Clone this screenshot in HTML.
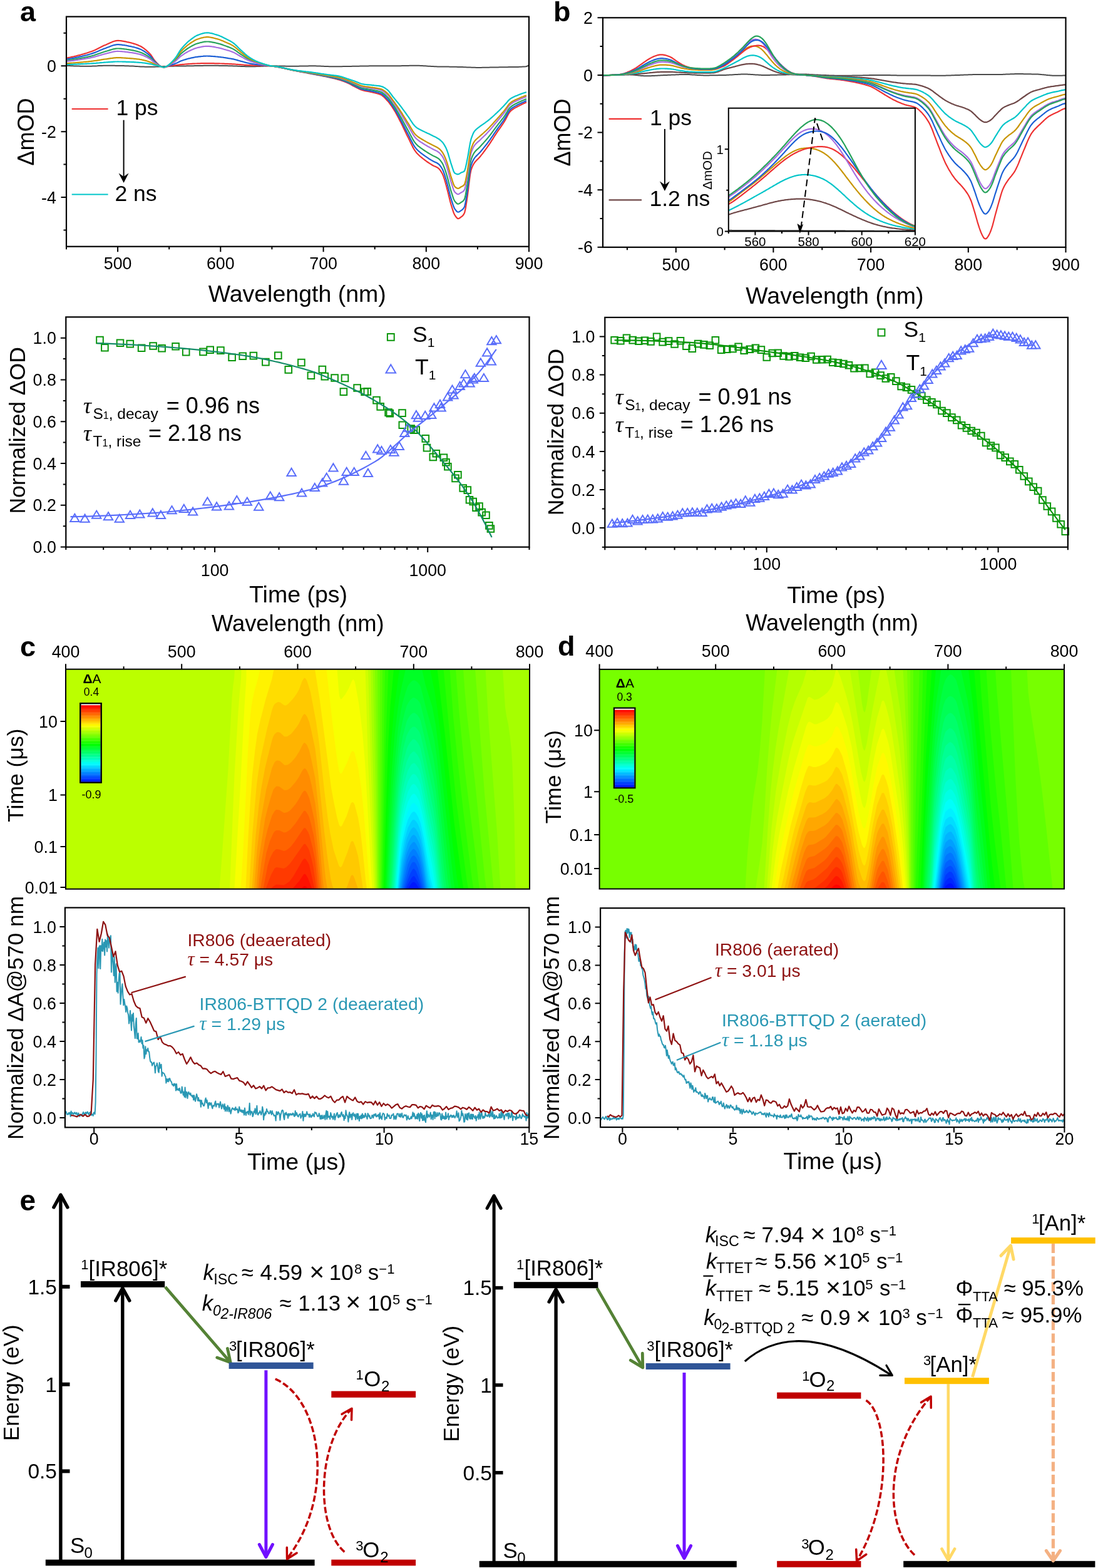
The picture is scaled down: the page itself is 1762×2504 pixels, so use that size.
<!DOCTYPE html>
<html><head><meta charset="utf-8"><style>html,body{margin:0;padding:0;background:#fff}svg{display:block}</style></head>
<body><svg xmlns="http://www.w3.org/2000/svg" width="1762" height="2504" viewBox="0 0 1762 2504" font-family="Liberation Sans, Arial, sans-serif">
<rect width="1762" height="2504" fill="#fff"/>
<path d="M106 104.7L108.5 104.9L110.9 105L113.4 105.2L115.9 105.3L118.4 105.4L120.8 105.5L123.3 105.6L125.8 105.6L128.2 105.7L130.7 105.7L133.2 105.8L135.7 105.8L138.1 105.8L140.6 105.8L143.1 105.7L145.5 105.7L148 105.6L150.5 105.5L153 105.4L155.4 105.3L157.9 105.1L160.4 105L162.8 104.9L165.3 104.8L167.8 104.8L170.3 104.7L172.7 104.7L175.2 104.7L177.7 104.8L180.1 104.8L182.6 104.8L185.1 104.9L187.6 104.9L190 104.9L192.5 105L195 105L197.4 105.1L199.9 105.2L202.4 105.2L204.9 105.3L207.3 105.4L209.8 105.5L212.3 105.6L214.7 105.7L217.2 105.9L219.7 106.1L222.2 106.2L224.6 106.4L227.1 106.5L229.6 106.6L232.1 106.7L234.5 106.8L237 106.8L239.5 106.8L241.9 106.8L244.4 106.7L246.9 106.7L249.4 106.6L251.8 106.5L254.3 106.4L256.8 106.3L259.2 106.2L261.7 106.1L264.2 106L266.7 105.9L269.1 105.8L271.6 105.8L274.1 105.7L276.5 105.7L279 105.6L281.5 105.6L284 105.5L286.4 105.5L288.9 105.5L291.4 105.4L293.8 105.4L296.3 105.4L298.8 105.3L301.3 105.3L303.7 105.3L306.2 105.2L308.7 105.2L311.1 105.1L313.6 105.1L316.1 105L318.6 105L321 104.9L323.5 104.9L326 104.8L328.4 104.8L330.9 104.8L333.4 104.7L335.9 104.7L338.3 104.7L340.8 104.8L343.3 104.8L345.7 104.8L348.2 104.8L350.7 104.9L353.2 104.9L355.6 105L358.1 105L360.6 105.1L363 105.1L365.5 105.2L368 105.2L370.5 105.3L372.9 105.4L375.4 105.5L377.9 105.6L380.3 105.7L382.8 105.8L385.3 105.9L387.8 106L390.2 106.1L392.7 106.2L395.2 106.2L397.6 106.3L400.1 106.3L402.6 106.3L405.1 106.3L407.5 106.2L410 106.1L412.5 106L414.9 105.9L417.4 105.8L419.9 105.7L422.4 105.6L424.8 105.5L427.3 105.4L429.8 105.3L432.2 105.3L434.7 105.3L437.2 105.3L439.7 105.3L442.1 105.3L444.6 105.4L447.1 105.4L449.5 105.5L452 105.6L454.5 105.6L457 105.7L459.4 105.7L461.9 105.8L464.4 105.8L466.8 105.8L469.3 105.8L471.8 105.8L474.3 105.7L476.7 105.7L479.2 105.6L481.7 105.6L484.2 105.5L486.6 105.5L489.1 105.4L491.6 105.4L494 105.3L496.5 105.3L499 105.3L501.5 105.3L503.9 105.3L506.4 105.4L508.9 105.4L511.3 105.5L513.8 105.7L516.3 105.8L518.8 105.9L521.2 106L523.7 106.1L526.2 106.2L528.6 106.3L531.1 106.3L533.6 106.3L536.1 106.3L538.5 106.3L541 106.3L543.5 106.2L545.9 106.2L548.4 106.1L550.9 106.1L553.4 106L555.8 106L558.3 105.9L560.8 105.9L563.2 105.8L565.7 105.8L568.2 105.7L570.7 105.7L573.1 105.7L575.6 105.6L578.1 105.5L580.5 105.5L583 105.4L585.5 105.4L588 105.4L590.4 105.3L592.9 105.3L595.4 105.3L597.8 105.3L600.3 105.3L602.8 105.3L605.3 105.3L607.7 105.3L610.2 105.3L612.7 105.3L615.1 105.3L617.6 105.3L620.1 105.3L622.6 105.3L625 105.3L627.5 105.3L630 105.3L632.4 105.3L634.9 105.2L637.4 105.2L639.9 105.2L642.3 105.1L644.8 105.1L647.3 105L649.7 105L652.2 104.9L654.7 104.8L657.2 104.8L659.6 104.8L662.1 104.7L664.6 104.7L667 104.8L669.5 104.8L672 104.9L674.5 105L676.9 105.2L679.4 105.3L681.9 105.5L684.3 105.7L686.8 105.8L689.3 106L691.8 106.1L694.2 106.2L696.7 106.3L699.2 106.4L701.6 106.4L704.1 106.5L706.6 106.5L709.1 106.5L711.5 106.6L714 106.6L716.5 106.6L718.9 106.7L721.4 106.7L723.9 106.7L726.4 106.8L728.8 106.8L731.3 106.9L733.8 106.9L736.3 107L738.7 107.1L741.2 107.2L743.7 107.3L746.1 107.4L748.6 107.5L751.1 107.6L753.6 107.7L756 107.8L758.5 107.8L761 107.9L763.4 107.9L765.9 107.9L768.4 107.9L770.9 107.8L773.3 107.8L775.8 107.8L778.3 107.7L780.7 107.7L783.2 107.6L785.7 107.6L788.2 107.5L790.6 107.5L793.1 107.4L795.6 107.4L798 107.3L800.5 107.3L803 107.3L805.5 107.2L807.9 107.2L810.4 107.2L812.9 107.1L815.3 107.1L817.8 107.1L820.3 107L822.8 107L825.2 106.9L827.7 106.9L830.2 106.8L832.6 106.7L835.1 106.6L837.6 106.5L840.1 106.3L842.5 105.5L845 104.2" stroke="#4a4a4a" stroke-width="2.0" fill="none" stroke-linejoin="round"/>
<path d="M106 92.7L107.5 92.5L108.9 92.2L110.4 91.9L111.9 91.6L113.4 91.2L114.8 90.9L116.3 90.6L117.8 90.3L119.3 89.9L120.7 89.6L122.2 89.2L123.7 88.8L125.1 88.4L126.6 88.1L128.1 87.7L129.6 87.3L131 86.9L132.5 86.5L134 86.1L135.5 85.6L136.9 85.2L138.4 84.8L139.9 84.3L141.3 83.8L142.8 83.3L144.3 82.8L145.8 82.3L147.2 81.8L148.7 81.2L150.2 80.6L151.7 79.9L153.1 79.2L154.6 78.5L156.1 77.7L157.5 77L159 76.2L160.5 75.5L162 74.7L163.4 74L164.9 73.3L166.4 72.6L167.9 72L169.3 71.4L170.8 70.7L172.3 70.1L173.7 69.4L175.2 68.7L176.7 68L178.2 67.4L179.6 66.8L181.1 66.2L182.6 65.8L184.1 65.4L185.5 65.1L187 64.9L188.5 64.9L189.9 64.9L191.4 65L192.9 65.2L194.4 65.4L195.8 65.6L197.3 65.8L198.8 66.1L200.3 66.4L201.7 66.7L203.2 67.1L204.7 67.4L206.1 67.7L207.6 68L209.1 68.4L210.6 68.8L212 69.2L213.5 69.6L215 70.1L216.5 70.5L217.9 71.1L219.4 71.6L220.9 72.2L222.3 72.9L223.8 73.6L225.3 74.3L226.8 75.2L228.2 76.1L229.7 77.2L231.2 78.3L232.7 79.5L234.1 80.7L235.6 82.1L237.1 83.5L238.5 84.9L240 86.5L241.5 88.3L243 90.5L244.4 92.9L245.9 95.1L247.4 97L248.9 98.7L250.3 100.3L251.8 101.9L253.3 103.3L254.7 104.6L256.2 105.4L257.7 106.2L259.2 106.8L260.6 107.2L262.1 107.4L263.6 107.2L265.1 106.9L266.5 106.5L268 106.1L269.5 105.7L270.9 105.3L272.4 105.1L273.9 104.9L275.4 104.7L276.8 104.6L278.3 104.4L279.8 104.3L281.3 104.1L282.7 104L284.2 103.8L285.7 103.6L287.1 103.4L288.6 103.2L290.1 103.1L291.6 102.9L293 102.8L294.5 102.7L296 102.5L297.5 102.4L298.9 102.3L300.4 102.2L301.9 102.1L303.3 102L304.8 101.9L306.3 101.8L307.8 101.7L309.2 101.7L310.7 101.6L312.2 101.5L313.7 101.5L315.1 101.4L316.6 101.4L318.1 101.3L319.5 101.3L321 101.2L322.5 101.2L324 101.2L325.4 101.1L326.9 101.1L328.4 101.1L329.9 101.1L331.3 101.1L332.8 101.1L334.3 101.1L335.7 101.1L337.2 101.1L338.7 101.2L340.2 101.2L341.6 101.2L343.1 101.3L344.6 101.3L346.1 101.3L347.5 101.4L349 101.4L350.5 101.4L351.9 101.5L353.4 101.5L354.9 101.6L356.4 101.7L357.8 101.7L359.3 101.8L360.8 101.8L362.3 101.9L363.7 101.9L365.2 102L366.7 102.1L368.1 102.1L369.6 102.2L371.1 102.3L372.6 102.4L374 102.4L375.5 102.5L377 102.7L378.5 102.8L379.9 102.9L381.4 103L382.9 103.1L384.3 103.2L385.8 103.3L387.3 103.4L388.8 103.5L390.2 103.7L391.7 103.8L393.2 103.9L394.7 104L396.1 104L397.6 104.1L399.1 104.2L400.5 104.3L402 104.4L403.5 104.4L405 104.5L406.4 104.6L407.9 104.6L409.4 104.7L410.9 104.7L412.3 104.8L413.8 104.8L415.3 104.9L416.7 104.9L418.2 104.9L419.7 105L421.2 105L422.6 105L424.1 105.1L425.6 105.1L427.1 105.2L428.5 105.2L430 105.2L431.5 105.2L432.9 105.3L434.4 105.5L435.9 105.7L437.4 105.9L438.8 106.2L440.3 106.4L441.8 106.7L443.3 106.9L444.7 107.2L446.2 107.5L447.7 107.8L449.1 108.1L450.6 108.4L452.1 108.7L453.6 109L455 109.4L456.5 109.7L458 110L459.5 110.4L460.9 110.7L462.4 111L463.9 111.4L465.3 111.7L466.8 112L468.3 112.3L469.8 112.6L471.2 112.9L472.7 113.2L474.2 113.4L475.7 113.7L477.1 114L478.6 114.3L480.1 114.6L481.5 114.9L483 115.1L484.5 115.4L486 115.7L487.4 116L488.9 116.2L490.4 116.5L491.9 116.8L493.3 117.1L494.8 117.4L496.3 117.6L497.7 117.9L499.2 118.2L500.7 118.5L502.2 118.8L503.6 119L505.1 119.3L506.6 119.6L508.1 119.9L509.5 120.2L511 120.5L512.5 120.7L513.9 121L515.4 121.3L516.9 121.6L518.4 121.9L519.8 122.2L521.3 122.5L522.8 122.9L524.3 123.2L525.7 123.5L527.2 123.8L528.7 124.1L530.1 124.5L531.6 124.8L533.1 125.2L534.6 125.5L536 125.9L537.5 126.3L539 126.7L540.5 127.1L541.9 127.5L543.4 128L544.9 128.4L546.3 128.9L547.8 129.5L549.3 130L550.8 130.6L552.2 131.1L553.7 131.8L555.2 132.4L556.7 133.1L558.1 133.8L559.6 134.6L561.1 135.4L562.5 136.2L564 137L565.5 137.8L567 138.6L568.4 139.3L569.9 140.1L571.4 140.8L572.9 141.5L574.3 142.3L575.8 142.9L577.3 143.5L578.7 144L580.2 144.4L581.7 144.8L583.2 145.1L584.6 145.4L586.1 145.7L587.6 146L589.1 146.2L590.5 146.5L592 146.8L593.5 147.2L594.9 147.5L596.4 147.8L597.9 148.2L599.4 148.5L600.8 148.9L602.3 149.2L603.8 149.7L605.3 150.1L606.7 150.7L608.2 151.3L609.7 152L611.1 153.1L612.6 154.3L614.1 155.7L615.6 157.3L617 158.9L618.5 160.5L620 162.1L621.5 163.9L622.9 165.8L624.4 167.8L625.9 169.9L627.3 172.1L628.8 174.4L630.3 176.8L631.8 179.3L633.2 182L634.7 184.7L636.2 187.6L637.7 190.4L639.1 193.3L640.6 196.1L642.1 199.1L643.5 202.1L645 205.2L646.5 208.3L648 211.4L649.4 214.5L650.9 217.4L652.4 220.3L653.9 223.4L655.3 226.5L656.8 229.5L658.3 232.5L659.7 235.4L661.2 238L662.7 240.4L664.2 242.4L665.6 244.2L667.1 245.8L668.6 247.3L670.1 248.7L671.5 250L673 251.2L674.5 252.4L675.9 253.5L677.4 254.7L678.9 255.8L680.4 256.9L681.8 258L683.3 259L684.8 260L686.3 260.9L687.7 261.9L689.2 262.8L690.7 263.7L692.1 264.5L693.6 265.2L695.1 265.8L696.6 266.5L698 267.2L699.5 268.2L701 269.3L702.5 270.9L703.9 272.9L705.4 275.3L706.9 278L708.3 281.4L709.8 285.8L711.3 290.9L712.8 296.2L714.2 301.6L715.7 307.5L717.2 313.8L718.7 319.9L720.1 325.3L721.6 330.2L723.1 334.9L724.5 339.2L726 342.6L727.5 345L729 347.1L730.4 348.6L731.9 349.1L733.4 348.7L734.9 347.8L736.3 346.7L737.8 345.6L739.3 344.3L740.7 342.5L742.2 339.5L743.7 332.7L745.2 323.4L746.6 313.9L748.1 302.6L749.6 289.7L751.1 278.4L752.5 271.5L754 267.4L755.5 264.1L756.9 261.5L758.4 259.3L759.9 257.5L761.4 255.9L762.8 254.5L764.3 253.1L765.8 251.5L767.3 249.8L768.7 247.9L770.2 246.1L771.7 244.2L773.1 242.2L774.6 240.3L776.1 238.2L777.6 236.2L779 234.1L780.5 232L782 229.9L783.5 227.6L784.9 225.4L786.4 223.1L787.9 220.8L789.3 218.5L790.8 216.2L792.3 213.9L793.8 211.7L795.2 209.5L796.7 207.4L798.2 205.3L799.7 203.2L801.1 201.1L802.6 198.9L804.1 196.7L805.5 194.5L807 192L808.5 189.2L810 186.3L811.4 183.5L812.9 180.9L814.4 178.8L815.9 177.2L817.3 176L818.8 174.8L820.3 173.8L821.7 172.9L823.2 172.1L824.7 171.3L826.2 170.5L827.6 169.7L829.1 169L830.6 168.2L832.1 167.4L833.5 166.7L835 166L836.5 165.3L837.9 164.7L839.4 164.1L840.9 163.5" stroke="#ee3131" stroke-width="2.2" fill="none" stroke-linejoin="round"/>
<path d="M106 94.7L107.5 94.5L108.9 94.2L110.4 94L111.9 93.7L113.4 93.4L114.8 93.2L116.3 92.9L117.8 92.6L119.3 92.3L120.7 92L122.2 91.7L123.7 91.4L125.1 91.1L126.6 90.7L128.1 90.4L129.6 90.1L131 89.8L132.5 89.4L134 89.1L135.5 88.7L136.9 88.3L138.4 88L139.9 87.6L141.3 87.2L142.8 86.8L144.3 86.3L145.8 85.9L147.2 85.4L148.7 84.9L150.2 84.4L151.7 83.9L153.1 83.3L154.6 82.7L156.1 82L157.5 81.4L159 80.7L160.5 80.1L162 79.5L163.4 78.9L164.9 78.3L166.4 77.7L167.9 77.2L169.3 76.7L170.8 76.1L172.3 75.5L173.7 75L175.2 74.4L176.7 73.8L178.2 73.3L179.6 72.8L181.1 72.3L182.6 71.9L184.1 71.6L185.5 71.3L187 71.2L188.5 71.2L189.9 71.2L191.4 71.3L192.9 71.4L194.4 71.6L195.8 71.8L197.3 72L198.8 72.2L200.3 72.5L201.7 72.7L203.2 73L204.7 73.3L206.1 73.6L207.6 73.8L209.1 74.1L210.6 74.5L212 74.8L213.5 75.2L215 75.5L216.5 76L217.9 76.4L219.4 76.9L220.9 77.4L222.3 77.9L223.8 78.5L225.3 79.1L226.8 79.9L228.2 80.7L229.7 81.5L231.2 82.5L232.7 83.5L234.1 84.6L235.6 85.7L237.1 86.9L238.5 88.1L240 89.4L241.5 91L243 92.8L244.4 94.8L245.9 96.7L247.4 98.3L248.9 99.7L250.3 101.1L251.8 102.4L253.3 103.7L254.7 104.8L256.2 105.6L257.7 106.2L259.2 106.8L260.6 107.2L262.1 107.3L263.6 107.2L265.1 106.8L266.5 106.3L268 105.8L269.5 105.2L270.9 104.6L272.4 104.1L273.9 103.6L275.4 103.1L276.8 102.6L278.3 102.2L279.8 101.6L281.3 101L282.7 100.4L284.2 99.7L285.7 98.9L287.1 98.2L288.6 97.6L290.1 97L291.6 96.5L293 96L294.5 95.5L296 95.1L297.5 94.6L298.9 94.2L300.4 93.8L301.9 93.4L303.3 93.1L304.8 92.7L306.3 92.4L307.8 92.1L309.2 91.8L310.7 91.5L312.2 91.2L313.7 91L315.1 90.8L316.6 90.6L318.1 90.4L319.5 90.3L321 90.1L322.5 90L324 89.9L325.4 89.7L326.9 89.6L328.4 89.6L329.9 89.5L331.3 89.5L332.8 89.6L334.3 89.6L335.7 89.7L337.2 89.8L338.7 89.9L340.2 90L341.6 90.1L343.1 90.2L344.6 90.4L346.1 90.5L347.5 90.6L349 90.8L350.5 91L351.9 91.1L353.4 91.3L354.9 91.5L356.4 91.7L357.8 92L359.3 92.2L360.8 92.4L362.3 92.6L363.7 92.8L365.2 93.1L366.7 93.3L368.1 93.5L369.6 93.8L371.1 94.1L372.6 94.4L374 94.7L375.5 95.1L377 95.5L378.5 95.9L379.9 96.4L381.4 96.8L382.9 97.2L384.3 97.6L385.8 98L387.3 98.4L388.8 98.8L390.2 99.2L391.7 99.6L393.2 100L394.7 100.4L396.1 100.7L397.6 101L399.1 101.3L400.5 101.6L402 101.9L403.5 102.1L405 102.4L406.4 102.6L407.9 102.8L409.4 103L410.9 103.2L412.3 103.4L413.8 103.6L415.3 103.7L416.7 103.9L418.2 104L419.7 104.2L421.2 104.3L422.6 104.4L424.1 104.6L425.6 104.7L427.1 104.9L428.5 105L430 105.1L431.5 105.2L432.9 105.3L434.4 105.5L435.9 105.6L437.4 105.9L438.8 106.1L440.3 106.4L441.8 106.6L443.3 106.9L444.7 107.1L446.2 107.4L447.7 107.7L449.1 108L450.6 108.3L452.1 108.6L453.6 108.9L455 109.3L456.5 109.6L458 110L459.5 110.3L460.9 110.6L462.4 111L463.9 111.3L465.3 111.6L466.8 111.9L468.3 112.2L469.8 112.5L471.2 112.8L472.7 113L474.2 113.3L475.7 113.6L477.1 113.9L478.6 114.1L480.1 114.4L481.5 114.7L483 114.9L484.5 115.2L486 115.4L487.4 115.7L488.9 116L490.4 116.2L491.9 116.5L493.3 116.7L494.8 117L496.3 117.3L497.7 117.5L499.2 117.8L500.7 118.1L502.2 118.4L503.6 118.6L505.1 118.9L506.6 119.2L508.1 119.4L509.5 119.7L511 120L512.5 120.3L513.9 120.5L515.4 120.8L516.9 121.1L518.4 121.4L519.8 121.7L521.3 122L522.8 122.3L524.3 122.6L525.7 122.9L527.2 123.2L528.7 123.5L530.1 123.8L531.6 124.1L533.1 124.4L534.6 124.8L536 125.1L537.5 125.5L539 125.9L540.5 126.2L541.9 126.7L543.4 127.1L544.9 127.5L546.3 128L547.8 128.5L549.3 129.1L550.8 129.6L552.2 130.2L553.7 130.8L555.2 131.4L556.7 132.1L558.1 132.8L559.6 133.5L561.1 134.3L562.5 135.1L564 135.8L565.5 136.6L567 137.3L568.4 138L569.9 138.7L571.4 139.4L572.9 140.2L574.3 140.9L575.8 141.5L577.3 142.1L578.7 142.5L580.2 142.9L581.7 143.3L583.2 143.6L584.6 143.9L586.1 144.1L587.6 144.4L589.1 144.6L590.5 144.9L592 145.2L593.5 145.5L594.9 145.8L596.4 146.1L597.9 146.4L599.4 146.7L600.8 147.1L602.3 147.4L603.8 147.8L605.3 148.2L606.7 148.7L608.2 149.3L609.7 150L611.1 150.9L612.6 152.1L614.1 153.4L615.6 154.9L617 156.4L618.5 157.9L620 159.5L621.5 161.3L622.9 163.2L624.4 165.2L625.9 167.3L627.3 169.4L628.8 171.6L630.3 174L631.8 176.4L633.2 178.9L634.7 181.5L636.2 184.2L637.7 186.9L639.1 189.6L640.6 192.4L642.1 195.2L643.5 198.1L645 201L646.5 203.9L648 206.9L649.4 209.8L650.9 212.6L652.4 215.4L653.9 218.3L655.3 221.3L656.8 224.2L658.3 227.1L659.7 229.8L661.2 232.4L662.7 234.6L664.2 236.6L665.6 238.2L667.1 239.8L668.6 241.2L670.1 242.5L671.5 243.7L673 244.8L674.5 245.9L675.9 247L677.4 248.1L678.9 249.2L680.4 250.2L681.8 251.2L683.3 252.2L684.8 253.2L686.3 254.1L687.7 255L689.2 255.9L690.7 256.7L692.1 257.5L693.6 258.2L695.1 258.9L696.6 259.6L698 260.3L699.5 261.2L701 262.4L702.5 263.9L703.9 265.7L705.4 268L706.9 270.5L708.3 273.7L709.8 277.8L711.3 282.5L712.8 287.5L714.2 292.6L715.7 298.3L717.2 304.4L718.7 310.4L720.1 315.7L721.6 320.5L723.1 325.3L724.5 329.5L726 332.8L727.5 335L729 336.9L730.4 338.3L731.9 338.7L733.4 338.3L734.9 337.3L736.3 336.3L737.8 335.3L739.3 334.1L740.7 332.5L742.2 329.7L743.7 323.1L745.2 314.3L746.6 305.1L748.1 294.2L749.6 281.9L751.1 271L752.5 264.3L754 260.1L755.5 256.8L756.9 254.1L758.4 251.9L759.9 250.1L761.4 248.6L762.8 247.2L764.3 245.8L765.8 244.3L767.3 242.7L768.7 241L770.2 239.2L771.7 237.4L773.1 235.6L774.6 233.8L776.1 231.9L777.6 230L779 228.1L780.5 226.1L782 224.1L783.5 222L784.9 219.9L786.4 217.8L787.9 215.6L789.3 213.4L790.8 211.3L792.3 209.1L793.8 207L795.2 205L796.7 202.9L798.2 200.9L799.7 198.9L801.1 196.9L802.6 194.9L804.1 192.8L805.5 190.6L807 188.2L808.5 185.6L810 182.9L811.4 180.3L812.9 177.8L814.4 175.8L815.9 174.3L817.3 173.1L818.8 172L820.3 171.1L821.7 170.2L823.2 169.4L824.7 168.6L826.2 167.8L827.6 167.1L829.1 166.3L830.6 165.6L832.1 164.9L833.5 164.2L835 163.5L836.5 162.9L837.9 162.2L839.4 161.6L840.9 161.1" stroke="#1b5fd5" stroke-width="2.2" fill="none" stroke-linejoin="round"/>
<path d="M106 96.6L107.5 96.5L108.9 96.3L110.4 96L111.9 95.8L113.4 95.6L114.8 95.4L116.3 95.2L117.8 94.9L119.3 94.7L120.7 94.4L122.2 94.2L123.7 93.9L125.1 93.7L126.6 93.4L128.1 93.2L129.6 92.9L131 92.6L132.5 92.3L134 92.1L135.5 91.8L136.9 91.5L138.4 91.2L139.9 90.8L141.3 90.5L142.8 90.2L144.3 89.8L145.8 89.5L147.2 89.1L148.7 88.7L150.2 88.3L151.7 87.8L153.1 87.3L154.6 86.8L156.1 86.3L157.5 85.8L159 85.3L160.5 84.7L162 84.2L163.4 83.7L164.9 83.2L166.4 82.8L167.9 82.3L169.3 81.9L170.8 81.5L172.3 81L173.7 80.6L175.2 80.1L176.7 79.6L178.2 79.2L179.6 78.8L181.1 78.4L182.6 78.1L184.1 77.8L185.5 77.6L187 77.5L188.5 77.5L189.9 77.5L191.4 77.6L192.9 77.7L194.4 77.8L195.8 78L197.3 78.1L198.8 78.3L200.3 78.5L201.7 78.7L203.2 79L204.7 79.2L206.1 79.4L207.6 79.6L209.1 79.9L210.6 80.1L212 80.4L213.5 80.7L215 81L216.5 81.4L217.9 81.7L219.4 82.1L220.9 82.5L222.3 83L223.8 83.4L225.3 84L226.8 84.6L228.2 85.2L229.7 85.9L231.2 86.7L232.7 87.5L234.1 88.4L235.6 89.3L237.1 90.3L238.5 91.3L240 92.3L241.5 93.6L243 95.1L244.4 96.7L245.9 98.3L247.4 99.6L248.9 100.7L250.3 101.9L251.8 103L253.3 104L254.7 105L256.2 105.7L257.7 106.3L259.2 106.9L260.6 107.2L262.1 107.3L263.6 107L265.1 106.5L266.5 105.9L268 105.1L269.5 104.2L270.9 103.3L272.4 102.2L273.9 101.1L275.4 99.9L276.8 98.8L278.3 97.6L279.8 96.3L281.3 94.8L282.7 93.2L284.2 91.4L285.7 89.6L287.1 87.9L288.6 86.3L290.1 84.9L291.6 83.7L293 82.4L294.5 81.3L296 80.1L297.5 79L298.9 78L300.4 77L301.9 76.1L303.3 75.2L304.8 74.4L306.3 73.5L307.8 72.7L309.2 72L310.7 71.2L312.2 70.6L313.7 70L315.1 69.5L316.6 69.1L318.1 68.7L319.5 68.3L321 67.9L322.5 67.6L324 67.2L325.4 67L326.9 66.7L328.4 66.6L329.9 66.5L331.3 66.5L332.8 66.5L334.3 66.6L335.7 66.8L337.2 67L338.7 67.3L340.2 67.6L341.6 67.9L343.1 68.2L344.6 68.5L346.1 68.9L347.5 69.2L349 69.6L350.5 70L351.9 70.4L353.4 70.9L354.9 71.4L356.4 71.9L357.8 72.5L359.3 73L360.8 73.5L362.3 74.1L363.7 74.6L365.2 75.1L366.7 75.7L368.1 76.3L369.6 77L371.1 77.6L372.6 78.4L374 79.2L375.5 80.1L377 81.2L378.5 82.2L379.9 83.3L381.4 84.4L382.9 85.4L384.3 86.5L385.8 87.4L387.3 88.4L388.8 89.4L390.2 90.4L391.7 91.3L393.2 92.3L394.7 93.2L396.1 94L397.6 94.8L399.1 95.5L400.5 96.2L402 96.9L403.5 97.5L405 98.1L406.4 98.7L407.9 99.2L409.4 99.7L410.9 100.2L412.3 100.6L413.8 101.1L415.3 101.5L416.7 101.9L418.2 102.2L419.7 102.6L421.2 102.9L422.6 103.2L424.1 103.6L425.6 103.9L427.1 104.3L428.5 104.6L430 104.9L431.5 105.1L432.9 105.3L434.4 105.4L435.9 105.6L437.4 105.8L438.8 106.1L440.3 106.3L441.8 106.5L443.3 106.8L444.7 107L446.2 107.3L447.7 107.5L449.1 107.9L450.6 108.2L452.1 108.5L453.6 108.8L455 109.2L456.5 109.5L458 109.9L459.5 110.2L460.9 110.6L462.4 110.9L463.9 111.2L465.3 111.5L466.8 111.8L468.3 112.1L469.8 112.4L471.2 112.6L472.7 112.9L474.2 113.2L475.7 113.4L477.1 113.7L478.6 113.9L480.1 114.2L481.5 114.4L483 114.6L484.5 114.9L486 115.1L487.4 115.4L488.9 115.6L490.4 115.9L491.9 116.1L493.3 116.3L494.8 116.6L496.3 116.8L497.7 117.1L499.2 117.4L500.7 117.6L502.2 117.9L503.6 118.1L505.1 118.4L506.6 118.6L508.1 118.9L509.5 119.2L511 119.4L512.5 119.7L513.9 120L515.4 120.2L516.9 120.5L518.4 120.8L519.8 121L521.3 121.3L522.8 121.6L524.3 121.9L525.7 122.2L527.2 122.4L528.7 122.7L530.1 123L531.6 123.3L533.1 123.6L534.6 123.9L536 124.2L537.5 124.5L539 124.8L540.5 125.2L541.9 125.6L543.4 126L544.9 126.4L546.3 126.9L547.8 127.4L549.3 127.9L550.8 128.5L552.2 129L553.7 129.6L555.2 130.2L556.7 130.8L558.1 131.5L559.6 132.2L561.1 132.9L562.5 133.6L564 134.3L565.5 135L567 135.7L568.4 136.3L569.9 137L571.4 137.7L572.9 138.4L574.3 139.1L575.8 139.7L577.3 140.3L578.7 140.7L580.2 141.1L581.7 141.4L583.2 141.7L584.6 142L586.1 142.2L587.6 142.4L589.1 142.7L590.5 142.9L592 143.2L593.5 143.4L594.9 143.7L596.4 144L597.9 144.3L599.4 144.6L600.8 144.8L602.3 145.1L603.8 145.5L605.3 145.9L606.7 146.3L608.2 146.8L609.7 147.4L611.1 148.3L612.6 149.4L614.1 150.6L615.6 151.9L617 153.3L618.5 154.8L620 156.3L621.5 158L622.9 159.9L624.4 161.9L625.9 164L627.3 166.1L628.8 168.2L630.3 170.4L631.8 172.7L633.2 175.1L634.7 177.6L636.2 180L637.7 182.6L639.1 185.1L640.6 187.6L642.1 190.3L643.5 193L645 195.7L646.5 198.5L648 201.2L649.4 203.9L650.9 206.6L652.4 209.2L653.9 212L655.3 214.8L656.8 217.6L658.3 220.3L659.7 222.9L661.2 225.3L662.7 227.5L664.2 229.3L665.6 230.9L667.1 232.3L668.6 233.6L670.1 234.7L671.5 235.9L673 236.9L674.5 237.9L675.9 239L677.4 240L678.9 241L680.4 241.9L681.8 242.9L683.3 243.8L684.8 244.7L686.3 245.6L687.7 246.4L689.2 247.3L690.7 248.1L692.1 248.9L693.6 249.6L695.1 250.2L696.6 250.9L698 251.7L699.5 252.6L701 253.7L702.5 255.1L703.9 256.8L705.4 258.9L706.9 261.2L708.3 264.1L709.8 267.9L711.3 272.1L712.8 276.7L714.2 281.4L715.7 286.9L717.2 292.8L718.7 298.5L720.1 303.7L721.6 308.5L723.1 313.2L724.5 317.4L726 320.6L727.5 322.6L729 324.2L730.4 325.4L731.9 325.8L733.4 325.3L734.9 324.4L736.3 323.3L737.8 322.4L739.3 321.4L740.7 320L742.2 317.4L743.7 311.3L745.2 302.8L746.6 294.1L748.1 283.8L749.6 272.2L751.1 261.8L752.5 255.3L754 251L755.5 247.6L756.9 244.9L758.4 242.7L759.9 240.9L761.4 239.4L762.8 238.1L764.3 236.8L765.8 235.4L767.3 233.8L768.7 232.2L770.2 230.6L771.7 229L773.1 227.4L774.6 225.7L776.1 224.1L777.6 222.3L779 220.6L780.5 218.8L782 216.9L783.5 215L784.9 213.1L786.4 211.1L787.9 209.1L789.3 207.2L790.8 205.2L792.3 203.2L793.8 201.2L795.2 199.3L796.7 197.4L798.2 195.5L799.7 193.6L801.1 191.7L802.6 189.8L804.1 187.8L805.5 185.8L807 183.6L808.5 181.2L810 178.7L811.4 176.2L812.9 174L814.4 172.1L815.9 170.7L817.3 169.6L818.8 168.5L820.3 167.6L821.7 166.8L823.2 166L824.7 165.2L826.2 164.5L827.6 163.8L829.1 163.1L830.6 162.4L832.1 161.7L833.5 161L835 160.4L836.5 159.8L837.9 159.2L839.4 158.6L840.9 158.1" stroke="#27a35b" stroke-width="2.2" fill="none" stroke-linejoin="round"/>
<path d="M106 98L107.5 97.9L108.9 97.7L110.4 97.5L111.9 97.3L113.4 97.2L114.8 97L116.3 96.8L117.8 96.6L119.3 96.4L120.7 96.2L122.2 96L123.7 95.8L125.1 95.5L126.6 95.3L128.1 95.1L129.6 94.9L131 94.6L132.5 94.4L134 94.2L135.5 93.9L136.9 93.7L138.4 93.4L139.9 93.1L141.3 92.9L142.8 92.6L144.3 92.3L145.8 92L147.2 91.7L148.7 91.4L150.2 91L151.7 90.6L153.1 90.2L154.6 89.8L156.1 89.4L157.5 88.9L159 88.5L160.5 88L162 87.6L163.4 87.2L164.9 86.8L166.4 86.4L167.9 86L169.3 85.7L170.8 85.3L172.3 84.9L173.7 84.5L175.2 84.1L176.7 83.7L178.2 83.4L179.6 83L181.1 82.7L182.6 82.4L184.1 82.2L185.5 82L187 81.9L188.5 81.9L189.9 82L191.4 82L192.9 82.1L194.4 82.2L195.8 82.3L197.3 82.5L198.8 82.6L200.3 82.8L201.7 83L203.2 83.2L204.7 83.4L206.1 83.6L207.6 83.8L209.1 84L210.6 84.2L212 84.4L213.5 84.6L215 84.9L216.5 85.2L217.9 85.5L219.4 85.8L220.9 86.2L222.3 86.5L223.8 86.9L225.3 87.4L226.8 87.9L228.2 88.4L229.7 89L231.2 89.7L232.7 90.4L234.1 91.1L235.6 91.9L237.1 92.7L238.5 93.5L240 94.4L241.5 95.5L243 96.8L244.4 98.1L245.9 99.4L247.4 100.5L248.9 101.5L250.3 102.4L251.8 103.4L253.3 104.3L254.7 105.1L256.2 105.8L257.7 106.4L259.2 106.9L260.6 107.2L262.1 107.3L263.6 107.1L265.1 106.6L266.5 106L268 105.3L269.5 104.5L270.9 103.7L272.4 102.8L273.9 101.9L275.4 100.9L276.8 100L278.3 99.1L279.8 98L281.3 96.8L282.7 95.5L284.2 94L285.7 92.6L287.1 91.2L288.6 89.9L290.1 88.8L291.6 87.8L293 86.8L294.5 85.8L296 84.9L297.5 84L298.9 83.2L300.4 82.4L301.9 81.6L303.3 80.9L304.8 80.2L306.3 79.5L307.8 78.9L309.2 78.3L310.7 77.7L312.2 77.1L313.7 76.7L315.1 76.3L316.6 75.9L318.1 75.6L319.5 75.3L321 75L322.5 74.7L324 74.4L325.4 74.2L326.9 74L328.4 73.9L329.9 73.8L331.3 73.8L332.8 73.8L334.3 73.9L335.7 74.1L337.2 74.2L338.7 74.5L340.2 74.7L341.6 74.9L343.1 75.2L344.6 75.5L346.1 75.8L347.5 76L349 76.3L350.5 76.6L351.9 77L353.4 77.4L354.9 77.8L356.4 78.2L357.8 78.7L359.3 79.1L360.8 79.5L362.3 80L363.7 80.4L365.2 80.8L366.7 81.3L368.1 81.8L369.6 82.3L371.1 82.9L372.6 83.5L374 84.1L375.5 84.9L377 85.7L378.5 86.6L379.9 87.5L381.4 88.3L382.9 89.2L384.3 90L385.8 90.8L387.3 91.6L388.8 92.4L390.2 93.2L391.7 94L393.2 94.7L394.7 95.5L396.1 96.2L397.6 96.8L399.1 97.4L400.5 97.9L402 98.5L403.5 99L405 99.5L406.4 99.9L407.9 100.3L409.4 100.7L410.9 101.1L412.3 101.5L413.8 101.8L415.3 102.2L416.7 102.5L418.2 102.8L419.7 103.1L421.2 103.4L422.6 103.6L424.1 103.9L425.6 104.2L427.1 104.5L428.5 104.7L430 104.9L431.5 105.1L432.9 105.3L434.4 105.4L435.9 105.6L437.4 105.8L438.8 106L440.3 106.2L441.8 106.4L443.3 106.6L444.7 106.9L446.2 107.1L447.7 107.4L449.1 107.7L450.6 108L452.1 108.4L453.6 108.7L455 109.1L456.5 109.4L458 109.8L459.5 110.1L460.9 110.5L462.4 110.8L463.9 111.1L465.3 111.4L466.8 111.7L468.3 112L469.8 112.2L471.2 112.5L472.7 112.7L474.2 113L475.7 113.2L477.1 113.4L478.6 113.7L480.1 113.9L481.5 114.1L483 114.3L484.5 114.5L486 114.8L487.4 115L488.9 115.2L490.4 115.4L491.9 115.6L493.3 115.9L494.8 116.1L496.3 116.3L497.7 116.5L499.2 116.8L500.7 117L502.2 117.3L503.6 117.5L505.1 117.8L506.6 118L508.1 118.2L509.5 118.5L511 118.7L512.5 119L513.9 119.2L515.4 119.5L516.9 119.8L518.4 120L519.8 120.3L521.3 120.5L522.8 120.8L524.3 121L525.7 121.3L527.2 121.5L528.7 121.7L530.1 122L531.6 122.2L533.1 122.5L534.6 122.8L536 123L537.5 123.3L539 123.6L540.5 123.9L541.9 124.3L543.4 124.7L544.9 125.1L546.3 125.6L547.8 126.1L549.3 126.6L550.8 127.1L552.2 127.6L553.7 128.2L555.2 128.7L556.7 129.3L558.1 129.9L559.6 130.5L561.1 131.2L562.5 131.8L564 132.5L565.5 133.1L567 133.7L568.4 134.3L569.9 135L571.4 135.7L572.9 136.3L574.3 137L575.8 137.6L577.3 138.1L578.7 138.5L580.2 138.9L581.7 139.2L583.2 139.4L584.6 139.7L586.1 139.9L587.6 140.1L589.1 140.3L590.5 140.5L592 140.7L593.5 141L594.9 141.2L596.4 141.5L597.9 141.7L599.4 141.9L600.8 142.2L602.3 142.4L603.8 142.7L605.3 143L606.7 143.4L608.2 143.8L609.7 144.4L611.1 145.1L612.6 146.1L614.1 147.1L615.6 148.4L617 149.6L618.5 150.9L620 152.4L621.5 154.1L622.9 156L624.4 158L625.9 160.1L627.3 162.1L628.8 164.2L630.3 166.2L631.8 168.4L633.2 170.5L634.7 172.8L636.2 175L637.7 177.3L639.1 179.6L640.6 182L642.1 184.4L643.5 186.9L645 189.4L646.5 191.9L648 194.4L649.4 196.9L650.9 199.3L652.4 201.8L653.9 204.4L655.3 207L656.8 209.6L658.3 212.2L659.7 214.6L661.2 216.9L662.7 218.9L664.2 220.6L665.6 222L667.1 223.2L668.6 224.4L670.1 225.5L671.5 226.5L673 227.4L674.5 228.3L675.9 229.2L677.4 230.2L678.9 231.1L680.4 232L681.8 232.8L683.3 233.7L684.8 234.5L686.3 235.3L687.7 236.1L689.2 236.9L690.7 237.7L692.1 238.5L693.6 239.2L695.1 239.9L696.6 240.6L698 241.4L699.5 242.3L701 243.3L702.5 244.6L703.9 246.2L705.4 248L706.9 250.1L708.3 252.6L709.8 255.9L711.3 259.6L712.8 263.7L714.2 268L715.7 273.1L717.2 278.7L718.7 284.3L720.1 289.3L721.6 294L723.1 298.7L724.5 302.9L726 306L727.5 307.7L729 309L730.4 309.9L731.9 310.2L733.4 309.7L734.9 308.7L736.3 307.7L737.8 306.9L739.3 306.1L740.7 304.9L742.2 302.7L743.7 297L745.2 289.1L746.6 280.9L748.1 271.3L749.6 260.5L751.1 250.8L752.5 244.4L754 240.1L755.5 236.6L756.9 233.8L758.4 231.7L759.9 229.9L761.4 228.4L762.8 227.2L764.3 225.9L765.8 224.6L767.3 223.2L768.7 221.8L770.2 220.3L771.7 218.9L773.1 217.5L774.6 216.1L776.1 214.6L777.6 213.1L779 211.5L780.5 209.9L782 208.3L783.5 206.6L784.9 204.9L786.4 203.1L787.9 201.4L789.3 199.6L790.8 197.8L792.3 196L793.8 194.3L795.2 192.5L796.7 190.8L798.2 189L799.7 187.3L801.1 185.5L802.6 183.7L804.1 181.9L805.5 180L807 178L808.5 175.8L810 173.6L811.4 171.4L812.9 169.4L814.4 167.6L815.9 166.3L817.3 165.3L818.8 164.3L820.3 163.4L821.7 162.6L823.2 161.9L824.7 161.2L826.2 160.5L827.6 159.9L829.1 159.2L830.6 158.5L832.1 157.9L833.5 157.3L835 156.7L836.5 156.1L837.9 155.5L839.4 155L840.9 154.5" stroke="#a76ee0" stroke-width="2.2" fill="none" stroke-linejoin="round"/>
<path d="M106 101.2L107.5 101.1L108.9 101L110.4 100.9L111.9 100.8L113.4 100.7L114.8 100.6L116.3 100.5L117.8 100.4L119.3 100.3L120.7 100.2L122.2 100L123.7 99.9L125.1 99.8L126.6 99.7L128.1 99.6L129.6 99.4L131 99.3L132.5 99.2L134 99L135.5 98.9L136.9 98.8L138.4 98.6L139.9 98.5L141.3 98.3L142.8 98.1L144.3 98L145.8 97.8L147.2 97.6L148.7 97.5L150.2 97.2L151.7 97L153.1 96.8L154.6 96.6L156.1 96.3L157.5 96.1L159 95.8L160.5 95.6L162 95.3L163.4 95.1L164.9 94.9L166.4 94.7L167.9 94.5L169.3 94.3L170.8 94.1L172.3 93.8L173.7 93.6L175.2 93.4L176.7 93.2L178.2 93L179.6 92.8L181.1 92.6L182.6 92.4L184.1 92.3L185.5 92.2L187 92.2L188.5 92.2L189.9 92.2L191.4 92.2L192.9 92.2L194.4 92.3L195.8 92.4L197.3 92.5L198.8 92.6L200.3 92.7L201.7 92.8L203.2 92.9L204.7 93L206.1 93.1L207.6 93.2L209.1 93.3L210.6 93.4L212 93.5L213.5 93.7L215 93.8L216.5 94L217.9 94.2L219.4 94.3L220.9 94.5L222.3 94.7L223.8 95L225.3 95.2L226.8 95.5L228.2 95.8L229.7 96.1L231.2 96.5L232.7 96.9L234.1 97.3L235.6 97.7L237.1 98.2L238.5 98.7L240 99.2L241.5 99.8L243 100.5L244.4 101.2L245.9 102L247.4 102.6L248.9 103.1L250.3 103.7L251.8 104.3L253.3 104.9L254.7 105.5L256.2 106L257.7 106.5L259.2 106.9L260.6 107.3L262.1 107.3L263.6 107L265.1 106.4L266.5 105.7L268 104.9L269.5 103.9L270.9 102.8L272.4 101.6L273.9 100.3L275.4 98.9L276.8 97.5L278.3 96.2L279.8 94.6L281.3 92.9L282.7 90.9L284.2 88.8L285.7 86.7L287.1 84.6L288.6 82.8L290.1 81.1L291.6 79.6L293 78.1L294.5 76.7L296 75.4L297.5 74.1L298.9 72.8L300.4 71.7L301.9 70.6L303.3 69.5L304.8 68.5L306.3 67.5L307.8 66.6L309.2 65.7L310.7 64.8L312.2 64L313.7 63.3L315.1 62.7L316.6 62.2L318.1 61.8L319.5 61.3L321 60.8L322.5 60.4L324 60.1L325.4 59.7L326.9 59.5L328.4 59.3L329.9 59.1L331.3 59.1L332.8 59.2L334.3 59.3L335.7 59.5L337.2 59.8L338.7 60.1L340.2 60.4L341.6 60.8L343.1 61.2L344.6 61.6L346.1 62L347.5 62.4L349 62.8L350.5 63.3L351.9 63.8L353.4 64.4L354.9 65L356.4 65.6L357.8 66.2L359.3 66.9L360.8 67.5L362.3 68.2L363.7 68.8L365.2 69.4L366.7 70.1L368.1 70.8L369.6 71.6L371.1 72.4L372.6 73.3L374 74.3L375.5 75.4L377 76.6L378.5 77.9L379.9 79.1L381.4 80.4L382.9 81.7L384.3 82.9L385.8 84.1L387.3 85.2L388.8 86.4L390.2 87.6L391.7 88.7L393.2 89.8L394.7 90.9L396.1 91.9L397.6 92.8L399.1 93.7L400.5 94.5L402 95.3L403.5 96L405 96.7L406.4 97.4L407.9 98L409.4 98.6L410.9 99.2L412.3 99.7L413.8 100.3L415.3 100.7L416.7 101.2L418.2 101.7L419.7 102.1L421.2 102.5L422.6 102.8L424.1 103.3L425.6 103.7L427.1 104.1L428.5 104.5L430 104.8L431.5 105L432.9 105.3L434.4 105.4L435.9 105.6L437.4 105.7L438.8 105.9L440.3 106.1L441.8 106.4L443.3 106.6L444.7 106.8L446.2 107L447.7 107.3L449.1 107.6L450.6 108L452.1 108.3L453.6 108.6L455 109L456.5 109.4L458 109.7L459.5 110.1L460.9 110.4L462.4 110.7L463.9 111.1L465.3 111.4L466.8 111.6L468.3 111.9L469.8 112.1L471.2 112.4L472.7 112.6L474.2 112.9L475.7 113.1L477.1 113.3L478.6 113.5L480.1 113.7L481.5 113.9L483 114.1L484.5 114.3L486 114.6L487.4 114.8L488.9 115L490.4 115.2L491.9 115.4L493.3 115.6L494.8 115.8L496.3 116L497.7 116.2L499.2 116.5L500.7 116.7L502.2 116.9L503.6 117.1L505.1 117.4L506.6 117.6L508.1 117.9L509.5 118.1L511 118.3L512.5 118.6L513.9 118.8L515.4 119.1L516.9 119.3L518.4 119.6L519.8 119.8L521.3 120L522.8 120.3L524.3 120.5L525.7 120.7L527.2 121L528.7 121.2L530.1 121.4L531.6 121.6L533.1 121.9L534.6 122.1L536 122.4L537.5 122.6L539 122.9L540.5 123.2L541.9 123.5L543.4 123.9L544.9 124.3L546.3 124.8L547.8 125.3L549.3 125.8L550.8 126.3L552.2 126.8L553.7 127.3L555.2 127.9L556.7 128.4L558.1 129L559.6 129.6L561.1 130.2L562.5 130.8L564 131.4L565.5 132L567 132.6L568.4 133.2L569.9 133.8L571.4 134.5L572.9 135.1L574.3 135.8L575.8 136.3L577.3 136.8L578.7 137.2L580.2 137.6L581.7 137.8L583.2 138.1L584.6 138.3L586.1 138.5L587.6 138.7L589.1 138.9L590.5 139.1L592 139.3L593.5 139.5L594.9 139.7L596.4 140L597.9 140.2L599.4 140.4L600.8 140.6L602.3 140.8L603.8 141.1L605.3 141.3L606.7 141.7L608.2 142.1L609.7 142.5L611.1 143.2L612.6 144.1L614.1 145.1L615.6 146.2L617 147.4L618.5 148.7L620 150.1L621.5 151.8L622.9 153.7L624.4 155.7L625.9 157.7L627.3 159.8L628.8 161.7L630.3 163.7L631.8 165.8L633.2 167.8L634.7 169.9L636.2 172.1L637.7 174.2L639.1 176.4L640.6 178.6L642.1 180.9L643.5 183.3L645 185.6L646.5 188L648 190.4L649.4 192.7L650.9 195.1L652.4 197.4L653.9 199.9L655.3 202.4L656.8 204.9L658.3 207.4L659.7 209.7L661.2 211.9L662.7 213.8L664.2 215.4L665.6 216.7L667.1 217.9L668.6 219L670.1 220L671.5 220.9L673 221.8L674.5 222.7L675.9 223.5L677.4 224.4L678.9 225.2L680.4 226.1L681.8 226.9L683.3 227.7L684.8 228.5L686.3 229.2L687.7 230L689.2 230.8L690.7 231.6L692.1 232.3L693.6 233L695.1 233.7L696.6 234.4L698 235.2L699.5 236.1L701 237.2L702.5 238.4L703.9 239.8L705.4 241.5L706.9 243.5L708.3 245.9L709.8 248.8L711.3 252.3L712.8 256L714.2 260.1L715.7 265L717.2 270.4L718.7 275.9L720.1 280.8L721.6 285.4L723.1 290.1L724.5 294.3L726 297.3L727.5 298.9L729 300L730.4 300.7L731.9 301L733.4 300.5L734.9 299.5L736.3 298.5L737.8 297.8L739.3 297L740.7 296L742.2 294L743.7 288.5L745.2 280.9L746.6 273.1L748.1 264L749.6 253.6L751.1 244.2L752.5 238L754 233.7L755.5 230.1L756.9 227.3L758.4 225.1L759.9 223.4L761.4 222L762.8 220.7L764.3 219.5L765.8 218.2L767.3 216.9L768.7 215.6L770.2 214.3L771.7 213L773.1 211.7L774.6 210.3L776.1 209L777.6 207.6L779 206.2L780.5 204.7L782 203.2L783.5 201.6L784.9 200.1L786.4 198.4L787.9 196.8L789.3 195.1L790.8 193.5L792.3 191.8L793.8 190.2L795.2 188.5L796.7 186.9L798.2 185.2L799.7 183.5L801.1 181.8L802.6 180.1L804.1 178.4L805.5 176.6L807 174.7L808.5 172.7L810 170.6L811.4 168.5L812.9 166.6L814.4 165L815.9 163.8L817.3 162.7L818.8 161.8L820.3 161L821.7 160.2L823.2 159.5L824.7 158.8L826.2 158.2L827.6 157.5L829.1 156.9L830.6 156.2L832.1 155.6L833.5 155L835 154.5L836.5 153.9L837.9 153.4L839.4 152.9L840.9 152.4" stroke="#c89500" stroke-width="2.2" fill="none" stroke-linejoin="round"/>
<path d="M106 103.2L107.5 103.1L108.9 103.1L110.4 103L111.9 103L113.4 102.9L114.8 102.8L116.3 102.8L117.8 102.7L119.3 102.7L120.7 102.6L122.2 102.6L123.7 102.5L125.1 102.4L126.6 102.4L128.1 102.3L129.6 102.2L131 102.2L132.5 102.1L134 102L135.5 102L136.9 101.9L138.4 101.8L139.9 101.7L141.3 101.6L142.8 101.6L144.3 101.5L145.8 101.4L147.2 101.3L148.7 101.2L150.2 101.1L151.7 101L153.1 100.9L154.6 100.7L156.1 100.6L157.5 100.5L159 100.4L160.5 100.2L162 100.1L163.4 100L164.9 99.9L166.4 99.7L167.9 99.6L169.3 99.5L170.8 99.4L172.3 99.3L173.7 99.2L175.2 99.1L176.7 99L178.2 98.9L179.6 98.8L181.1 98.7L182.6 98.6L184.1 98.5L185.5 98.5L187 98.5L188.5 98.4L189.9 98.5L191.4 98.5L192.9 98.5L194.4 98.5L195.8 98.6L197.3 98.6L198.8 98.7L200.3 98.7L201.7 98.8L203.2 98.8L204.7 98.9L206.1 98.9L207.6 99L209.1 99L210.6 99.1L212 99.2L213.5 99.2L215 99.3L216.5 99.4L217.9 99.5L219.4 99.6L220.9 99.7L222.3 99.8L223.8 99.9L225.3 100L226.8 100.2L228.2 100.3L229.7 100.5L231.2 100.7L232.7 100.9L234.1 101.1L235.6 101.3L237.1 101.6L238.5 101.8L240 102.1L241.5 102.4L243 102.8L244.4 103.2L245.9 103.6L247.4 103.9L248.9 104.2L250.3 104.5L251.8 104.8L253.3 105.2L254.7 105.7L256.2 106.1L257.7 106.5L259.2 107L260.6 107.3L262.1 107.3L263.6 106.9L265.1 106.4L266.5 105.6L268 104.8L269.5 103.7L270.9 102.4L272.4 101L273.9 99.5L275.4 98L276.8 96.4L278.3 94.8L279.8 93.1L281.3 91L282.7 88.8L284.2 86.4L285.7 83.9L287.1 81.6L288.6 79.4L290.1 77.5L291.6 75.8L293 74.1L294.5 72.5L296 70.9L297.5 69.5L298.9 68L300.4 66.7L301.9 65.4L303.3 64.3L304.8 63.1L306.3 62L307.8 60.9L309.2 59.8L310.7 58.8L312.2 57.9L313.7 57.1L315.1 56.4L316.6 55.9L318.1 55.3L319.5 54.8L321 54.3L322.5 53.8L324 53.4L325.4 53L326.9 52.7L328.4 52.5L329.9 52.3L331.3 52.3L332.8 52.4L334.3 52.5L335.7 52.8L337.2 53L338.7 53.4L340.2 53.8L341.6 54.2L343.1 54.7L344.6 55.1L346.1 55.6L347.5 56L349 56.5L350.5 57.1L351.9 57.7L353.4 58.3L354.9 59L356.4 59.8L357.8 60.5L359.3 61.2L360.8 61.9L362.3 62.7L363.7 63.4L365.2 64.2L366.7 64.9L368.1 65.8L369.6 66.6L371.1 67.6L372.6 68.6L374 69.7L375.5 71L377 72.4L378.5 73.8L379.9 75.3L381.4 76.8L382.9 78.2L384.3 79.6L385.8 80.9L387.3 82.3L388.8 83.6L390.2 84.9L391.7 86.3L393.2 87.5L394.7 88.8L396.1 89.9L397.6 91L399.1 92L400.5 92.9L402 93.8L403.5 94.7L405 95.5L406.4 96.2L407.9 97L409.4 97.7L410.9 98.3L412.3 98.9L413.8 99.5L415.3 100.1L416.7 100.6L418.2 101.1L419.7 101.6L421.2 102L422.6 102.5L424.1 103L425.6 103.4L427.1 103.9L428.5 104.3L430 104.7L431.5 105L432.9 105.2L434.4 105.4L435.9 105.5L437.4 105.7L438.8 105.8L440.3 106L441.8 106.2L443.3 106.4L444.7 106.6L446.2 106.9L447.7 107.1L449.1 107.4L450.6 107.8L452.1 108.1L453.6 108.5L455 108.8L456.5 109.2L458 109.6L459.5 109.9L460.9 110.3L462.4 110.6L463.9 110.9L465.3 111.2L466.8 111.5L468.3 111.7L469.8 111.9L471.2 112.2L472.7 112.4L474.2 112.6L475.7 112.8L477.1 113L478.6 113.1L480.1 113.3L481.5 113.5L483 113.7L484.5 113.8L486 114L487.4 114.2L488.9 114.4L490.4 114.5L491.9 114.7L493.3 114.9L494.8 115.1L496.3 115.2L497.7 115.4L499.2 115.6L500.7 115.8L502.2 116L503.6 116.2L505.1 116.5L506.6 116.7L508.1 116.9L509.5 117.1L511 117.3L512.5 117.6L513.9 117.8L515.4 118L516.9 118.2L518.4 118.5L519.8 118.7L521.3 118.9L522.8 119.1L524.3 119.3L525.7 119.4L527.2 119.6L528.7 119.8L530.1 120L531.6 120.1L533.1 120.3L534.6 120.5L536 120.7L537.5 120.9L539 121.1L540.5 121.4L541.9 121.7L543.4 122L544.9 122.4L546.3 122.8L547.8 123.3L549.3 123.8L550.8 124.3L552.2 124.8L553.7 125.3L555.2 125.7L556.7 126.2L558.1 126.7L559.6 127.2L561.1 127.7L562.5 128.2L564 128.7L565.5 129.2L567 129.7L568.4 130.3L569.9 130.9L571.4 131.5L572.9 132.1L574.3 132.7L575.8 133.2L577.3 133.7L578.7 134.1L580.2 134.3L581.7 134.6L583.2 134.8L584.6 135L586.1 135.1L587.6 135.3L589.1 135.4L590.5 135.6L592 135.7L593.5 135.9L594.9 136.1L596.4 136.2L597.9 136.4L599.4 136.5L600.8 136.7L602.3 136.8L603.8 137L605.3 137.2L606.7 137.4L608.2 137.7L609.7 138.1L611.1 138.6L612.6 139.3L614.1 140.1L615.6 141L617 142.1L618.5 143.1L620 144.5L621.5 146.1L622.9 148L624.4 150L625.9 152L627.3 154L628.8 155.8L630.3 157.6L631.8 159.4L633.2 161.2L634.7 163L636.2 164.8L637.7 166.6L639.1 168.5L640.6 170.4L642.1 172.4L643.5 174.4L645 176.4L646.5 178.4L648 180.5L649.4 182.5L650.9 184.6L652.4 186.6L653.9 188.8L655.3 191.1L656.8 193.3L658.3 195.6L659.7 197.7L661.2 199.6L662.7 201.3L664.2 202.7L665.6 203.8L667.1 204.8L668.6 205.7L670.1 206.5L671.5 207.2L673 208L674.5 208.7L675.9 209.4L677.4 210.1L678.9 210.9L680.4 211.6L681.8 212.3L683.3 213L684.8 213.6L686.3 214.3L687.7 215L689.2 215.7L690.7 216.5L692.1 217.2L693.6 217.9L695.1 218.6L696.6 219.4L698 220.2L699.5 221.1L701 222L702.5 223.1L703.9 224.3L705.4 225.7L706.9 227.2L708.3 229.1L709.8 231.4L711.3 234.1L712.8 237.1L714.2 240.5L715.7 244.9L717.2 250L718.7 255.1L720.1 259.8L721.6 264.3L723.1 269L724.5 273.2L726 276.1L727.5 277.1L729 277.8L730.4 278.2L731.9 278.3L733.4 277.8L734.9 276.8L736.3 275.8L737.8 275.2L739.3 274.8L740.7 274.1L742.2 272.6L743.7 267.8L745.2 260.9L746.6 253.9L748.1 245.8L749.6 236.6L751.1 228.2L752.5 222.2L754 217.8L755.5 214.1L756.9 211.2L758.4 209L759.9 207.4L761.4 206L762.8 204.8L764.3 203.7L765.8 202.6L767.3 201.4L768.7 200.3L770.2 199.3L771.7 198.3L773.1 197.3L774.6 196.3L776.1 195.2L777.6 194.2L779 193.1L780.5 191.9L782 190.7L783.5 189.4L784.9 188.1L786.4 186.8L787.9 185.5L789.3 184.2L790.8 182.8L792.3 181.4L793.8 180L795.2 178.6L796.7 177.2L798.2 175.8L799.7 174.3L801.1 172.8L802.6 171.3L804.1 169.8L805.5 168.2L807 166.6L808.5 164.9L810 163.2L811.4 161.4L812.9 159.9L814.4 158.5L815.9 157.4L817.3 156.5L818.8 155.7L820.3 154.9L821.7 154.2L823.2 153.6L824.7 153L826.2 152.4L827.6 151.8L829.1 151.2L830.6 150.6L832.1 150.1L833.5 149.5L835 149L836.5 148.5L837.9 148.1L839.4 147.6L840.9 147.2" stroke="#00c5c9" stroke-width="2.2" fill="none" stroke-linejoin="round"/>
<rect x="106" y="26.6" width="739" height="367.1" fill="none" stroke="#000" stroke-width="2.2"/>
<path d="M188.1 393.7L188.1 402.2M352.3 393.7L352.3 402.2M516.6 393.7L516.6 402.2M680.8 393.7L680.8 402.2M845 393.7L845 402.2M106 393.7L106 398.2M270.2 393.7L270.2 398.2M434.4 393.7L434.4 398.2M598.7 393.7L598.7 398.2M762.9 393.7L762.9 398.2" stroke="#000" stroke-width="2" fill="none"/>
<text x="188.1" y="430" font-size="26.8" text-anchor="middle">500</text>
<text x="352.3" y="430" font-size="26.8" text-anchor="middle">600</text>
<text x="516.6" y="430" font-size="26.8" text-anchor="middle">700</text>
<text x="680.8" y="430" font-size="26.8" text-anchor="middle">800</text>
<text x="845" y="430" font-size="26.8" text-anchor="middle">900</text>
<path d="M106 105.3L97.5 105.3M106 210.2L97.5 210.2M106 315L97.5 315M106 52.8L101.5 52.8M106 157.7L101.5 157.7M106 262.6L101.5 262.6M106 367.5L101.5 367.5" stroke="#000" stroke-width="2" fill="none"/>
<text x="89.8" y="114.9" font-size="26.8" text-anchor="end">0</text>
<text x="89.8" y="219.8" font-size="26.8" text-anchor="end">-2</text>
<text x="89.8" y="324.6" font-size="26.8" text-anchor="end">-4</text>
<text x="474.7" y="481.8" font-size="37.5" text-anchor="middle">Wavelength (nm)</text>
<text x="53.6" y="210.6" font-size="36" text-anchor="middle" transform="rotate(-90 53.6 210.6)">ΔmOD</text>
<path d="M114.7 174L172.6 174" stroke="#ee3131" stroke-width="2.2" fill="none"/>
<path d="M114.7 310.5L172.6 310.5" stroke="#00c5c9" stroke-width="2.2" fill="none"/>
<text x="185.5" y="183.7" font-size="35.5">1 ps</text>
<text x="183.5" y="321.2" font-size="35.5">2 ns</text>
<path d="M197.6 191.7L197.6 284" stroke="#000" stroke-width="2" fill="none"/>
<path d="M197.6 292L189.6 276.5L197.6 282L205.6 276.5Z" fill="#000"/>
<text x="32" y="34.3" font-size="45" font-weight="bold">a</text>
<path d="M963 120.8L964.4 120.7L965.8 120.5L967.3 120.4L968.7 120.3L970.1 120.1L971.5 120L973 119.9L974.4 119.8L975.8 119.7L977.2 119.6L978.7 119.6L980.1 119.5L981.5 119.4L982.9 119.3L984.4 119.3L985.8 119.2L987.2 119.2L988.6 119.2L990.1 119.1L991.5 119.1L992.9 119.1L994.3 119.1L995.8 119L997.2 119L998.6 119L1000 119L1001.5 119L1002.9 119L1004.3 119L1005.7 119.1L1007.2 119.2L1008.6 119.3L1010 119.4L1011.4 119.5L1012.9 119.7L1014.3 119.8L1015.7 120L1017.1 120.1L1018.6 120.3L1020 120.4L1021.4 120.6L1022.8 120.7L1024.3 120.9L1025.7 121L1027.1 121.1L1028.5 121.2L1030 121.2L1031.4 121.3L1032.8 121.3L1034.2 121.3L1035.7 121.3L1037.1 121.3L1038.5 121.2L1039.9 121.2L1041.4 121.1L1042.8 121.1L1044.2 121L1045.6 120.9L1047.1 120.8L1048.5 120.8L1049.9 120.7L1051.3 120.6L1052.8 120.5L1054.2 120.4L1055.6 120.3L1057 120.3L1058.5 120.2L1059.9 120.1L1061.3 120L1062.7 120L1064.2 119.9L1065.6 119.9L1067 119.8L1068.4 119.8L1069.9 119.7L1071.3 119.7L1072.7 119.6L1074.1 119.5L1075.6 119.5L1077 119.4L1078.4 119.4L1079.8 119.3L1081.3 119.3L1082.7 119.2L1084.1 119.2L1085.5 119.1L1087 119.1L1088.4 119.1L1089.8 119.1L1091.2 119L1092.7 119L1094.1 119L1095.5 119L1096.9 119L1098.4 119L1099.8 119.1L1101.2 119.1L1102.6 119.2L1104.1 119.3L1105.5 119.4L1106.9 119.4L1108.3 119.5L1109.8 119.6L1111.2 119.7L1112.6 119.8L1114 119.9L1115.5 120L1116.9 120.1L1118.3 120.1L1119.7 120.2L1121.2 120.3L1122.6 120.3L1124 120.4L1125.4 120.4L1126.9 120.4L1128.3 120.4L1129.7 120.4L1131.1 120.4L1132.6 120.4L1134 120.3L1135.4 120.3L1136.8 120.3L1138.3 120.3L1139.7 120.3L1141.1 120.3L1142.5 120.2L1144 120.2L1145.4 120.2L1146.8 120.2L1148.2 120.1L1149.7 120.1L1151.1 120.1L1152.5 120L1153.9 120L1155.4 120L1156.8 119.9L1158.2 119.9L1159.6 119.9L1161.1 119.8L1162.5 119.8L1163.9 119.7L1165.3 119.6L1166.8 119.5L1168.2 119.5L1169.6 119.4L1171 119.3L1172.5 119.2L1173.9 119.1L1175.3 119L1176.7 118.9L1178.2 118.9L1179.6 118.8L1181 118.7L1182.4 118.7L1183.9 118.6L1185.3 118.6L1186.7 118.6L1188.1 118.6L1189.6 118.6L1191 118.6L1192.4 118.6L1193.8 118.6L1195.3 118.7L1196.7 118.8L1198.1 118.8L1199.5 118.9L1201 119L1202.4 119.1L1203.8 119.2L1205.2 119.3L1206.7 119.4L1208.1 119.5L1209.5 119.6L1210.9 119.6L1212.3 119.7L1213.8 119.8L1215.2 119.8L1216.6 119.9L1218 119.9L1219.5 119.9L1220.9 119.9L1222.3 119.9L1223.7 119.9L1225.2 119.9L1226.6 119.9L1228 119.9L1229.4 119.9L1230.9 119.8L1232.3 119.8L1233.7 119.8L1235.1 119.8L1236.6 119.8L1238 119.7L1239.4 119.7L1240.8 119.7L1242.3 119.6L1243.7 119.6L1245.1 119.6L1246.5 119.6L1248 119.5L1249.4 119.5L1250.8 119.5L1252.2 119.4L1253.7 119.4L1255.1 119.4L1256.5 119.3L1257.9 119.3L1259.4 119.2L1260.8 119.2L1262.2 119.1L1263.6 119L1265.1 119L1266.5 118.9L1267.9 118.9L1269.3 118.8L1270.8 118.8L1272.2 118.7L1273.6 118.7L1275 118.6L1276.5 118.6L1277.9 118.6L1279.3 118.6L1280.7 118.6L1282.2 118.6L1283.6 118.6L1285 118.6L1286.4 118.6L1287.9 118.6L1289.3 118.7L1290.7 118.7L1292.1 118.8L1293.6 118.9L1295 118.9L1296.4 119L1297.8 119.1L1299.3 119.2L1300.7 119.3L1302.1 119.4L1303.5 119.4L1305 119.5L1306.4 119.6L1307.8 119.7L1309.2 119.8L1310.7 119.8L1312.1 119.9L1313.5 119.9L1314.9 120L1316.4 120L1317.8 120.1L1319.2 120.1L1320.6 120.2L1322.1 120.3L1323.5 120.3L1324.9 120.4L1326.3 120.4L1327.8 120.5L1329.2 120.5L1330.6 120.6L1332 120.6L1333.5 120.7L1334.9 120.7L1336.3 120.7L1337.7 120.8L1339.2 120.8L1340.6 120.8L1342 120.8L1343.4 120.8L1344.9 120.8L1346.3 120.8L1347.7 120.8L1349.1 120.8L1350.6 120.8L1352 120.8L1353.4 120.8L1354.8 120.8L1356.3 120.7L1357.7 120.7L1359.1 120.7L1360.5 120.7L1362 120.6L1363.4 120.6L1364.8 120.6L1366.2 120.5L1367.7 120.5L1369.1 120.5L1370.5 120.5L1371.9 120.4L1373.4 120.4L1374.8 120.4L1376.2 120.4L1377.6 120.4L1379.1 120.3L1380.5 120.3L1381.9 120.3L1383.3 120.2L1384.8 120.2L1386.2 120.2L1387.6 120.2L1389 120.1L1390.5 120.1L1391.9 120.1L1393.3 120.1L1394.7 120L1396.2 120L1397.6 120L1399 120L1400.4 120L1401.9 119.9L1403.3 119.9L1404.7 119.9L1406.1 119.9L1407.6 119.9L1409 119.9L1410.4 119.9L1411.8 120L1413.3 120L1414.7 120L1416.1 120L1417.5 120.1L1419 120.1L1420.4 120.1L1421.8 120.1L1423.2 120.2L1424.7 120.2L1426.1 120.2L1427.5 120.3L1428.9 120.3L1430.4 120.3L1431.8 120.3L1433.2 120.4L1434.6 120.4L1436.1 120.4L1437.5 120.4L1438.9 120.4L1440.3 120.4L1441.8 120.4L1443.2 120.4L1444.6 120.4L1446 120.4L1447.5 120.4L1448.9 120.4L1450.3 120.4L1451.7 120.4L1453.2 120.4L1454.6 120.4L1456 120.4L1457.4 120.4L1458.8 120.4L1460.3 120.4L1461.7 120.4L1463.1 120.4L1464.5 120.4L1466 120.4L1467.4 120.4L1468.8 120.4L1470.2 120.4L1471.7 120.4L1473.1 120.4L1474.5 120.4L1475.9 120.4L1477.4 120.5L1478.8 120.5L1480.2 120.5L1481.6 120.5L1483.1 120.6L1484.5 120.6L1485.9 120.6L1487.3 120.7L1488.8 120.7L1490.2 120.7L1491.6 120.8L1493 120.8L1494.5 120.8L1495.9 120.8L1497.3 120.8L1498.7 120.8L1500.2 120.8L1501.6 120.8L1503 120.8L1504.4 120.8L1505.9 120.8L1507.3 120.8L1508.7 120.7L1510.1 120.7L1511.6 120.6L1513 120.6L1514.4 120.5L1515.8 120.5L1517.3 120.4L1518.7 120.4L1520.1 120.3L1521.5 120.3L1523 120.2L1524.4 120.2L1525.8 120.1L1527.2 120.1L1528.7 120L1530.1 120L1531.5 119.9L1532.9 119.9L1534.4 119.8L1535.8 119.8L1537.2 119.7L1538.6 119.7L1540.1 119.6L1541.5 119.6L1542.9 119.5L1544.3 119.4L1545.8 119.4L1547.2 119.3L1548.6 119.3L1550 119.2L1551.5 119.2L1552.9 119.2L1554.3 119.1L1555.7 119.1L1557.2 119.1L1558.6 119L1560 119L1561.4 119L1562.9 119L1564.3 119L1565.7 119L1567.1 119L1568.6 119L1570 119L1571.4 119L1572.8 119L1574.3 119L1575.7 119L1577.1 119L1578.5 119L1580 119L1581.4 119L1582.8 119L1584.2 119L1585.7 119L1587.1 119L1588.5 119L1589.9 119L1591.4 119L1592.8 119L1594.2 119L1595.6 119L1597.1 119L1598.5 118.9L1599.9 118.9L1601.3 118.9L1602.8 118.8L1604.2 118.8L1605.6 118.7L1607 118.6L1608.5 118.6L1609.9 118.5L1611.3 118.5L1612.7 118.4L1614.2 118.3L1615.6 118.3L1617 118.2L1618.4 118.2L1619.9 118.2L1621.3 118.1L1622.7 118.1L1624.1 118.1L1625.6 118.1L1627 118.1L1628.4 118.1L1629.8 118.1L1631.3 118.1L1632.7 118.1L1634.1 118.1L1635.5 118.2L1637 118.2L1638.4 118.2L1639.8 118.2L1641.2 118.2L1642.7 118.3L1644.1 118.3L1645.5 118.3L1646.9 118.3L1648.4 118.4L1649.8 118.4L1651.2 118.4L1652.6 118.5L1654.1 118.5L1655.5 118.5L1656.9 118.6L1658.3 118.6L1659.8 118.7L1661.2 118.8L1662.6 118.9L1664 119.1L1665.5 119.2L1666.9 119.3L1668.3 119.5L1669.7 119.6L1671.2 119.8L1672.6 119.9L1674 120.1L1675.4 120.2L1676.9 120.3L1678.3 120.5L1679.7 120.6L1681.1 120.7L1682.6 120.7L1684 120.8L1685.4 120.8L1686.8 120.8L1688.3 120.8L1689.7 120.8L1691.1 120.8L1692.5 120.8L1694 120.8L1695.4 120.7L1696.8 120.7L1698.2 120.6L1699.7 120.5L1701.1 120.5L1702.5 120.4" stroke="#4a4a4a" stroke-width="2.0" fill="none" stroke-linejoin="round"/>
<path d="M963 120L964.4 120L965.8 120L967.3 120L968.7 120L970.1 120L971.5 120L973 120L974.4 119.9L975.8 119.9L977.2 119.9L978.7 119.9L980.1 119.9L981.5 119.9L982.9 119.9L984.4 119.9L985.8 119.9L987.2 119.8L988.6 119.8L990.1 119.8L991.5 119.8L992.9 119.7L994.3 119.7L995.8 119.7L997.2 119.6L998.6 119.5L1000 119.5L1001.5 119.4L1002.9 119.4L1004.3 119.3L1005.7 119.2L1007.2 119.1L1008.6 119.1L1010 119L1011.4 118.9L1012.9 118.8L1014.3 118.7L1015.7 118.6L1017.1 118.4L1018.6 118.3L1020 118.2L1021.4 118L1022.8 117.9L1024.3 117.7L1025.7 117.6L1027.1 117.4L1028.5 117.3L1030 117.1L1031.4 117L1032.8 116.8L1034.2 116.7L1035.7 116.5L1037.1 116.4L1038.5 116.2L1039.9 116.1L1041.4 116L1042.8 115.8L1044.2 115.7L1045.6 115.6L1047.1 115.4L1048.5 115.3L1049.9 115.2L1051.3 115.1L1052.8 115.1L1054.2 115L1055.6 114.9L1057 114.9L1058.5 114.9L1059.9 114.9L1061.3 114.8L1062.7 114.8L1064.2 114.8L1065.6 114.8L1067 114.8L1068.4 114.8L1069.9 114.8L1071.3 114.9L1072.7 114.9L1074.1 114.9L1075.6 115L1077 115.1L1078.4 115.2L1079.8 115.3L1081.3 115.4L1082.7 115.5L1084.1 115.5L1085.5 115.6L1087 115.7L1088.4 115.8L1089.8 115.9L1091.2 116L1092.7 116L1094.1 116.1L1095.5 116.2L1096.9 116.2L1098.4 116.3L1099.8 116.3L1101.2 116.4L1102.6 116.4L1104.1 116.4L1105.5 116.5L1106.9 116.5L1108.3 116.5L1109.8 116.6L1111.2 116.6L1112.6 116.6L1114 116.6L1115.5 116.6L1116.9 116.6L1118.3 116.6L1119.7 116.7L1121.2 116.7L1122.6 116.7L1124 116.7L1125.4 116.7L1126.9 116.7L1128.3 116.7L1129.7 116.7L1131.1 116.7L1132.6 116.7L1134 116.6L1135.4 116.6L1136.8 116.5L1138.3 116.4L1139.7 116.3L1141.1 116.1L1142.5 115.8L1144 115.5L1145.4 115L1146.8 114.6L1148.2 114.1L1149.7 113.5L1151.1 113L1152.5 112.4L1153.9 111.9L1155.4 111.3L1156.8 110.8L1158.2 110.4L1159.6 110L1161.1 109.5L1162.5 109.2L1163.9 108.8L1165.3 108.4L1166.8 108.1L1168.2 107.7L1169.6 107.4L1171 107L1172.5 106.6L1173.9 106.3L1175.3 105.9L1176.7 105.5L1178.2 105.2L1179.6 104.8L1181 104.4L1182.4 104L1183.9 103.7L1185.3 103.4L1186.7 103.1L1188.1 102.8L1189.6 102.6L1191 102.4L1192.4 102.2L1193.8 102.1L1195.3 102L1196.7 101.9L1198.1 101.8L1199.5 101.8L1201 101.8L1202.4 101.9L1203.8 102L1205.2 102.2L1206.7 102.4L1208.1 102.6L1209.5 102.9L1210.9 103.3L1212.3 103.6L1213.8 104L1215.2 104.5L1216.6 105L1218 105.6L1219.5 106.1L1220.9 106.8L1222.3 107.4L1223.7 108L1225.2 108.7L1226.6 109.4L1228 110L1229.4 110.7L1230.9 111.3L1232.3 112L1233.7 112.6L1235.1 113.2L1236.6 113.7L1238 114.3L1239.4 114.8L1240.8 115.3L1242.3 115.7L1243.7 116.1L1245.1 116.5L1246.5 116.9L1248 117.2L1249.4 117.5L1250.8 117.7L1252.2 118L1253.7 118.2L1255.1 118.4L1256.5 118.5L1257.9 118.7L1259.4 118.8L1260.8 118.9L1262.2 119L1263.6 119.1L1265.1 119.2L1266.5 119.3L1267.9 119.4L1269.3 119.4L1270.8 119.5L1272.2 119.5L1273.6 119.6L1275 119.6L1276.5 119.7L1277.9 119.7L1279.3 119.7L1280.7 119.7L1282.2 119.8L1283.6 119.8L1285 119.8L1286.4 119.9L1287.9 119.9L1289.3 120L1290.7 120L1292.1 120.1L1293.6 120.1L1295 120.2L1296.4 120.3L1297.8 120.3L1299.3 120.4L1300.7 120.4L1302.1 120.5L1303.5 120.6L1305 120.6L1306.4 120.7L1307.8 120.8L1309.2 120.9L1310.7 120.9L1312.1 121L1313.5 121.1L1314.9 121.2L1316.4 121.2L1317.8 121.3L1319.2 121.4L1320.6 121.4L1322.1 121.5L1323.5 121.5L1324.9 121.6L1326.3 121.6L1327.8 121.6L1329.2 121.7L1330.6 121.7L1332 121.8L1333.5 121.8L1334.9 121.9L1336.3 121.9L1337.7 121.9L1339.2 122L1340.6 122L1342 122.1L1343.4 122.1L1344.9 122.2L1346.3 122.2L1347.7 122.3L1349.1 122.4L1350.6 122.4L1352 122.5L1353.4 122.6L1354.8 122.6L1356.3 122.7L1357.7 122.8L1359.1 122.9L1360.5 122.9L1362 123L1363.4 123.1L1364.8 123.2L1366.2 123.3L1367.7 123.3L1369.1 123.4L1370.5 123.5L1371.9 123.6L1373.4 123.7L1374.8 123.8L1376.2 123.9L1377.6 124L1379.1 124.1L1380.5 124.2L1381.9 124.3L1383.3 124.4L1384.8 124.6L1386.2 124.7L1387.6 124.8L1389 125L1390.5 125.1L1391.9 125.3L1393.3 125.5L1394.7 125.7L1396.2 125.9L1397.6 126.2L1399 126.4L1400.4 126.6L1401.9 126.9L1403.3 127.1L1404.7 127.4L1406.1 127.6L1407.6 127.9L1409 128.2L1410.4 128.4L1411.8 128.7L1413.3 128.9L1414.7 129.2L1416.1 129.4L1417.5 129.7L1419 129.9L1420.4 130.2L1421.8 130.4L1423.2 130.6L1424.7 130.9L1426.1 131.1L1427.5 131.3L1428.9 131.5L1430.4 131.7L1431.8 131.9L1433.2 132.1L1434.6 132.3L1436.1 132.5L1437.5 132.6L1438.9 132.8L1440.3 133L1441.8 133.1L1443.2 133.3L1444.6 133.4L1446 133.5L1447.5 133.7L1448.9 133.8L1450.3 133.9L1451.7 134L1453.2 134.1L1454.6 134.1L1456 134.2L1457.4 134.3L1458.8 134.5L1460.3 134.6L1461.7 134.7L1463.1 134.9L1464.5 135.2L1466 135.5L1467.4 135.8L1468.8 136.2L1470.2 136.6L1471.7 137L1473.1 137.4L1474.5 137.9L1475.9 138.3L1477.4 138.9L1478.8 139.4L1480.2 140L1481.6 140.6L1483.1 141.3L1484.5 142L1485.9 142.8L1487.3 143.7L1488.8 144.7L1490.2 145.7L1491.6 146.8L1493 147.9L1494.5 149L1495.9 150.1L1497.3 151.2L1498.7 152.2L1500.2 153.3L1501.6 154.3L1503 155.4L1504.4 156.4L1505.9 157.5L1507.3 158.4L1508.7 159.4L1510.1 160.3L1511.6 161.1L1513 161.9L1514.4 162.6L1515.8 163.4L1517.3 164.1L1518.7 164.7L1520.1 165.4L1521.5 166L1523 166.6L1524.4 167.2L1525.8 167.7L1527.2 168.2L1528.7 168.7L1530.1 169.1L1531.5 169.5L1532.9 170L1534.4 170.4L1535.8 170.8L1537.2 171.3L1538.6 171.8L1540.1 172.3L1541.5 172.8L1542.9 173.4L1544.3 174L1545.8 174.6L1547.2 175.3L1548.6 176L1550 176.9L1551.5 177.9L1552.9 179.1L1554.3 180.4L1555.7 181.7L1557.2 183.1L1558.6 184.6L1560 186L1561.4 187.4L1562.9 188.8L1564.3 190.1L1565.7 191.2L1567.1 192.3L1568.6 193.2L1570 194.1L1571.4 194.7L1572.8 195.1L1574.3 195.2L1575.7 195.1L1577.1 194.7L1578.5 194.1L1580 193.4L1581.4 192.5L1582.8 191.5L1584.2 190.3L1585.7 189L1587.1 187.4L1588.5 185.8L1589.9 184.2L1591.4 182.7L1592.8 181.2L1594.2 179.8L1595.6 178.3L1597.1 176.9L1598.5 175.4L1599.9 174.1L1601.3 172.9L1602.8 171.9L1604.2 171.1L1605.6 170.3L1607 169.7L1608.5 169L1609.9 168.4L1611.3 167.9L1612.7 167.3L1614.2 166.8L1615.6 166.3L1617 165.8L1618.4 165.3L1619.9 164.7L1621.3 164L1622.7 163.3L1624.1 162.5L1625.6 161.5L1627 160.6L1628.4 159.6L1629.8 158.5L1631.3 157.5L1632.7 156.5L1634.1 155.5L1635.5 154.5L1637 153.5L1638.4 152.5L1639.8 151.5L1641.2 150.5L1642.7 149.6L1644.1 148.7L1645.5 147.9L1646.9 147.1L1648.4 146.5L1649.8 145.9L1651.2 145.4L1652.6 145L1654.1 144.5L1655.5 144.1L1656.9 143.7L1658.3 143.3L1659.8 143L1661.2 142.6L1662.6 142.2L1664 141.8L1665.5 141.4L1666.9 141L1668.3 140.6L1669.7 140.2L1671.2 139.9L1672.6 139.5L1674 139.2L1675.4 138.9L1676.9 138.7L1678.3 138.4L1679.7 138.2L1681.1 138L1682.6 137.8L1684 137.6L1685.4 137.4L1686.8 137.2L1688.3 137L1689.7 136.8L1691.1 136.6L1692.5 136.4L1694 136.2L1695.4 136L1696.8 135.8L1698.2 135.6L1699.7 135.4L1701.1 135.3L1702.5 135.3" stroke="#6e4747" stroke-width="2.2" fill="none" stroke-linejoin="round"/>
<path d="M963 120.1L964.4 120L965.8 120L967.3 120L968.7 120L970.1 120L971.5 120L973 120L974.4 120L975.8 120L977.2 119.9L978.7 119.9L980.1 119.9L981.5 119.9L982.9 119.8L984.4 119.8L985.8 119.8L987.2 119.7L988.6 119.7L990.1 119.6L991.5 119.6L992.9 119.5L994.3 119.4L995.8 119.3L997.2 119.1L998.6 119L1000 118.9L1001.5 118.7L1002.9 118.5L1004.3 118.4L1005.7 118.2L1007.2 118L1008.6 117.8L1010 117.6L1011.4 117.4L1012.9 117.1L1014.3 116.9L1015.7 116.6L1017.1 116.4L1018.6 116.1L1020 115.8L1021.4 115.5L1022.8 115.1L1024.3 114.8L1025.7 114.5L1027.1 114.2L1028.5 113.8L1030 113.5L1031.4 113.2L1032.8 112.9L1034.2 112.6L1035.7 112.3L1037.1 112L1038.5 111.7L1039.9 111.5L1041.4 111.2L1042.8 111L1044.2 110.7L1045.6 110.5L1047.1 110.3L1048.5 110.1L1049.9 109.9L1051.3 109.8L1052.8 109.7L1054.2 109.6L1055.6 109.5L1057 109.5L1058.5 109.5L1059.9 109.5L1061.3 109.5L1062.7 109.6L1064.2 109.6L1065.6 109.7L1067 109.8L1068.4 109.9L1069.9 110L1071.3 110.1L1072.7 110.3L1074.1 110.5L1075.6 110.7L1077 111L1078.4 111.2L1079.8 111.5L1081.3 111.8L1082.7 112L1084.1 112.3L1085.5 112.5L1087 112.8L1088.4 113L1089.8 113.2L1091.2 113.4L1092.7 113.6L1094.1 113.8L1095.5 114L1096.9 114.1L1098.4 114.2L1099.8 114.4L1101.2 114.5L1102.6 114.6L1104.1 114.7L1105.5 114.7L1106.9 114.8L1108.3 114.9L1109.8 114.9L1111.2 115L1112.6 115L1114 115.1L1115.5 115.1L1116.9 115.1L1118.3 115.2L1119.7 115.2L1121.2 115.2L1122.6 115.2L1124 115.2L1125.4 115.2L1126.9 115.2L1128.3 115.2L1129.7 115.2L1131.1 115.2L1132.6 115.2L1134 115.2L1135.4 115.1L1136.8 115.1L1138.3 115L1139.7 114.8L1141.1 114.6L1142.5 114.3L1144 114L1145.4 113.5L1146.8 113.1L1148.2 112.5L1149.7 111.9L1151.1 111.3L1152.5 110.7L1153.9 110L1155.4 109.4L1156.8 108.7L1158.2 108.1L1159.6 107.4L1161.1 106.7L1162.5 106L1163.9 105.3L1165.3 104.6L1166.8 103.8L1168.2 103.1L1169.6 102.3L1171 101.6L1172.5 100.8L1173.9 100L1175.3 99.3L1176.7 98.5L1178.2 97.8L1179.6 97L1181 96.2L1182.4 95.4L1183.9 94.6L1185.3 93.8L1186.7 93L1188.1 92.3L1189.6 91.6L1191 90.9L1192.4 90.3L1193.8 89.8L1195.3 89.3L1196.7 89L1198.1 88.7L1199.5 88.5L1201 88.3L1202.4 88.3L1203.8 88.4L1205.2 88.5L1206.7 88.8L1208.1 89.1L1209.5 89.5L1210.9 90L1212.3 90.5L1213.8 91.2L1215.2 92L1216.6 92.9L1218 93.9L1219.5 95L1220.9 96.2L1222.3 97.4L1223.7 98.6L1225.2 99.9L1226.6 101.1L1228 102.4L1229.4 103.6L1230.9 104.8L1232.3 105.9L1233.7 107L1235.1 108.1L1236.6 109L1238 110L1239.4 110.8L1240.8 111.6L1242.3 112.4L1243.7 113L1245.1 113.7L1246.5 114.2L1248 114.8L1249.4 115.3L1250.8 115.7L1252.2 116.1L1253.7 116.5L1255.1 116.9L1256.5 117.2L1257.9 117.5L1259.4 117.7L1260.8 117.9L1262.2 118.1L1263.6 118.3L1265.1 118.5L1266.5 118.7L1267.9 118.8L1269.3 118.9L1270.8 119.1L1272.2 119.2L1273.6 119.3L1275 119.4L1276.5 119.5L1277.9 119.5L1279.3 119.6L1280.7 119.6L1282.2 119.7L1283.6 119.8L1285 119.8L1286.4 119.9L1287.9 120L1289.3 120.1L1290.7 120.1L1292.1 120.2L1293.6 120.3L1295 120.4L1296.4 120.5L1297.8 120.5L1299.3 120.6L1300.7 120.7L1302.1 120.8L1303.5 120.9L1305 121L1306.4 121.1L1307.8 121.2L1309.2 121.4L1310.7 121.5L1312.1 121.6L1313.5 121.7L1314.9 121.8L1316.4 121.9L1317.8 122L1319.2 122.1L1320.6 122.2L1322.1 122.3L1323.5 122.4L1324.9 122.4L1326.3 122.5L1327.8 122.6L1329.2 122.6L1330.6 122.7L1332 122.7L1333.5 122.8L1334.9 122.9L1336.3 122.9L1337.7 123L1339.2 123.1L1340.6 123.1L1342 123.2L1343.4 123.3L1344.9 123.4L1346.3 123.5L1347.7 123.6L1349.1 123.7L1350.6 123.8L1352 123.9L1353.4 124L1354.8 124.1L1356.3 124.2L1357.7 124.3L1359.1 124.4L1360.5 124.5L1362 124.6L1363.4 124.8L1364.8 124.9L1366.2 125L1367.7 125.2L1369.1 125.3L1370.5 125.4L1371.9 125.6L1373.4 125.7L1374.8 125.9L1376.2 126L1377.6 126.2L1379.1 126.3L1380.5 126.5L1381.9 126.7L1383.3 126.8L1384.8 127L1386.2 127.2L1387.6 127.4L1389 127.7L1390.5 127.9L1391.9 128.2L1393.3 128.4L1394.7 128.8L1396.2 129.1L1397.6 129.5L1399 129.8L1400.4 130.2L1401.9 130.6L1403.3 130.9L1404.7 131.3L1406.1 131.7L1407.6 132.1L1409 132.5L1410.4 132.9L1411.8 133.3L1413.3 133.7L1414.7 134.1L1416.1 134.4L1417.5 134.8L1419 135.2L1420.4 135.6L1421.8 135.9L1423.2 136.3L1424.7 136.6L1426.1 137L1427.5 137.3L1428.9 137.6L1430.4 137.9L1431.8 138.2L1433.2 138.5L1434.6 138.8L1436.1 139.1L1437.5 139.3L1438.9 139.6L1440.3 139.8L1441.8 140.1L1443.2 140.3L1444.6 140.5L1446 140.7L1447.5 140.9L1448.9 141.1L1450.3 141.2L1451.7 141.4L1453.2 141.5L1454.6 141.6L1456 141.8L1457.4 141.9L1458.8 142.1L1460.3 142.3L1461.7 142.6L1463.1 142.9L1464.5 143.2L1466 143.6L1467.4 144.2L1468.8 144.7L1470.2 145.3L1471.7 146L1473.1 146.6L1474.5 147.3L1475.9 148.1L1477.4 148.9L1478.8 149.7L1480.2 150.6L1481.6 151.5L1483.1 152.6L1484.5 153.7L1485.9 154.9L1487.3 156.3L1488.8 157.8L1490.2 159.3L1491.6 161L1493 162.7L1494.5 164.4L1495.9 166L1497.3 167.6L1498.7 169.3L1500.2 170.9L1501.6 172.5L1503 174.1L1504.4 175.7L1505.9 177.3L1507.3 178.8L1508.7 180.2L1510.1 181.6L1511.6 182.8L1513 184L1514.4 185.2L1515.8 186.3L1517.3 187.4L1518.7 188.4L1520.1 189.4L1521.5 190.3L1523 191.2L1524.4 192.1L1525.8 192.9L1527.2 193.7L1528.7 194.4L1530.1 195.1L1531.5 195.7L1532.9 196.4L1534.4 197L1535.8 197.7L1537.2 198.4L1538.6 199.2L1540.1 199.9L1541.5 200.8L1542.9 201.6L1544.3 202.5L1545.8 203.4L1547.2 204.5L1548.6 205.6L1550 206.9L1551.5 208.5L1552.9 210.3L1554.3 212.3L1555.7 214.4L1557.2 216.5L1558.6 218.7L1560 220.9L1561.4 223.1L1562.9 225.2L1564.3 227.1L1565.7 228.9L1567.1 230.5L1568.6 231.9L1570 233.2L1571.4 234.2L1572.8 234.8L1574.3 235L1575.7 234.7L1577.1 234.1L1578.5 233.2L1580 232.1L1581.4 230.8L1582.8 229.3L1584.2 227.5L1585.7 225.4L1587.1 223L1588.5 220.6L1589.9 218.2L1591.4 215.8L1592.8 213.6L1594.2 211.3L1595.6 209.1L1597.1 206.9L1598.5 204.7L1599.9 202.7L1601.3 200.9L1602.8 199.3L1604.2 198.1L1605.6 196.9L1607 195.9L1608.5 195L1609.9 194L1611.3 193.2L1612.7 192.4L1614.2 191.6L1615.6 190.8L1617 190.1L1618.4 189.2L1619.9 188.3L1621.3 187.3L1622.7 186.2L1624.1 184.9L1625.6 183.5L1627 182L1628.4 180.5L1629.8 178.9L1631.3 177.3L1632.7 175.8L1634.1 174.2L1635.5 172.7L1637 171.2L1638.4 169.7L1639.8 168.1L1641.2 166.6L1642.7 165.2L1644.1 163.9L1645.5 162.6L1646.9 161.5L1648.4 160.5L1649.8 159.7L1651.2 158.9L1652.6 158.2L1654.1 157.5L1655.5 156.9L1656.9 156.3L1658.3 155.7L1659.8 155.1L1661.2 154.5L1662.6 153.9L1664 153.3L1665.5 152.7L1666.9 152.1L1668.3 151.5L1669.7 151L1671.2 150.4L1672.6 149.9L1674 149.4L1675.4 149L1676.9 148.6L1678.3 148.2L1679.7 147.8L1681.1 147.5L1682.6 147.2L1684 146.9L1685.4 146.6L1686.8 146.4L1688.3 146.1L1689.7 145.8L1691.1 145.5L1692.5 145.1L1694 144.8L1695.4 144.4L1696.8 144.1L1698.2 143.8L1699.7 143.6L1701.1 143.4L1702.5 143.4" stroke="#00c5c9" stroke-width="2.2" fill="none" stroke-linejoin="round"/>
<path d="M963 120.1L964.4 120.1L965.8 120.1L967.3 120.1L968.7 120.1L970.1 120.1L971.5 120.1L973 120L974.4 120L975.8 120L977.2 120L978.7 119.9L980.1 119.9L981.5 119.8L982.9 119.8L984.4 119.8L985.8 119.7L987.2 119.6L988.6 119.6L990.1 119.5L991.5 119.4L992.9 119.2L994.3 119.1L995.8 118.9L997.2 118.7L998.6 118.5L1000 118.3L1001.5 118.1L1002.9 117.8L1004.3 117.6L1005.7 117.3L1007.2 117L1008.6 116.7L1010 116.4L1011.4 116L1012.9 115.7L1014.3 115.3L1015.7 114.9L1017.1 114.5L1018.6 114L1020 113.6L1021.4 113.1L1022.8 112.6L1024.3 112.1L1025.7 111.6L1027.1 111.1L1028.5 110.6L1030 110.1L1031.4 109.6L1032.8 109.1L1034.2 108.6L1035.7 108.1L1037.1 107.7L1038.5 107.2L1039.9 106.8L1041.4 106.4L1042.8 106L1044.2 105.6L1045.6 105.3L1047.1 104.9L1048.5 104.6L1049.9 104.3L1051.3 104.1L1052.8 103.9L1054.2 103.7L1055.6 103.6L1057 103.6L1058.5 103.5L1059.9 103.6L1061.3 103.6L1062.7 103.6L1064.2 103.7L1065.6 103.8L1067 103.9L1068.4 104L1069.9 104.2L1071.3 104.4L1072.7 104.6L1074.1 104.9L1075.6 105.2L1077 105.6L1078.4 106L1079.8 106.4L1081.3 106.8L1082.7 107.2L1084.1 107.5L1085.5 107.9L1087 108.3L1088.4 108.6L1089.8 108.9L1091.2 109.2L1092.7 109.5L1094.1 109.8L1095.5 110L1096.9 110.2L1098.4 110.5L1099.8 110.6L1101.2 110.8L1102.6 111L1104.1 111.1L1105.5 111.2L1106.9 111.3L1108.3 111.4L1109.8 111.5L1111.2 111.6L1112.6 111.7L1114 111.7L1115.5 111.8L1116.9 111.8L1118.3 111.9L1119.7 111.9L1121.2 111.9L1122.6 112L1124 112L1125.4 112L1126.9 112L1128.3 112L1129.7 112L1131.1 111.9L1132.6 111.9L1134 111.9L1135.4 111.8L1136.8 111.8L1138.3 111.6L1139.7 111.5L1141.1 111.2L1142.5 110.9L1144 110.5L1145.4 110.1L1146.8 109.5L1148.2 108.9L1149.7 108.2L1151.1 107.5L1152.5 106.7L1153.9 105.9L1155.4 105.1L1156.8 104.2L1158.2 103.2L1159.6 102.2L1161.1 101.2L1162.5 100.2L1163.9 99.1L1165.3 98L1166.8 97L1168.2 96L1169.6 95L1171 94L1172.5 92.9L1173.9 91.9L1175.3 90.8L1176.7 89.6L1178.2 88.4L1179.6 87.2L1181 86L1182.4 84.8L1183.9 83.7L1185.3 82.5L1186.7 81.3L1188.1 80.2L1189.6 79.1L1191 78.1L1192.4 77.1L1193.8 76.2L1195.3 75.5L1196.7 74.8L1198.1 74.3L1199.5 73.9L1201 73.6L1202.4 73.5L1203.8 73.5L1205.2 73.5L1206.7 73.7L1208.1 74L1209.5 74.5L1210.9 75L1212.3 75.7L1213.8 76.6L1215.2 77.6L1216.6 78.7L1218 80L1219.5 81.5L1220.9 83L1222.3 84.7L1223.7 86.4L1225.2 88.1L1226.6 89.9L1228 91.7L1229.4 93.5L1230.9 95.2L1232.3 96.9L1233.7 98.6L1235.1 100.1L1236.6 101.7L1238 103.1L1239.4 104.5L1240.8 105.8L1242.3 107.1L1243.7 108.2L1245.1 109.3L1246.5 110.3L1248 111.3L1249.4 112.1L1250.8 112.9L1252.2 113.6L1253.7 114.2L1255.1 114.8L1256.5 115.4L1257.9 115.9L1259.4 116.4L1260.8 116.8L1262.2 117.2L1263.6 117.5L1265.1 117.8L1266.5 118.1L1267.9 118.3L1269.3 118.6L1270.8 118.7L1272.2 118.9L1273.6 119.1L1275 119.2L1276.5 119.3L1277.9 119.4L1279.3 119.5L1280.7 119.6L1282.2 119.7L1283.6 119.7L1285 119.8L1286.4 119.9L1287.9 120L1289.3 120.1L1290.7 120.2L1292.1 120.3L1293.6 120.4L1295 120.5L1296.4 120.6L1297.8 120.7L1299.3 120.8L1300.7 120.9L1302.1 121.1L1303.5 121.2L1305 121.3L1306.4 121.5L1307.8 121.6L1309.2 121.8L1310.7 122L1312.1 122.1L1313.5 122.3L1314.9 122.4L1316.4 122.6L1317.8 122.7L1319.2 122.8L1320.6 122.9L1322.1 123L1323.5 123.1L1324.9 123.2L1326.3 123.3L1327.8 123.4L1329.2 123.5L1330.6 123.5L1332 123.6L1333.5 123.7L1334.9 123.8L1336.3 123.9L1337.7 124L1339.2 124.1L1340.6 124.2L1342 124.2L1343.4 124.4L1344.9 124.5L1346.3 124.6L1347.7 124.7L1349.1 124.8L1350.6 125L1352 125.1L1353.4 125.2L1354.8 125.4L1356.3 125.5L1357.7 125.7L1359.1 125.8L1360.5 126L1362 126.1L1363.4 126.3L1364.8 126.4L1366.2 126.6L1367.7 126.8L1369.1 127L1370.5 127.1L1371.9 127.3L1373.4 127.5L1374.8 127.7L1376.2 127.9L1377.6 128.1L1379.1 128.3L1380.5 128.5L1381.9 128.8L1383.3 129L1384.8 129.3L1386.2 129.5L1387.6 129.8L1389 130.1L1390.5 130.4L1391.9 130.7L1393.3 131.1L1394.7 131.5L1396.2 132L1397.6 132.4L1399 132.9L1400.4 133.4L1401.9 133.9L1403.3 134.4L1404.7 134.9L1406.1 135.4L1407.6 135.9L1409 136.4L1410.4 137L1411.8 137.5L1413.3 138L1414.7 138.5L1416.1 139L1417.5 139.5L1419 140L1420.4 140.5L1421.8 140.9L1423.2 141.4L1424.7 141.9L1426.1 142.3L1427.5 142.7L1428.9 143.2L1430.4 143.6L1431.8 144L1433.2 144.3L1434.6 144.7L1436.1 145.1L1437.5 145.4L1438.9 145.8L1440.3 146.1L1441.8 146.4L1443.2 146.7L1444.6 147L1446 147.2L1447.5 147.5L1448.9 147.7L1450.3 147.9L1451.7 148.1L1453.2 148.3L1454.6 148.5L1456 148.6L1457.4 148.9L1458.8 149.1L1460.3 149.3L1461.7 149.7L1463.1 150L1464.5 150.5L1466 151.1L1467.4 151.8L1468.8 152.5L1470.2 153.3L1471.7 154.1L1473.1 155L1474.5 155.9L1475.9 156.9L1477.4 157.9L1478.8 159L1480.2 160.2L1481.6 161.5L1483.1 162.8L1484.5 164.3L1485.9 165.9L1487.3 167.7L1488.8 169.6L1490.2 171.7L1491.6 173.9L1493 176.1L1494.5 178.3L1495.9 180.5L1497.3 182.6L1498.7 184.7L1500.2 186.9L1501.6 189L1503 191.1L1504.4 193.2L1505.9 195.3L1507.3 197.2L1508.7 199.1L1510.1 200.9L1511.6 202.6L1513 204.1L1514.4 205.7L1515.8 207.1L1517.3 208.5L1518.7 209.9L1520.1 211.2L1521.5 212.4L1523 213.6L1524.4 214.7L1525.8 215.8L1527.2 216.8L1528.7 217.7L1530.1 218.6L1531.5 219.5L1532.9 220.3L1534.4 221.2L1535.8 222.1L1537.2 223L1538.6 224L1540.1 225L1541.5 226.1L1542.9 227.2L1544.3 228.4L1545.8 229.6L1547.2 231L1548.6 232.5L1550 234.2L1551.5 236.3L1552.9 238.6L1554.3 241.2L1555.7 244L1557.2 246.8L1558.6 249.6L1560 252.5L1561.4 255.4L1562.9 258.2L1564.3 260.7L1565.7 263L1567.1 265.1L1568.6 267L1570 268.7L1571.4 270L1572.8 270.8L1574.3 271.1L1575.7 270.7L1577.1 269.9L1578.5 268.8L1580 267.3L1581.4 265.6L1582.8 263.6L1584.2 261.2L1585.7 258.5L1587.1 255.4L1588.5 252.2L1589.9 249L1591.4 245.9L1592.8 243L1594.2 240L1595.6 237.1L1597.1 234.2L1598.5 231.3L1599.9 228.6L1601.3 226.2L1602.8 224.3L1604.2 222.6L1605.6 221.1L1607 219.8L1608.5 218.5L1609.9 217.3L1611.3 216.2L1612.7 215.1L1614.2 214.1L1615.6 213.1L1617 212L1618.4 211L1619.9 209.8L1621.3 208.4L1622.7 207L1624.1 205.3L1625.6 203.5L1627 201.5L1628.4 199.5L1629.8 197.4L1631.3 195.3L1632.7 193.3L1634.1 191.3L1635.5 189.3L1637 187.3L1638.4 185.3L1639.8 183.3L1641.2 181.3L1642.7 179.4L1644.1 177.6L1645.5 176L1646.9 174.6L1648.4 173.3L1649.8 172.1L1651.2 171.1L1652.6 170.2L1654.1 169.3L1655.5 168.5L1656.9 167.7L1658.3 166.9L1659.8 166.2L1661.2 165.4L1662.6 164.6L1664 163.8L1665.5 163L1666.9 162.2L1668.3 161.4L1669.7 160.7L1671.2 160L1672.6 159.3L1674 158.7L1675.4 158.1L1676.9 157.5L1678.3 157.1L1679.7 156.6L1681.1 156.2L1682.6 155.8L1684 155.4L1685.4 155L1686.8 154.7L1688.3 154.3L1689.7 153.9L1691.1 153.5L1692.5 153L1694 152.6L1695.4 152.1L1696.8 151.7L1698.2 151.3L1699.7 151L1701.1 150.8L1702.5 150.7" stroke="#c89500" stroke-width="2.2" fill="none" stroke-linejoin="round"/>
<path d="M963 120.4L964.4 120.4L965.8 120.3L967.3 120.3L968.7 120.3L970.1 120.3L971.5 120.2L973 120.2L974.4 120.1L975.8 120.1L977.2 120L978.7 119.9L980.1 119.8L981.5 119.7L982.9 119.7L984.4 119.5L985.8 119.4L987.2 119.3L988.6 119.1L990.1 118.9L991.5 118.6L992.9 118.3L994.3 118L995.8 117.6L997.2 117.2L998.6 116.7L1000 116.2L1001.5 115.7L1002.9 115.1L1004.3 114.5L1005.7 113.9L1007.2 113.2L1008.6 112.6L1010 111.8L1011.4 111.1L1012.9 110.3L1014.3 109.4L1015.7 108.6L1017.1 107.7L1018.6 106.7L1020 105.7L1021.4 104.7L1022.8 103.7L1024.3 102.7L1025.7 101.6L1027.1 100.6L1028.5 99.6L1030 98.6L1031.4 97.6L1032.8 96.7L1034.2 95.7L1035.7 94.8L1037.1 94L1038.5 93.1L1039.9 92.4L1041.4 91.6L1042.8 91L1044.2 90.3L1045.6 89.7L1047.1 89.2L1048.5 88.7L1049.9 88.3L1051.3 87.9L1052.8 87.6L1054.2 87.4L1055.6 87.3L1057 87.3L1058.5 87.4L1059.9 87.6L1061.3 87.9L1062.7 88.2L1064.2 88.5L1065.6 89L1067 89.4L1068.4 90L1069.9 90.6L1071.3 91.2L1072.7 92L1074.1 92.8L1075.6 93.8L1077 94.8L1078.4 95.8L1079.8 96.8L1081.3 97.8L1082.7 98.8L1084.1 99.8L1085.5 100.7L1087 101.6L1088.4 102.4L1089.8 103.2L1091.2 103.9L1092.7 104.6L1094.1 105.3L1095.5 105.9L1096.9 106.4L1098.4 106.9L1099.8 107.3L1101.2 107.7L1102.6 108.1L1104.1 108.4L1105.5 108.7L1106.9 108.9L1108.3 109.1L1109.8 109.3L1111.2 109.5L1112.6 109.7L1114 109.8L1115.5 109.9L1116.9 110L1118.3 110.1L1119.7 110.2L1121.2 110.3L1122.6 110.3L1124 110.4L1125.4 110.4L1126.9 110.4L1128.3 110.4L1129.7 110.4L1131.1 110.3L1132.6 110.3L1134 110.2L1135.4 110.2L1136.8 110.1L1138.3 110L1139.7 109.9L1141.1 109.7L1142.5 109.5L1144 109.3L1145.4 109L1146.8 108.7L1148.2 108.3L1149.7 107.9L1151.1 107.5L1152.5 107L1153.9 106.5L1155.4 105.9L1156.8 105.2L1158.2 104.5L1159.6 103.7L1161.1 102.7L1162.5 101.8L1163.9 100.7L1165.3 99.7L1166.8 98.6L1168.2 97.6L1169.6 96.5L1171 95.5L1172.5 94.4L1173.9 93.3L1175.3 92.2L1176.7 91.1L1178.2 89.9L1179.6 88.7L1181 87.5L1182.4 86.3L1183.9 85.2L1185.3 84L1186.7 82.8L1188.1 81.7L1189.6 80.6L1191 79.6L1192.4 78.6L1193.8 77.8L1195.3 76.9L1196.7 76.2L1198.1 75.5L1199.5 74.9L1201 74.4L1202.4 74L1203.8 73.6L1205.2 73.3L1206.7 73L1208.1 72.8L1209.5 72.7L1210.9 72.7L1212.3 72.7L1213.8 72.8L1215.2 73L1216.6 73.4L1218 74L1219.5 74.6L1220.9 75.5L1222.3 76.4L1223.7 77.6L1225.2 78.8L1226.6 80.1L1228 81.5L1229.4 83L1230.9 84.6L1232.3 86.2L1233.7 87.9L1235.1 89.6L1236.6 91.3L1238 93L1239.4 94.7L1240.8 96.3L1242.3 97.9L1243.7 99.5L1245.1 101L1246.5 102.5L1248 103.9L1249.4 105.3L1250.8 106.6L1252.2 107.9L1253.7 109.1L1255.1 110.2L1256.5 111.3L1257.9 112.3L1259.4 113.3L1260.8 114.2L1262.2 115L1263.6 115.7L1265.1 116.4L1266.5 116.9L1267.9 117.4L1269.3 117.8L1270.8 118.1L1272.2 118.4L1273.6 118.6L1275 118.8L1276.5 119L1277.9 119.2L1279.3 119.3L1280.7 119.5L1282.2 119.6L1283.6 119.7L1285 119.9L1286.4 120L1287.9 120.2L1289.3 120.4L1290.7 120.5L1292.1 120.7L1293.6 120.8L1295 121L1296.4 121.2L1297.8 121.3L1299.3 121.5L1300.7 121.7L1302.1 121.9L1303.5 122.1L1305 122.4L1306.4 122.6L1307.8 122.9L1309.2 123.2L1310.7 123.4L1312.1 123.7L1313.5 124L1314.9 124.2L1316.4 124.5L1317.8 124.7L1319.2 124.9L1320.6 125.1L1322.1 125.3L1323.5 125.4L1324.9 125.6L1326.3 125.8L1327.8 125.9L1329.2 126.1L1330.6 126.2L1332 126.3L1333.5 126.5L1334.9 126.6L1336.3 126.8L1337.7 126.9L1339.2 127.1L1340.6 127.2L1342 127.4L1343.4 127.6L1344.9 127.8L1346.3 128L1347.7 128.2L1349.1 128.4L1350.6 128.6L1352 128.9L1353.4 129.1L1354.8 129.3L1356.3 129.6L1357.7 129.8L1359.1 130.1L1360.5 130.4L1362 130.6L1363.4 130.9L1364.8 131.2L1366.2 131.5L1367.7 131.8L1369.1 132.1L1370.5 132.4L1371.9 132.7L1373.4 133.1L1374.8 133.4L1376.2 133.7L1377.6 134.1L1379.1 134.5L1380.5 134.8L1381.9 135.2L1383.3 135.6L1384.8 136.1L1386.2 136.5L1387.6 137L1389 137.5L1390.5 138L1391.9 138.6L1393.3 139.3L1394.7 140L1396.2 140.8L1397.6 141.6L1399 142.4L1400.4 143.3L1401.9 144.1L1403.3 145L1404.7 145.8L1406.1 146.7L1407.6 147.6L1409 148.5L1410.4 149.4L1411.8 150.3L1413.3 151.2L1414.7 152.1L1416.1 152.9L1417.5 153.8L1419 154.6L1420.4 155.5L1421.8 156.3L1423.2 157.1L1424.7 157.9L1426.1 158.7L1427.5 159.4L1428.9 160.1L1430.4 160.8L1431.8 161.5L1433.2 162.2L1434.6 162.8L1436.1 163.4L1437.5 164L1438.9 164.6L1440.3 165.2L1441.8 165.7L1443.2 166.2L1444.6 166.7L1446 167.2L1447.5 167.6L1448.9 168L1450.3 168.3L1451.7 168.7L1453.2 169L1454.6 169.3L1456 169.6L1457.4 170L1458.8 170.4L1460.3 170.8L1461.7 171.4L1463.1 172L1464.5 172.9L1466 173.8L1467.4 175L1468.8 176.3L1470.2 177.7L1471.7 179.1L1473.1 180.6L1474.5 182.2L1475.9 183.9L1477.4 185.7L1478.8 187.6L1480.2 189.6L1481.6 191.8L1483.1 194.1L1484.5 196.6L1485.9 199.4L1487.3 202.5L1488.8 205.9L1490.2 209.5L1491.6 213.3L1493 217.1L1494.5 220.9L1495.9 224.7L1497.3 228.4L1498.7 232L1500.2 235.7L1501.6 239.4L1503 243.1L1504.4 246.7L1505.9 250.3L1507.3 253.7L1508.7 256.9L1510.1 260L1511.6 262.9L1513 265.6L1514.4 268.3L1515.8 270.8L1517.3 273.2L1518.7 275.5L1520.1 277.8L1521.5 279.9L1523 282L1524.4 283.9L1525.8 285.8L1527.2 287.5L1528.7 289.1L1530.1 290.7L1531.5 292.2L1532.9 293.6L1534.4 295.1L1535.8 296.7L1537.2 298.3L1538.6 300L1540.1 301.8L1541.5 303.6L1542.9 305.5L1544.3 307.5L1545.8 309.7L1547.2 312L1548.6 314.7L1550 317.7L1551.5 321.2L1552.9 325.3L1554.3 329.8L1555.7 334.5L1557.2 339.4L1558.6 344.3L1560 349.3L1561.4 354.3L1562.9 359.1L1564.3 363.5L1565.7 367.5L1567.1 371.2L1568.6 374.5L1570 377.3L1571.4 379.6L1572.8 381L1574.3 381.4L1575.7 380.9L1577.1 379.5L1578.5 377.4L1580 374.9L1581.4 371.9L1582.8 368.5L1584.2 364.4L1585.7 359.6L1587.1 354.3L1588.5 348.7L1589.9 343.2L1591.4 337.9L1592.8 332.8L1594.2 327.7L1595.6 322.7L1597.1 317.6L1598.5 312.6L1599.9 308L1601.3 303.9L1602.8 300.4L1604.2 297.5L1605.6 295L1607 292.6L1608.5 290.5L1609.9 288.4L1611.3 286.4L1612.7 284.6L1614.2 282.8L1615.6 281.1L1617 279.3L1618.4 277.4L1619.9 275.4L1621.3 273.1L1622.7 270.5L1624.1 267.6L1625.6 264.4L1627 261.1L1628.4 257.5L1629.8 253.9L1631.3 250.4L1632.7 246.8L1634.1 243.4L1635.5 239.9L1637 236.5L1638.4 233L1639.8 229.5L1641.2 226.1L1642.7 222.8L1644.1 219.8L1645.5 217L1646.9 214.4L1648.4 212.2L1649.8 210.3L1651.2 208.5L1652.6 206.9L1654.1 205.4L1655.5 203.9L1656.9 202.6L1658.3 201.2L1659.8 199.9L1661.2 198.6L1662.6 197.2L1664 195.9L1665.5 194.5L1666.9 193.1L1668.3 191.8L1669.7 190.5L1671.2 189.2L1672.6 188L1674 186.9L1675.4 185.9L1676.9 185L1678.3 184.2L1679.7 183.4L1681.1 182.7L1682.6 182L1684 181.3L1685.4 180.7L1686.8 180L1688.3 179.4L1689.7 178.7L1691.1 178L1692.5 177.2L1694 176.4L1695.4 175.6L1696.8 174.9L1698.2 174.2L1699.7 173.7L1701.1 173.4L1702.5 173.2" stroke="#ee3131" stroke-width="2.2" fill="none" stroke-linejoin="round"/>
<path d="M963 120.2L964.4 120.2L965.8 120.2L967.3 120.1L968.7 120.1L970.1 120.1L971.5 120.1L973 120.1L974.4 120L975.8 120L977.2 120L978.7 119.9L980.1 119.9L981.5 119.8L982.9 119.8L984.4 119.7L985.8 119.6L987.2 119.6L988.6 119.5L990.1 119.3L991.5 119.2L992.9 119L994.3 118.8L995.8 118.6L997.2 118.4L998.6 118.1L1000 117.8L1001.5 117.5L1002.9 117.2L1004.3 116.9L1005.7 116.5L1007.2 116.1L1008.6 115.8L1010 115.3L1011.4 114.9L1012.9 114.4L1014.3 114L1015.7 113.4L1017.1 112.9L1018.6 112.3L1020 111.7L1021.4 111.1L1022.8 110.5L1024.3 109.8L1025.7 109.2L1027.1 108.5L1028.5 107.9L1030 107.2L1031.4 106.6L1032.8 106L1034.2 105.4L1035.7 104.8L1037.1 104.2L1038.5 103.6L1039.9 103.1L1041.4 102.6L1042.8 102.1L1044.2 101.6L1045.6 101.2L1047.1 100.7L1048.5 100.3L1049.9 100L1051.3 99.7L1052.8 99.4L1054.2 99.2L1055.6 99.1L1057 99L1058.5 99L1059.9 99L1061.3 99.1L1062.7 99.2L1064.2 99.3L1065.6 99.4L1067 99.5L1068.4 99.7L1069.9 99.9L1071.3 100.2L1072.7 100.5L1074.1 100.9L1075.6 101.3L1077 101.8L1078.4 102.3L1079.8 102.8L1081.3 103.3L1082.7 103.8L1084.1 104.3L1085.5 104.8L1087 105.3L1088.4 105.7L1089.8 106.1L1091.2 106.5L1092.7 106.9L1094.1 107.2L1095.5 107.6L1096.9 107.9L1098.4 108.1L1099.8 108.4L1101.2 108.6L1102.6 108.8L1104.1 109L1105.5 109.1L1106.9 109.3L1108.3 109.4L1109.8 109.5L1111.2 109.6L1112.6 109.7L1114 109.8L1115.5 109.8L1116.9 109.9L1118.3 110L1119.7 110L1121.2 110L1122.6 110.1L1124 110.1L1125.4 110.1L1126.9 110.1L1128.3 110.1L1129.7 110.1L1131.1 110.1L1132.6 110L1134 110L1135.4 109.9L1136.8 109.8L1138.3 109.7L1139.7 109.5L1141.1 109.2L1142.5 108.8L1144 108.3L1145.4 107.8L1146.8 107.1L1148.2 106.4L1149.7 105.7L1151.1 104.9L1152.5 104L1153.9 103.1L1155.4 102.3L1156.8 101.4L1158.2 100.5L1159.6 99.5L1161.1 98.6L1162.5 97.6L1163.9 96.6L1165.3 95.6L1166.8 94.5L1168.2 93.5L1169.6 92.4L1171 91.3L1172.5 90.1L1173.9 88.9L1175.3 87.7L1176.7 86.4L1178.2 85.2L1179.6 83.8L1181 82.5L1182.4 81.2L1183.9 79.8L1185.3 78.4L1186.7 77L1188.1 75.5L1189.6 74L1191 72.5L1192.4 71L1193.8 69.6L1195.3 68.2L1196.7 66.9L1198.1 65.8L1199.5 64.8L1201 64L1202.4 63.5L1203.8 63L1205.2 62.8L1206.7 62.7L1208.1 62.9L1209.5 63.1L1210.9 63.6L1212.3 64.2L1213.8 65.1L1215.2 66.1L1216.6 67.3L1218 68.7L1219.5 70.3L1220.9 72L1222.3 73.9L1223.7 76L1225.2 78.2L1226.6 80.4L1228 82.7L1229.4 84.9L1230.9 87.2L1232.3 89.3L1233.7 91.4L1235.1 93.4L1236.6 95.3L1238 97.2L1239.4 98.9L1240.8 100.5L1242.3 102.1L1243.7 103.5L1245.1 104.9L1246.5 106.1L1248 107.4L1249.4 108.5L1250.8 109.6L1252.2 110.6L1253.7 111.5L1255.1 112.3L1256.5 113.1L1257.9 113.9L1259.4 114.6L1260.8 115.3L1262.2 115.9L1263.6 116.5L1265.1 117L1266.5 117.5L1267.9 117.9L1269.3 118.2L1270.8 118.5L1272.2 118.7L1273.6 118.9L1275 119.1L1276.5 119.2L1277.9 119.3L1279.3 119.4L1280.7 119.5L1282.2 119.6L1283.6 119.7L1285 119.8L1286.4 120L1287.9 120.1L1289.3 120.2L1290.7 120.3L1292.1 120.4L1293.6 120.5L1295 120.7L1296.4 120.8L1297.8 120.9L1299.3 121L1300.7 121.1L1302.1 121.3L1303.5 121.4L1305 121.6L1306.4 121.8L1307.8 122L1309.2 122.2L1310.7 122.4L1312.1 122.5L1313.5 122.7L1314.9 122.9L1316.4 123.1L1317.8 123.2L1319.2 123.4L1320.6 123.5L1322.1 123.6L1323.5 123.8L1324.9 123.9L1326.3 124L1327.8 124.1L1329.2 124.2L1330.6 124.3L1332 124.4L1333.5 124.5L1334.9 124.6L1336.3 124.7L1337.7 124.8L1339.2 124.9L1340.6 125L1342 125.1L1343.4 125.2L1344.9 125.4L1346.3 125.5L1347.7 125.7L1349.1 125.8L1350.6 126L1352 126.1L1353.4 126.3L1354.8 126.4L1356.3 126.6L1357.7 126.8L1359.1 127L1360.5 127.2L1362 127.4L1363.4 127.5L1364.8 127.7L1366.2 127.9L1367.7 128.2L1369.1 128.4L1370.5 128.6L1371.9 128.8L1373.4 129L1374.8 129.3L1376.2 129.5L1377.6 129.7L1379.1 130L1380.5 130.3L1381.9 130.5L1383.3 130.8L1384.8 131.1L1386.2 131.4L1387.6 131.7L1389 132.1L1390.5 132.5L1391.9 132.9L1393.3 133.3L1394.7 133.8L1396.2 134.4L1397.6 134.9L1399 135.5L1400.4 136.1L1401.9 136.7L1403.3 137.3L1404.7 137.9L1406.1 138.5L1407.6 139.1L1409 139.7L1410.4 140.4L1411.8 141L1413.3 141.6L1414.7 142.2L1416.1 142.8L1417.5 143.4L1419 144L1420.4 144.5L1421.8 145.1L1423.2 145.7L1424.7 146.2L1426.1 146.8L1427.5 147.3L1428.9 147.8L1430.4 148.3L1431.8 148.7L1433.2 149.2L1434.6 149.6L1436.1 150.1L1437.5 150.5L1438.9 150.9L1440.3 151.3L1441.8 151.7L1443.2 152L1444.6 152.4L1446 152.7L1447.5 153L1448.9 153.2L1450.3 153.5L1451.7 153.7L1453.2 153.9L1454.6 154.1L1456 154.4L1457.4 154.6L1458.8 154.9L1460.3 155.2L1461.7 155.6L1463.1 156L1464.5 156.6L1466 157.3L1467.4 158.1L1468.8 159L1470.2 159.9L1471.7 160.9L1473.1 162L1474.5 163.1L1475.9 164.2L1477.4 165.5L1478.8 166.8L1480.2 168.2L1481.6 169.7L1483.1 171.3L1484.5 173.1L1485.9 175L1487.3 177.2L1488.8 179.5L1490.2 182L1491.6 184.6L1493 187.3L1494.5 189.9L1495.9 192.5L1497.3 195.1L1498.7 197.6L1500.2 200.2L1501.6 202.7L1503 205.3L1504.4 207.8L1505.9 210.2L1507.3 212.6L1508.7 214.9L1510.1 217L1511.6 219L1513 220.9L1514.4 222.7L1515.8 224.5L1517.3 226.1L1518.7 227.8L1520.1 229.3L1521.5 230.8L1523 232.2L1524.4 233.6L1525.8 234.8L1527.2 236L1528.7 237.2L1530.1 238.3L1531.5 239.3L1532.9 240.3L1534.4 241.3L1535.8 242.4L1537.2 243.5L1538.6 244.7L1540.1 246L1541.5 247.2L1542.9 248.5L1544.3 249.9L1545.8 251.4L1547.2 253.1L1548.6 254.9L1550 257L1551.5 259.4L1552.9 262.3L1554.3 265.4L1555.7 268.7L1557.2 272L1558.6 275.4L1560 278.9L1561.4 282.4L1562.9 285.7L1564.3 288.8L1565.7 291.5L1567.1 294L1568.6 296.3L1570 298.3L1571.4 299.9L1572.8 300.9L1574.3 301.1L1575.7 300.8L1577.1 299.8L1578.5 298.4L1580 296.6L1581.4 294.6L1582.8 292.2L1584.2 289.3L1585.7 286L1587.1 282.3L1588.5 278.5L1589.9 274.7L1591.4 271L1592.8 267.4L1594.2 263.9L1595.6 260.4L1597.1 256.9L1598.5 253.5L1599.9 250.2L1601.3 247.4L1602.8 245L1604.2 243L1605.6 241.2L1607 239.6L1608.5 238.1L1609.9 236.7L1611.3 235.3L1612.7 234L1614.2 232.8L1615.6 231.6L1617 230.4L1618.4 229.1L1619.9 227.7L1621.3 226.1L1622.7 224.3L1624.1 222.3L1625.6 220.1L1627 217.7L1628.4 215.3L1629.8 212.8L1631.3 210.3L1632.7 207.9L1634.1 205.5L1635.5 203.1L1637 200.7L1638.4 198.3L1639.8 195.9L1641.2 193.5L1642.7 191.2L1644.1 189.1L1645.5 187.2L1646.9 185.4L1648.4 183.9L1649.8 182.5L1651.2 181.3L1652.6 180.2L1654.1 179.1L1655.5 178.1L1656.9 177.2L1658.3 176.3L1659.8 175.4L1661.2 174.4L1662.6 173.5L1664 172.5L1665.5 171.6L1666.9 170.6L1668.3 169.7L1669.7 168.8L1671.2 167.9L1672.6 167.1L1674 166.4L1675.4 165.7L1676.9 165L1678.3 164.4L1679.7 163.9L1681.1 163.4L1682.6 162.9L1684 162.5L1685.4 162L1686.8 161.6L1688.3 161.1L1689.7 160.7L1691.1 160.2L1692.5 159.6L1694 159.1L1695.4 158.5L1696.8 158L1698.2 157.6L1699.7 157.2L1701.1 157L1702.5 156.8" stroke="#a76ee0" stroke-width="2.2" fill="none" stroke-linejoin="round"/>
<path d="M963 120.3L964.4 120.3L965.8 120.3L967.3 120.2L968.7 120.2L970.1 120.2L971.5 120.2L973 120.1L974.4 120.1L975.8 120L977.2 120L978.7 119.9L980.1 119.9L981.5 119.8L982.9 119.7L984.4 119.6L985.8 119.5L987.2 119.4L988.6 119.3L990.1 119.1L991.5 118.9L992.9 118.7L994.3 118.4L995.8 118.1L997.2 117.8L998.6 117.4L1000 117L1001.5 116.6L1002.9 116.1L1004.3 115.7L1005.7 115.2L1007.2 114.7L1008.6 114.1L1010 113.5L1011.4 112.9L1012.9 112.3L1014.3 111.7L1015.7 111L1017.1 110.2L1018.6 109.5L1020 108.7L1021.4 107.9L1022.8 107L1024.3 106.2L1025.7 105.3L1027.1 104.5L1028.5 103.7L1030 102.8L1031.4 102L1032.8 101.3L1034.2 100.5L1035.7 99.8L1037.1 99L1038.5 98.3L1039.9 97.7L1041.4 97.1L1042.8 96.5L1044.2 95.9L1045.6 95.4L1047.1 94.9L1048.5 94.5L1049.9 94.1L1051.3 93.8L1052.8 93.5L1054.2 93.3L1055.6 93.2L1057 93.2L1058.5 93.2L1059.9 93.3L1061.3 93.5L1062.7 93.7L1064.2 93.9L1065.6 94.2L1067 94.5L1068.4 94.9L1069.9 95.3L1071.3 95.8L1072.7 96.3L1074.1 97L1075.6 97.7L1077 98.4L1078.4 99.2L1079.8 99.9L1081.3 100.7L1082.7 101.5L1084.1 102.2L1085.5 102.9L1087 103.6L1088.4 104.2L1089.8 104.8L1091.2 105.4L1092.7 106L1094.1 106.5L1095.5 106.9L1096.9 107.3L1098.4 107.7L1099.8 108.1L1101.2 108.4L1102.6 108.6L1104.1 108.9L1105.5 109.1L1106.9 109.3L1108.3 109.5L1109.8 109.6L1111.2 109.8L1112.6 109.9L1114 110L1115.5 110.1L1116.9 110.2L1118.3 110.3L1119.7 110.3L1121.2 110.4L1122.6 110.4L1124 110.5L1125.4 110.5L1126.9 110.5L1128.3 110.5L1129.7 110.4L1131.1 110.4L1132.6 110.4L1134 110.3L1135.4 110.3L1136.8 110.2L1138.3 110.1L1139.7 109.9L1141.1 109.7L1142.5 109.4L1144 109L1145.4 108.6L1146.8 108.1L1148.2 107.5L1149.7 106.9L1151.1 106.3L1152.5 105.6L1153.9 104.8L1155.4 104.1L1156.8 103.3L1158.2 102.4L1159.6 101.5L1161.1 100.5L1162.5 99.5L1163.9 98.5L1165.3 97.5L1166.8 96.4L1168.2 95.4L1169.6 94.4L1171 93.4L1172.5 92.3L1173.9 91.2L1175.3 90L1176.7 88.8L1178.2 87.6L1179.6 86.4L1181 85L1182.4 83.7L1183.9 82.3L1185.3 80.9L1186.7 79.5L1188.1 78L1189.6 76.6L1191 75.1L1192.4 73.5L1193.8 72.1L1195.3 70.7L1196.7 69.3L1198.1 68.1L1199.5 67L1201 66.2L1202.4 65.4L1203.8 64.9L1205.2 64.5L1206.7 64.2L1208.1 64.1L1209.5 64.1L1210.9 64.2L1212.3 64.4L1213.8 64.9L1215.2 65.5L1216.6 66.4L1218 67.4L1219.5 68.7L1220.9 70.1L1222.3 71.7L1223.7 73.3L1225.2 75.1L1226.6 76.9L1228 78.8L1229.4 80.8L1230.9 82.7L1232.3 84.7L1233.7 86.7L1235.1 88.7L1236.6 90.6L1238 92.5L1239.4 94.4L1240.8 96.2L1242.3 97.9L1243.7 99.6L1245.1 101.2L1246.5 102.7L1248 104.2L1249.4 105.6L1250.8 106.9L1252.2 108.2L1253.7 109.5L1255.1 110.6L1256.5 111.7L1257.9 112.7L1259.4 113.7L1260.8 114.6L1262.2 115.3L1263.6 116L1265.1 116.7L1266.5 117.2L1267.9 117.6L1269.3 118L1270.8 118.3L1272.2 118.6L1273.6 118.8L1275 119L1276.5 119.1L1277.9 119.3L1279.3 119.4L1280.7 119.5L1282.2 119.6L1283.6 119.7L1285 119.9L1286.4 120L1287.9 120.1L1289.3 120.3L1290.7 120.4L1292.1 120.5L1293.6 120.7L1295 120.8L1296.4 121L1297.8 121.1L1299.3 121.3L1300.7 121.4L1302.1 121.6L1303.5 121.8L1305 122L1306.4 122.2L1307.8 122.4L1309.2 122.7L1310.7 122.9L1312.1 123.1L1313.5 123.4L1314.9 123.6L1316.4 123.8L1317.8 124L1319.2 124.1L1320.6 124.3L1322.1 124.5L1323.5 124.6L1324.9 124.7L1326.3 124.9L1327.8 125L1329.2 125.1L1330.6 125.2L1332 125.4L1333.5 125.5L1334.9 125.6L1336.3 125.7L1337.7 125.9L1339.2 126L1340.6 126.1L1342 126.3L1343.4 126.4L1344.9 126.6L1346.3 126.8L1347.7 126.9L1349.1 127.1L1350.6 127.3L1352 127.5L1353.4 127.7L1354.8 127.9L1356.3 128.1L1357.7 128.3L1359.1 128.6L1360.5 128.8L1362 129L1363.4 129.2L1364.8 129.5L1366.2 129.7L1367.7 130L1369.1 130.3L1370.5 130.5L1371.9 130.8L1373.4 131.1L1374.8 131.4L1376.2 131.6L1377.6 131.9L1379.1 132.2L1380.5 132.6L1381.9 132.9L1383.3 133.2L1384.8 133.6L1386.2 134L1387.6 134.4L1389 134.8L1390.5 135.3L1391.9 135.8L1393.3 136.3L1394.7 136.9L1396.2 137.6L1397.6 138.3L1399 139L1400.4 139.7L1401.9 140.4L1403.3 141.2L1404.7 141.9L1406.1 142.6L1407.6 143.4L1409 144.2L1410.4 144.9L1411.8 145.7L1413.3 146.5L1414.7 147.2L1416.1 147.9L1417.5 148.6L1419 149.3L1420.4 150.1L1421.8 150.8L1423.2 151.4L1424.7 152.1L1426.1 152.8L1427.5 153.4L1428.9 154L1430.4 154.6L1431.8 155.2L1433.2 155.7L1434.6 156.3L1436.1 156.8L1437.5 157.3L1438.9 157.8L1440.3 158.3L1441.8 158.8L1443.2 159.2L1444.6 159.6L1446 160L1447.5 160.4L1448.9 160.7L1450.3 161L1451.7 161.3L1453.2 161.5L1454.6 161.8L1456 162.1L1457.4 162.4L1458.8 162.7L1460.3 163.1L1461.7 163.6L1463.1 164.1L1464.5 164.8L1466 165.6L1467.4 166.6L1468.8 167.7L1470.2 168.9L1471.7 170.1L1473.1 171.4L1474.5 172.7L1475.9 174.2L1477.4 175.7L1478.8 177.3L1480.2 179L1481.6 180.8L1483.1 182.8L1484.5 185L1485.9 187.3L1487.3 190L1488.8 192.8L1490.2 195.9L1491.6 199.1L1493 202.3L1494.5 205.6L1495.9 208.8L1497.3 211.9L1498.7 215L1500.2 218.1L1501.6 221.2L1503 224.4L1504.4 227.4L1505.9 230.5L1507.3 233.3L1508.7 236.1L1510.1 238.7L1511.6 241.2L1513 243.5L1514.4 245.7L1515.8 247.8L1517.3 249.9L1518.7 251.9L1520.1 253.8L1521.5 255.6L1523 257.3L1524.4 259L1525.8 260.6L1527.2 262L1528.7 263.4L1530.1 264.7L1531.5 266L1532.9 267.2L1534.4 268.5L1535.8 269.8L1537.2 271.2L1538.6 272.6L1540.1 274.1L1541.5 275.7L1542.9 277.3L1544.3 279L1545.8 280.8L1547.2 282.8L1548.6 285.1L1550 287.6L1551.5 290.6L1552.9 294.1L1554.3 297.9L1555.7 301.9L1557.2 306L1558.6 310.2L1560 314.5L1561.4 318.7L1562.9 322.8L1564.3 326.5L1565.7 329.9L1567.1 333L1568.6 335.8L1570 338.2L1571.4 340.1L1572.8 341.3L1574.3 341.7L1575.7 341.2L1577.1 340L1578.5 338.3L1580 336.1L1581.4 333.6L1582.8 330.7L1584.2 327.2L1585.7 323.2L1587.1 318.7L1588.5 314L1589.9 309.3L1591.4 304.8L1592.8 300.4L1594.2 296.1L1595.6 291.8L1597.1 287.5L1598.5 283.3L1599.9 279.4L1601.3 275.9L1602.8 273L1604.2 270.5L1605.6 268.4L1607 266.4L1608.5 264.5L1609.9 262.8L1611.3 261.1L1612.7 259.6L1614.2 258.1L1615.6 256.6L1617 255.1L1618.4 253.5L1619.9 251.7L1621.3 249.8L1622.7 247.6L1624.1 245.2L1625.6 242.5L1627 239.6L1628.4 236.6L1629.8 233.6L1631.3 230.5L1632.7 227.5L1634.1 224.6L1635.5 221.7L1637 218.8L1638.4 215.8L1639.8 212.9L1641.2 210L1642.7 207.2L1644.1 204.6L1645.5 202.2L1646.9 200.1L1648.4 198.2L1649.8 196.5L1651.2 195L1652.6 193.6L1654.1 192.4L1655.5 191.2L1656.9 190L1658.3 188.9L1659.8 187.8L1661.2 186.6L1662.6 185.5L1664 184.3L1665.5 183.1L1666.9 182L1668.3 180.8L1669.7 179.7L1671.2 178.7L1672.6 177.7L1674 176.7L1675.4 175.9L1676.9 175.1L1678.3 174.4L1679.7 173.7L1681.1 173.1L1682.6 172.5L1684 172L1685.4 171.4L1686.8 170.9L1688.3 170.3L1689.7 169.8L1691.1 169.2L1692.5 168.5L1694 167.8L1695.4 167.2L1696.8 166.5L1698.2 166L1699.7 165.6L1701.1 165.3L1702.5 165.1" stroke="#1b5fd5" stroke-width="2.2" fill="none" stroke-linejoin="round"/>
<path d="M963 120.2L964.4 120.2L965.8 120.2L967.3 120.2L968.7 120.2L970.1 120.1L971.5 120.1L973 120.1L974.4 120.1L975.8 120L977.2 120L978.7 119.9L980.1 119.9L981.5 119.8L982.9 119.7L984.4 119.7L985.8 119.6L987.2 119.5L988.6 119.4L990.1 119.3L991.5 119.1L992.9 118.9L994.3 118.7L995.8 118.4L997.2 118.1L998.6 117.8L1000 117.5L1001.5 117.1L1002.9 116.8L1004.3 116.4L1005.7 116L1007.2 115.5L1008.6 115.1L1010 114.6L1011.4 114.1L1012.9 113.6L1014.3 113L1015.7 112.4L1017.1 111.8L1018.6 111.2L1020 110.5L1021.4 109.8L1022.8 109L1024.3 108.3L1025.7 107.6L1027.1 106.8L1028.5 106.1L1030 105.4L1031.4 104.7L1032.8 104L1034.2 103.3L1035.7 102.6L1037.1 102L1038.5 101.3L1039.9 100.7L1041.4 100.2L1042.8 99.6L1044.2 99.1L1045.6 98.6L1047.1 98.1L1048.5 97.7L1049.9 97.3L1051.3 97L1052.8 96.7L1054.2 96.5L1055.6 96.4L1057 96.3L1058.5 96.3L1059.9 96.4L1061.3 96.4L1062.7 96.6L1064.2 96.7L1065.6 96.9L1067 97.1L1068.4 97.3L1069.9 97.6L1071.3 97.9L1072.7 98.3L1074.1 98.8L1075.6 99.3L1077 99.8L1078.4 100.4L1079.8 101.1L1081.3 101.7L1082.7 102.3L1084.1 102.9L1085.5 103.4L1087 104L1088.4 104.5L1089.8 105L1091.2 105.4L1092.7 105.9L1094.1 106.3L1095.5 106.7L1096.9 107L1098.4 107.3L1099.8 107.6L1101.2 107.8L1102.6 108.1L1104.1 108.3L1105.5 108.5L1106.9 108.6L1108.3 108.8L1109.8 108.9L1111.2 109L1112.6 109.1L1114 109.2L1115.5 109.3L1116.9 109.4L1118.3 109.4L1119.7 109.5L1121.2 109.5L1122.6 109.6L1124 109.6L1125.4 109.6L1126.9 109.6L1128.3 109.6L1129.7 109.6L1131.1 109.6L1132.6 109.5L1134 109.5L1135.4 109.4L1136.8 109.3L1138.3 109.2L1139.7 108.9L1141.1 108.6L1142.5 108.2L1144 107.8L1145.4 107.2L1146.8 106.5L1148.2 105.8L1149.7 105L1151.1 104.1L1152.5 103.3L1153.9 102.4L1155.4 101.5L1156.8 100.6L1158.2 99.6L1159.6 98.7L1161.1 97.7L1162.5 96.7L1163.9 95.7L1165.3 94.7L1166.8 93.6L1168.2 92.5L1169.6 91.4L1171 90.3L1172.5 89.1L1173.9 87.9L1175.3 86.6L1176.7 85.3L1178.2 84L1179.6 82.7L1181 81.3L1182.4 79.9L1183.9 78.6L1185.3 77.1L1186.7 75.7L1188.1 74.2L1189.6 72.6L1191 71.1L1192.4 69.5L1193.8 68L1195.3 66.4L1196.7 65L1198.1 63.6L1199.5 62.3L1201 61.1L1202.4 60.1L1203.8 59.2L1205.2 58.4L1206.7 57.9L1208.1 57.7L1209.5 57.6L1210.9 57.8L1212.3 58.3L1213.8 58.9L1215.2 59.8L1216.6 60.8L1218 62.1L1219.5 63.6L1220.9 65.3L1222.3 67.2L1223.7 69.2L1225.2 71.4L1226.6 73.7L1228 76.1L1229.4 78.6L1230.9 81.1L1232.3 83.6L1233.7 86.1L1235.1 88.5L1236.6 90.8L1238 93L1239.4 95L1240.8 97L1242.3 98.8L1243.7 100.5L1245.1 102.1L1246.5 103.7L1248 105.1L1249.4 106.5L1250.8 107.8L1252.2 109.1L1253.7 110.3L1255.1 111.4L1256.5 112.4L1257.9 113.3L1259.4 114.2L1260.8 114.9L1262.2 115.6L1263.6 116.2L1265.1 116.7L1266.5 117.1L1267.9 117.5L1269.3 117.8L1270.8 118.1L1272.2 118.4L1273.6 118.6L1275 118.8L1276.5 119L1277.9 119.2L1279.3 119.3L1280.7 119.4L1282.2 119.6L1283.6 119.7L1285 119.8L1286.4 120L1287.9 120.1L1289.3 120.2L1290.7 120.3L1292.1 120.4L1293.6 120.6L1295 120.7L1296.4 120.8L1297.8 120.9L1299.3 121L1300.7 121.2L1302.1 121.3L1303.5 121.5L1305 121.7L1306.4 121.9L1307.8 122.1L1309.2 122.2L1310.7 122.4L1312.1 122.6L1313.5 122.8L1314.9 123L1316.4 123.2L1317.8 123.3L1319.2 123.5L1320.6 123.6L1322.1 123.8L1323.5 123.9L1324.9 124L1326.3 124.1L1327.8 124.2L1329.2 124.3L1330.6 124.4L1332 124.5L1333.5 124.6L1334.9 124.7L1336.3 124.8L1337.7 124.9L1339.2 125L1340.6 125.2L1342 125.3L1343.4 125.4L1344.9 125.6L1346.3 125.7L1347.7 125.9L1349.1 126L1350.6 126.2L1352 126.3L1353.4 126.5L1354.8 126.7L1356.3 126.8L1357.7 127L1359.1 127.2L1360.5 127.4L1362 127.6L1363.4 127.8L1364.8 128L1366.2 128.2L1367.7 128.4L1369.1 128.7L1370.5 128.9L1371.9 129.1L1373.4 129.3L1374.8 129.6L1376.2 129.8L1377.6 130.1L1379.1 130.3L1380.5 130.6L1381.9 130.9L1383.3 131.2L1384.8 131.5L1386.2 131.8L1387.6 132.2L1389 132.5L1390.5 132.9L1391.9 133.3L1393.3 133.8L1394.7 134.3L1396.2 134.9L1397.6 135.4L1399 136L1400.4 136.7L1401.9 137.3L1403.3 137.9L1404.7 138.5L1406.1 139.1L1407.6 139.8L1409 140.4L1410.4 141.1L1411.8 141.7L1413.3 142.4L1414.7 143L1416.1 143.6L1417.5 144.2L1419 144.8L1420.4 145.4L1421.8 146L1423.2 146.6L1424.7 147.1L1426.1 147.7L1427.5 148.2L1428.9 148.7L1430.4 149.2L1431.8 149.7L1433.2 150.2L1434.6 150.7L1436.1 151.1L1437.5 151.5L1438.9 152L1440.3 152.4L1441.8 152.8L1443.2 153.1L1444.6 153.5L1446 153.8L1447.5 154.1L1448.9 154.4L1450.3 154.6L1451.7 154.9L1453.2 155.1L1454.6 155.3L1456 155.6L1457.4 155.8L1458.8 156.1L1460.3 156.4L1461.7 156.8L1463.1 157.3L1464.5 157.9L1466 158.6L1467.4 159.4L1468.8 160.3L1470.2 161.3L1471.7 162.4L1473.1 163.4L1474.5 164.6L1475.9 165.8L1477.4 167.1L1478.8 168.4L1480.2 169.9L1481.6 171.4L1483.1 173.1L1484.5 174.9L1485.9 176.9L1487.3 179.1L1488.8 181.6L1490.2 184.2L1491.6 186.9L1493 189.6L1494.5 192.3L1495.9 195L1497.3 197.7L1498.7 200.3L1500.2 202.9L1501.6 205.6L1503 208.2L1504.4 210.8L1505.9 213.4L1507.3 215.8L1508.7 218.2L1510.1 220.4L1511.6 222.4L1513 224.4L1514.4 226.3L1515.8 228.1L1517.3 229.8L1518.7 231.5L1520.1 233.1L1521.5 234.6L1523 236.1L1524.4 237.5L1525.8 238.8L1527.2 240.1L1528.7 241.2L1530.1 242.3L1531.5 243.4L1532.9 244.5L1534.4 245.6L1535.8 246.7L1537.2 247.8L1538.6 249L1540.1 250.3L1541.5 251.6L1542.9 253L1544.3 254.4L1545.8 256L1547.2 257.7L1548.6 259.6L1550 261.7L1551.5 264.3L1552.9 267.2L1554.3 270.4L1555.7 273.8L1557.2 277.3L1558.6 280.8L1560 284.4L1561.4 288L1562.9 291.4L1564.3 294.6L1565.7 297.5L1567.1 300.1L1568.6 302.4L1570 304.5L1571.4 306.1L1572.8 307.1L1574.3 307.4L1575.7 307L1577.1 306L1578.5 304.5L1580 302.7L1581.4 300.6L1582.8 298.1L1584.2 295.2L1585.7 291.8L1587.1 288L1588.5 284L1589.9 280L1591.4 276.2L1592.8 272.5L1594.2 268.9L1595.6 265.3L1597.1 261.7L1598.5 258.1L1599.9 254.7L1601.3 251.8L1602.8 249.3L1604.2 247.3L1605.6 245.4L1607 243.8L1608.5 242.2L1609.9 240.7L1611.3 239.3L1612.7 238L1614.2 236.7L1615.6 235.5L1617 234.2L1618.4 232.9L1619.9 231.4L1621.3 229.7L1622.7 227.9L1624.1 225.8L1625.6 223.5L1627 221.1L1628.4 218.6L1629.8 216L1631.3 213.4L1632.7 210.9L1634.1 208.4L1635.5 206L1637 203.5L1638.4 201L1639.8 198.5L1641.2 196.1L1642.7 193.7L1644.1 191.5L1645.5 189.5L1646.9 187.7L1648.4 186.1L1649.8 184.7L1651.2 183.4L1652.6 182.3L1654.1 181.2L1655.5 180.2L1656.9 179.2L1658.3 178.2L1659.8 177.3L1661.2 176.3L1662.6 175.3L1664 174.4L1665.5 173.4L1666.9 172.4L1668.3 171.4L1669.7 170.5L1671.2 169.6L1672.6 168.8L1674 168L1675.4 167.2L1676.9 166.6L1678.3 166L1679.7 165.4L1681.1 164.9L1682.6 164.4L1684 163.9L1685.4 163.5L1686.8 163L1688.3 162.5L1689.7 162.1L1691.1 161.5L1692.5 161L1694 160.4L1695.4 159.9L1696.8 159.3L1698.2 158.9L1699.7 158.5L1701.1 158.3L1702.5 158.1" stroke="#27a35b" stroke-width="2.2" fill="none" stroke-linejoin="round"/>
<rect x="963" y="28.3" width="739.5" height="366.5" fill="none" stroke="#000" stroke-width="2.2"/>
<path d="M1079.8 394.8L1079.8 403.3M1235.4 394.8L1235.4 403.3M1391.1 394.8L1391.1 403.3M1546.8 394.8L1546.8 403.3M1702.5 394.8L1702.5 403.3M1001.9 394.8L1001.9 399.3M1157.6 394.8L1157.6 399.3M1313.3 394.8L1313.3 399.3M1469 394.8L1469 399.3M1624.7 394.8L1624.7 399.3" stroke="#000" stroke-width="2" fill="none"/>
<text x="1079.8" y="431.7" font-size="26.8" text-anchor="middle">500</text>
<text x="1235.4" y="431.7" font-size="26.8" text-anchor="middle">600</text>
<text x="1391.1" y="431.7" font-size="26.8" text-anchor="middle">700</text>
<text x="1546.8" y="431.7" font-size="26.8" text-anchor="middle">800</text>
<text x="1702.5" y="431.7" font-size="26.8" text-anchor="middle">900</text>
<path d="M963 28.3L954.5 28.3M963 119.9L954.5 119.9M963 211.6L954.5 211.6M963 303.2L954.5 303.2M963 394.8L954.5 394.8M963 74.1L958.5 74.1M963 165.7L958.5 165.7M963 257.4L958.5 257.4M963 349L958.5 349" stroke="#000" stroke-width="2" fill="none"/>
<text x="946.8" y="37.9" font-size="26.8" text-anchor="end">2</text>
<text x="946.8" y="129.5" font-size="26.8" text-anchor="end">0</text>
<text x="946.8" y="221.2" font-size="26.8" text-anchor="end">-2</text>
<text x="946.8" y="312.8" font-size="26.8" text-anchor="end">-4</text>
<text x="946.8" y="404.4" font-size="26.8" text-anchor="end">-6</text>
<text x="1333.4" y="484.6" font-size="37.5" text-anchor="middle">Wavelength (nm)</text>
<text x="911" y="211.5" font-size="36" text-anchor="middle" transform="rotate(-90 911 211.5)">ΔmOD</text>
<path d="M972.6 189.8L1025 189.8" stroke="#ee3131" stroke-width="2.2" fill="none"/>
<path d="M972.6 319.4L1025 319.4" stroke="#6e4747" stroke-width="2.2" fill="none"/>
<text x="1038" y="200" font-size="35.5">1 ps</text>
<text x="1037.5" y="329.4" font-size="35.5">1.2 ns</text>
<path d="M1061.9 206L1061.9 297" stroke="#000" stroke-width="2" fill="none"/>
<path d="M1061.9 305L1053.9 289.5L1061.9 295L1069.9 289.5Z" fill="#000"/>
<text x="884" y="34" font-size="45" font-weight="bold">b</text>
<rect x="1163.8" y="172.7" width="298.1" height="196.7" fill="#fff"/>
<path d="M1163.8 367.8L1165.3 367.8L1166.8 367.8L1168.3 367.8L1169.8 367.9L1171.3 367.9L1172.8 367.9L1174.3 367.9L1175.8 367.9L1177.3 367.9L1178.8 367.9L1180.3 367.9L1181.8 367.9L1183.3 367.9L1184.8 367.9L1186.3 367.9L1187.8 367.9L1189.3 367.9L1190.8 367.9L1192.3 368L1193.8 368L1195.3 368L1196.8 368L1198.3 368L1199.8 368L1201.2 368L1202.7 368L1204.2 368L1205.7 368L1207.2 368L1208.7 368L1210.2 368L1211.7 368L1213.2 368L1214.7 368.1L1216.2 368.1L1217.7 368.1L1219.2 368.1L1220.7 368.1L1222.2 368.1L1223.7 368.1L1225.2 368.1L1226.7 368.1L1228.2 368.1L1229.7 368.1L1231.2 368.1L1232.7 368.1L1234.2 368.1L1235.7 368.1L1237.2 368.1L1238.7 368.2L1240.2 368.2L1241.7 368.2L1243.2 368.2L1244.7 368.2L1246.2 368.2L1247.7 368.2L1249.2 368.2L1250.7 368.2L1252.2 368.2L1253.7 368.2L1255.2 368.2L1256.7 368.2L1258.2 368.2L1259.7 368.2L1261.2 368.3L1262.7 368.3L1264.2 368.3L1265.7 368.3L1267.2 368.3L1268.7 368.3L1270.2 368.3L1271.7 368.3L1273.2 368.3L1274.7 368.3L1276.1 368.3L1277.6 368.3L1279.1 368.3L1280.6 368.3L1282.1 368.3L1283.6 368.4L1285.1 368.4L1286.6 368.4L1288.1 368.4L1289.6 368.4L1291.1 368.4L1292.6 368.4L1294.1 368.4L1295.6 368.4L1297.1 368.4L1298.6 368.4L1300.1 368.4L1301.6 368.4L1303.1 368.4L1304.6 368.4L1306.1 368.5L1307.6 368.5L1309.1 368.5L1310.6 368.5L1312.1 368.5L1313.6 368.5L1315.1 368.5L1316.6 368.5L1318.1 368.5L1319.6 368.5L1321.1 368.5L1322.6 368.5L1324.1 368.5L1325.6 368.5L1327.1 368.5L1328.6 368.6L1330.1 368.6L1331.6 368.6L1333.1 368.6L1334.6 368.6L1336.1 368.6L1337.6 368.6L1339.1 368.6L1340.6 368.6L1342.1 368.6L1343.6 368.6L1345.1 368.6L1346.6 368.6L1348.1 368.6L1349.6 368.6L1351 368.7L1352.5 368.7L1354 368.7L1355.5 368.7L1357 368.7L1358.5 368.7L1360 368.7L1361.5 368.7L1363 368.7L1364.5 368.7L1366 368.7L1367.5 368.7L1369 368.7L1370.5 368.7L1372 368.7L1373.5 368.7L1375 368.8L1376.5 368.8L1378 368.8L1379.5 368.8L1381 368.8L1382.5 368.8L1384 368.8L1385.5 368.8L1387 368.8L1388.5 368.8L1390 368.8L1391.5 368.8L1393 368.8L1394.5 368.8L1396 368.8L1397.5 368.9L1399 368.9L1400.5 368.9L1402 368.9L1403.5 368.9L1405 368.9L1406.5 368.9L1408 368.9L1409.5 368.9L1411 368.9L1412.5 368.9L1414 368.9L1415.5 368.9L1417 368.9L1418.5 368.9L1420 369L1421.5 369L1423 369L1424.5 369L1425.9 369L1427.4 369L1428.9 369L1430.4 369L1431.9 369L1433.4 369L1434.9 369L1436.4 369L1437.9 369L1439.4 369L1440.9 369L1442.4 369.1L1443.9 369.1L1445.4 369.1L1446.9 369.1L1448.4 369.1L1449.9 369.1L1451.4 369.1L1452.9 369.1L1454.4 369.1L1455.9 369.1L1457.4 369.1L1458.9 369.1L1460.4 369.1L1461.9 369.1" stroke="#4a4a4a" stroke-width="2.0" fill="none" stroke-linejoin="round"/>
<path d="M1163.8 342.6L1165.3 342.2L1166.8 341.7L1168.3 341.2L1169.8 340.7L1171.3 340.3L1172.8 339.8L1174.3 339.4L1175.8 339L1177.3 338.5L1178.8 338.1L1180.3 337.7L1181.8 337.3L1183.3 336.9L1184.8 336.5L1186.3 336.1L1187.8 335.7L1189.3 335.3L1190.8 334.9L1192.3 334.6L1193.8 334.2L1195.3 333.8L1196.8 333.4L1198.3 333L1199.8 332.6L1201.2 332.2L1202.7 331.8L1204.2 331.4L1205.7 331L1207.2 330.6L1208.7 330.2L1210.2 329.8L1211.7 329.4L1213.2 329L1214.7 328.6L1216.2 328.2L1217.7 327.7L1219.2 327.3L1220.7 326.9L1222.2 326.5L1223.7 326.1L1225.2 325.7L1226.7 325.2L1228.2 324.8L1229.7 324.4L1231.2 324L1232.7 323.6L1234.2 323.3L1235.7 322.9L1237.2 322.5L1238.7 322.1L1240.2 321.8L1241.7 321.5L1243.2 321.1L1244.7 320.8L1246.2 320.6L1247.7 320.3L1249.2 320L1250.7 319.8L1252.2 319.6L1253.7 319.3L1255.2 319.1L1256.7 319L1258.2 318.8L1259.7 318.6L1261.2 318.5L1262.7 318.3L1264.2 318.2L1265.7 318.1L1267.2 318L1268.7 317.9L1270.2 317.8L1271.7 317.7L1273.2 317.7L1274.7 317.6L1276.1 317.6L1277.6 317.6L1279.1 317.6L1280.6 317.6L1282.1 317.6L1283.6 317.7L1285.1 317.7L1286.6 317.8L1288.1 317.9L1289.6 318.1L1291.1 318.2L1292.6 318.4L1294.1 318.6L1295.6 318.8L1297.1 319L1298.6 319.3L1300.1 319.6L1301.6 319.9L1303.1 320.2L1304.6 320.5L1306.1 320.8L1307.6 321.2L1309.1 321.5L1310.6 321.9L1312.1 322.3L1313.6 322.8L1315.1 323.2L1316.6 323.7L1318.1 324.1L1319.6 324.6L1321.1 325.2L1322.6 325.7L1324.1 326.2L1325.6 326.8L1327.1 327.4L1328.6 328L1330.1 328.7L1331.6 329.3L1333.1 330L1334.6 330.6L1336.1 331.3L1337.6 332L1339.1 332.7L1340.6 333.4L1342.1 334.1L1343.6 334.8L1345.1 335.5L1346.6 336.3L1348.1 337L1349.6 337.7L1351 338.5L1352.5 339.2L1354 339.9L1355.5 340.6L1357 341.4L1358.5 342.1L1360 342.8L1361.5 343.5L1363 344.2L1364.5 344.9L1366 345.6L1367.5 346.3L1369 347L1370.5 347.7L1372 348.3L1373.5 349L1375 349.6L1376.5 350.3L1378 350.9L1379.5 351.5L1381 352.1L1382.5 352.7L1384 353.3L1385.5 353.9L1387 354.5L1388.5 355L1390 355.5L1391.5 356.1L1393 356.6L1394.5 357.1L1396 357.6L1397.5 358L1399 358.5L1400.5 358.9L1402 359.4L1403.5 359.8L1405 360.2L1406.5 360.5L1408 360.9L1409.5 361.2L1411 361.6L1412.5 361.9L1414 362.2L1415.5 362.5L1417 362.8L1418.5 363.1L1420 363.3L1421.5 363.6L1423 363.8L1424.5 364.1L1425.9 364.3L1427.4 364.5L1428.9 364.7L1430.4 364.9L1431.9 365.1L1433.4 365.3L1434.9 365.5L1436.4 365.7L1437.9 365.8L1439.4 366L1440.9 366.1L1442.4 366.3L1443.9 366.4L1445.4 366.5L1446.9 366.7L1448.4 366.8L1449.9 366.9L1451.4 367L1452.9 367.1L1454.4 367.2L1455.9 367.3L1457.4 367.4L1458.9 367.4L1460.4 367.5L1461.9 367.6" stroke="#6e4747" stroke-width="2.2" fill="none" stroke-linejoin="round"/>
<path d="M1163.8 336.3L1165.3 335.5L1166.8 334.8L1168.3 334.1L1169.8 333.3L1171.3 332.6L1172.8 331.8L1174.3 331L1175.8 330.3L1177.3 329.5L1178.8 328.7L1180.3 327.9L1181.8 327.1L1183.3 326.3L1184.8 325.5L1186.3 324.7L1187.8 323.9L1189.3 323.1L1190.8 322.3L1192.3 321.4L1193.8 320.6L1195.3 319.8L1196.8 319L1198.3 318.1L1199.8 317.3L1201.2 316.5L1202.7 315.6L1204.2 314.8L1205.7 313.9L1207.2 313.1L1208.7 312.3L1210.2 311.4L1211.7 310.6L1213.2 309.8L1214.7 308.9L1216.2 308.1L1217.7 307.2L1219.2 306.4L1220.7 305.5L1222.2 304.7L1223.7 303.8L1225.2 302.9L1226.7 302.1L1228.2 301.2L1229.7 300.3L1231.2 299.4L1232.7 298.6L1234.2 297.7L1235.7 296.8L1237.2 295.9L1238.7 295.1L1240.2 294.2L1241.7 293.3L1243.2 292.5L1244.7 291.7L1246.2 290.8L1247.7 290L1249.2 289.3L1250.7 288.5L1252.2 287.8L1253.7 287L1255.2 286.3L1256.7 285.7L1258.2 285L1259.7 284.4L1261.2 283.8L1262.7 283.2L1264.2 282.7L1265.7 282.2L1267.2 281.7L1268.7 281.3L1270.2 280.9L1271.7 280.5L1273.2 280.2L1274.7 279.9L1276.1 279.7L1277.6 279.5L1279.1 279.3L1280.6 279.1L1282.1 279L1283.6 279L1285.1 278.9L1286.6 278.9L1288.1 279L1289.6 279.1L1291.1 279.2L1292.6 279.3L1294.1 279.5L1295.6 279.8L1297.1 280L1298.6 280.3L1300.1 280.7L1301.6 281L1303.1 281.4L1304.6 281.9L1306.1 282.4L1307.6 282.9L1309.1 283.4L1310.6 284L1312.1 284.7L1313.6 285.3L1315.1 286L1316.6 286.8L1318.1 287.6L1319.6 288.4L1321.1 289.3L1322.6 290.3L1324.1 291.3L1325.6 292.3L1327.1 293.4L1328.6 294.5L1330.1 295.6L1331.6 296.8L1333.1 298.1L1334.6 299.3L1336.1 300.6L1337.6 301.9L1339.1 303.2L1340.6 304.6L1342.1 305.9L1343.6 307.3L1345.1 308.7L1346.6 310.1L1348.1 311.4L1349.6 312.8L1351 314.2L1352.5 315.6L1354 317L1355.5 318.4L1357 319.7L1358.5 321.1L1360 322.4L1361.5 323.7L1363 325L1364.5 326.3L1366 327.6L1367.5 328.8L1369 330.1L1370.5 331.3L1372 332.5L1373.5 333.6L1375 334.8L1376.5 335.9L1378 337L1379.5 338L1381 339.1L1382.5 340.1L1384 341.1L1385.5 342L1387 343L1388.5 343.9L1390 344.7L1391.5 345.6L1393 346.4L1394.5 347.2L1396 348L1397.5 348.8L1399 349.5L1400.5 350.2L1402 350.9L1403.5 351.6L1405 352.3L1406.5 352.9L1408 353.5L1409.5 354.1L1411 354.7L1412.5 355.2L1414 355.7L1415.5 356.3L1417 356.8L1418.5 357.3L1420 357.7L1421.5 358.2L1423 358.6L1424.5 359L1425.9 359.5L1427.4 359.8L1428.9 360.2L1430.4 360.6L1431.9 361L1433.4 361.3L1434.9 361.6L1436.4 361.9L1437.9 362.2L1439.4 362.5L1440.9 362.8L1442.4 363.1L1443.9 363.3L1445.4 363.6L1446.9 363.8L1448.4 364.1L1449.9 364.3L1451.4 364.5L1452.9 364.7L1454.4 364.9L1455.9 365.1L1457.4 365.3L1458.9 365.4L1460.4 365.6L1461.9 365.8" stroke="#00c5c9" stroke-width="2.2" fill="none" stroke-linejoin="round"/>
<path d="M1163.8 322.8L1165.3 321.7L1166.8 320.6L1168.3 319.5L1169.8 318.4L1171.3 317.3L1172.8 316.2L1174.3 315L1175.8 313.9L1177.3 312.7L1178.8 311.5L1180.3 310.4L1181.8 309.2L1183.3 308L1184.8 306.9L1186.3 305.7L1187.8 304.6L1189.3 303.5L1190.8 302.4L1192.3 301.3L1193.8 300.1L1195.3 299L1196.8 297.9L1198.3 296.8L1199.8 295.7L1201.2 294.6L1202.7 293.4L1204.2 292.3L1205.7 291.1L1207.2 289.9L1208.7 288.7L1210.2 287.5L1211.7 286.3L1213.2 285.1L1214.7 283.8L1216.2 282.5L1217.7 281.2L1219.2 280L1220.7 278.6L1222.2 277.3L1223.7 276L1225.2 274.7L1226.7 273.4L1228.2 272.1L1229.7 270.7L1231.2 269.4L1232.7 268.1L1234.2 266.8L1235.7 265.5L1237.2 264.2L1238.7 262.9L1240.2 261.6L1241.7 260.3L1243.2 259.1L1244.7 257.8L1246.2 256.6L1247.7 255.3L1249.2 254.1L1250.7 253L1252.2 251.8L1253.7 250.6L1255.2 249.5L1256.7 248.4L1258.2 247.4L1259.7 246.4L1261.2 245.4L1262.7 244.5L1264.2 243.6L1265.7 242.7L1267.2 241.9L1268.7 241.2L1270.2 240.5L1271.7 239.9L1273.2 239.3L1274.7 238.8L1276.1 238.3L1277.6 237.9L1279.1 237.5L1280.6 237.2L1282.1 237L1283.6 236.8L1285.1 236.6L1286.6 236.5L1288.1 236.4L1289.6 236.4L1291.1 236.4L1292.6 236.5L1294.1 236.6L1295.6 236.8L1297.1 237L1298.6 237.3L1300.1 237.6L1301.6 238L1303.1 238.4L1304.6 238.9L1306.1 239.5L1307.6 240L1309.1 240.7L1310.6 241.4L1312.1 242.2L1313.6 243L1315.1 243.9L1316.6 244.8L1318.1 245.8L1319.6 246.9L1321.1 248L1322.6 249.2L1324.1 250.5L1325.6 251.8L1327.1 253.2L1328.6 254.6L1330.1 256.2L1331.6 257.7L1333.1 259.3L1334.6 261L1336.1 262.7L1337.6 264.5L1339.1 266.3L1340.6 268.1L1342.1 270L1343.6 271.9L1345.1 273.8L1346.6 275.7L1348.1 277.6L1349.6 279.6L1351 281.6L1352.5 283.5L1354 285.5L1355.5 287.4L1357 289.4L1358.5 291.4L1360 293.3L1361.5 295.2L1363 297.2L1364.5 299.1L1366 300.9L1367.5 302.8L1369 304.6L1370.5 306.4L1372 308.2L1373.5 310L1375 311.7L1376.5 313.4L1378 315.1L1379.5 316.8L1381 318.4L1382.5 320L1384 321.6L1385.5 323.1L1387 324.6L1388.5 326.1L1390 327.6L1391.5 329L1393 330.4L1394.5 331.8L1396 333.1L1397.5 334.4L1399 335.7L1400.5 336.9L1402 338.1L1403.5 339.3L1405 340.4L1406.5 341.5L1408 342.6L1409.5 343.6L1411 344.6L1412.5 345.5L1414 346.5L1415.5 347.3L1417 348.2L1418.5 349L1420 349.8L1421.5 350.6L1423 351.3L1424.5 352.1L1425.9 352.8L1427.4 353.5L1428.9 354.1L1430.4 354.8L1431.9 355.4L1433.4 356L1434.9 356.6L1436.4 357.2L1437.9 357.7L1439.4 358.3L1440.9 358.8L1442.4 359.3L1443.9 359.8L1445.4 360.2L1446.9 360.7L1448.4 361.1L1449.9 361.5L1451.4 361.9L1452.9 362.3L1454.4 362.6L1455.9 363L1457.4 363.3L1458.9 363.6L1460.4 363.9L1461.9 364.2" stroke="#c89500" stroke-width="2.2" fill="none" stroke-linejoin="round"/>
<path d="M1163.8 326.2L1165.3 325.3L1166.8 324.4L1168.3 323.5L1169.8 322.6L1171.3 321.6L1172.8 320.5L1174.3 319.5L1175.8 318.4L1177.3 317.3L1178.8 316.2L1180.3 315.1L1181.8 313.9L1183.3 312.8L1184.8 311.6L1186.3 310.5L1187.8 309.3L1189.3 308.1L1190.8 307L1192.3 305.8L1193.8 304.7L1195.3 303.5L1196.8 302.4L1198.3 301.2L1199.8 300.1L1201.2 298.9L1202.7 297.7L1204.2 296.5L1205.7 295.3L1207.2 294.1L1208.7 292.9L1210.2 291.7L1211.7 290.5L1213.2 289.2L1214.7 288L1216.2 286.7L1217.7 285.4L1219.2 284.2L1220.7 282.9L1222.2 281.6L1223.7 280.3L1225.2 279L1226.7 277.7L1228.2 276.3L1229.7 275L1231.2 273.7L1232.7 272.4L1234.2 271.1L1235.7 269.8L1237.2 268.5L1238.7 267.2L1240.2 265.9L1241.7 264.6L1243.2 263.3L1244.7 262.1L1246.2 260.9L1247.7 259.7L1249.2 258.5L1250.7 257.3L1252.2 256.1L1253.7 255L1255.2 253.9L1256.7 252.8L1258.2 251.8L1259.7 250.8L1261.2 249.8L1262.7 248.8L1264.2 247.9L1265.7 247L1267.2 246.1L1268.7 245.3L1270.2 244.5L1271.7 243.7L1273.2 243L1274.7 242.3L1276.1 241.6L1277.6 241L1279.1 240.4L1280.6 239.8L1282.1 239.3L1283.6 238.8L1285.1 238.3L1286.6 237.8L1288.1 237.4L1289.6 237L1291.1 236.6L1292.6 236.2L1294.1 235.9L1295.6 235.6L1297.1 235.3L1298.6 235.1L1300.1 234.9L1301.6 234.7L1303.1 234.5L1304.6 234.4L1306.1 234.2L1307.6 234.2L1309.1 234.1L1310.6 234.1L1312.1 234.1L1313.6 234.2L1315.1 234.3L1316.6 234.4L1318.1 234.6L1319.6 234.9L1321.1 235.2L1322.6 235.5L1324.1 236L1325.6 236.4L1327.1 237L1328.6 237.6L1330.1 238.3L1331.6 239L1333.1 239.8L1334.6 240.7L1336.1 241.6L1337.6 242.6L1339.1 243.6L1340.6 244.8L1342.1 245.9L1343.6 247.1L1345.1 248.4L1346.6 249.7L1348.1 251.1L1349.6 252.5L1351 253.9L1352.5 255.4L1354 256.9L1355.5 258.5L1357 260.1L1358.5 261.7L1360 263.4L1361.5 265.1L1363 266.8L1364.5 268.6L1366 270.4L1367.5 272.2L1369 274L1370.5 275.8L1372 277.7L1373.5 279.6L1375 281.4L1376.5 283.3L1378 285.2L1379.5 287.1L1381 288.9L1382.5 290.8L1384 292.6L1385.5 294.5L1387 296.3L1388.5 298.1L1390 300L1391.5 301.7L1393 303.5L1394.5 305.3L1396 307L1397.5 308.8L1399 310.5L1400.5 312.2L1402 313.9L1403.5 315.5L1405 317.2L1406.5 318.8L1408 320.4L1409.5 321.9L1411 323.5L1412.5 325L1414 326.5L1415.5 328L1417 329.5L1418.5 330.9L1420 332.3L1421.5 333.7L1423 335.1L1424.5 336.5L1425.9 337.8L1427.4 339.1L1428.9 340.4L1430.4 341.6L1431.9 342.8L1433.4 344L1434.9 345.2L1436.4 346.4L1437.9 347.5L1439.4 348.6L1440.9 349.6L1442.4 350.6L1443.9 351.6L1445.4 352.6L1446.9 353.5L1448.4 354.4L1449.9 355.3L1451.4 356.1L1452.9 356.9L1454.4 357.7L1455.9 358.4L1457.4 359.1L1458.9 359.7L1460.4 360.3L1461.9 360.9" stroke="#ee3131" stroke-width="2.2" fill="none" stroke-linejoin="round"/>
<path d="M1163.8 314.8L1165.3 313.8L1166.8 312.7L1168.3 311.7L1169.8 310.7L1171.3 309.6L1172.8 308.6L1174.3 307.5L1175.8 306.4L1177.3 305.3L1178.8 304.2L1180.3 303.1L1181.8 302L1183.3 300.9L1184.8 299.8L1186.3 298.6L1187.8 297.5L1189.3 296.3L1190.8 295.2L1192.3 294L1193.8 292.8L1195.3 291.6L1196.8 290.4L1198.3 289.2L1199.8 288L1201.2 286.7L1202.7 285.5L1204.2 284.2L1205.7 282.9L1207.2 281.6L1208.7 280.3L1210.2 278.9L1211.7 277.6L1213.2 276.2L1214.7 274.8L1216.2 273.4L1217.7 272L1219.2 270.6L1220.7 269.2L1222.2 267.8L1223.7 266.3L1225.2 264.9L1226.7 263.4L1228.2 261.9L1229.7 260.5L1231.2 259L1232.7 257.5L1234.2 256L1235.7 254.5L1237.2 252.9L1238.7 251.4L1240.2 249.9L1241.7 248.3L1243.2 246.7L1244.7 245.1L1246.2 243.5L1247.7 241.9L1249.2 240.3L1250.7 238.6L1252.2 237L1253.7 235.3L1255.2 233.7L1256.7 232L1258.2 230.4L1259.7 228.7L1261.2 227.1L1262.7 225.5L1264.2 224L1265.7 222.4L1267.2 221L1268.7 219.5L1270.2 218.2L1271.7 216.8L1273.2 215.6L1274.7 214.4L1276.1 213.3L1277.6 212.2L1279.1 211.3L1280.6 210.4L1282.1 209.6L1283.6 208.8L1285.1 208.2L1286.6 207.6L1288.1 207.1L1289.6 206.7L1291.1 206.4L1292.6 206.1L1294.1 205.9L1295.6 205.8L1297.1 205.7L1298.6 205.8L1300.1 205.9L1301.6 206L1303.1 206.3L1304.6 206.6L1306.1 207L1307.6 207.4L1309.1 208L1310.6 208.6L1312.1 209.3L1313.6 210.1L1315.1 210.9L1316.6 211.9L1318.1 212.9L1319.6 214L1321.1 215.1L1322.6 216.4L1324.1 217.7L1325.6 219.1L1327.1 220.6L1328.6 222.2L1330.1 223.8L1331.6 225.6L1333.1 227.4L1334.6 229.2L1336.1 231.2L1337.6 233.2L1339.1 235.3L1340.6 237.4L1342.1 239.6L1343.6 241.9L1345.1 244.2L1346.6 246.5L1348.1 248.9L1349.6 251.4L1351 253.8L1352.5 256.3L1354 258.8L1355.5 261.3L1357 263.8L1358.5 266.3L1360 268.8L1361.5 271.3L1363 273.7L1364.5 276.2L1366 278.6L1367.5 280.9L1369 283.3L1370.5 285.6L1372 287.9L1373.5 290.1L1375 292.3L1376.5 294.4L1378 296.6L1379.5 298.6L1381 300.7L1382.5 302.7L1384 304.6L1385.5 306.6L1387 308.5L1388.5 310.3L1390 312.1L1391.5 313.9L1393 315.6L1394.5 317.3L1396 318.9L1397.5 320.5L1399 322.1L1400.5 323.6L1402 325.1L1403.5 326.6L1405 328L1406.5 329.4L1408 330.8L1409.5 332.1L1411 333.4L1412.5 334.7L1414 335.9L1415.5 337.1L1417 338.3L1418.5 339.5L1420 340.6L1421.5 341.7L1423 342.8L1424.5 343.8L1425.9 344.8L1427.4 345.8L1428.9 346.8L1430.4 347.7L1431.9 348.6L1433.4 349.5L1434.9 350.3L1436.4 351.2L1437.9 352L1439.4 352.8L1440.9 353.6L1442.4 354.4L1443.9 355.1L1445.4 355.9L1446.9 356.6L1448.4 357.3L1449.9 358L1451.4 358.6L1452.9 359.3L1454.4 359.9L1455.9 360.5L1457.4 361L1458.9 361.6L1460.4 362.1L1461.9 362.5" stroke="#a76ee0" stroke-width="2.2" fill="none" stroke-linejoin="round"/>
<path d="M1163.8 320.3L1165.3 319.3L1166.8 318.3L1168.3 317.3L1169.8 316.3L1171.3 315.2L1172.8 314.1L1174.3 313L1175.8 311.9L1177.3 310.8L1178.8 309.7L1180.3 308.6L1181.8 307.5L1183.3 306.3L1184.8 305.2L1186.3 304.1L1187.8 303L1189.3 301.8L1190.8 300.7L1192.3 299.6L1193.8 298.5L1195.3 297.3L1196.8 296.2L1198.3 295.1L1199.8 293.9L1201.2 292.8L1202.7 291.6L1204.2 290.4L1205.7 289.2L1207.2 288L1208.7 286.8L1210.2 285.5L1211.7 284.3L1213.2 283L1214.7 281.7L1216.2 280.3L1217.7 279L1219.2 277.6L1220.7 276.3L1222.2 274.9L1223.7 273.5L1225.2 272.1L1226.7 270.6L1228.2 269.2L1229.7 267.7L1231.2 266.2L1232.7 264.7L1234.2 263.2L1235.7 261.7L1237.2 260.2L1238.7 258.6L1240.2 257.1L1241.7 255.5L1243.2 253.9L1244.7 252.3L1246.2 250.7L1247.7 249.1L1249.2 247.5L1250.7 245.8L1252.2 244.2L1253.7 242.5L1255.2 240.8L1256.7 239.2L1258.2 237.5L1259.7 235.9L1261.2 234.3L1262.7 232.7L1264.2 231.1L1265.7 229.5L1267.2 228L1268.7 226.5L1270.2 225L1271.7 223.6L1273.2 222.3L1274.7 221L1276.1 219.8L1277.6 218.6L1279.1 217.6L1280.6 216.6L1282.1 215.6L1283.6 214.8L1285.1 214L1286.6 213.3L1288.1 212.6L1289.6 212.1L1291.1 211.6L1292.6 211.1L1294.1 210.7L1295.6 210.4L1297.1 210.1L1298.6 209.9L1300.1 209.7L1301.6 209.6L1303.1 209.5L1304.6 209.5L1306.1 209.5L1307.6 209.6L1309.1 209.7L1310.6 209.9L1312.1 210.2L1313.6 210.6L1315.1 211L1316.6 211.5L1318.1 212.1L1319.6 212.8L1321.1 213.5L1322.6 214.4L1324.1 215.3L1325.6 216.4L1327.1 217.5L1328.6 218.7L1330.1 220L1331.6 221.4L1333.1 222.8L1334.6 224.3L1336.1 225.9L1337.6 227.5L1339.1 229.2L1340.6 230.9L1342.1 232.7L1343.6 234.5L1345.1 236.4L1346.6 238.3L1348.1 240.3L1349.6 242.2L1351 244.3L1352.5 246.3L1354 248.4L1355.5 250.5L1357 252.6L1358.5 254.7L1360 256.9L1361.5 259L1363 261.2L1364.5 263.4L1366 265.6L1367.5 267.8L1369 270L1370.5 272.2L1372 274.3L1373.5 276.5L1375 278.7L1376.5 280.8L1378 283L1379.5 285.1L1381 287.2L1382.5 289.3L1384 291.3L1385.5 293.4L1387 295.4L1388.5 297.4L1390 299.4L1391.5 301.4L1393 303.3L1394.5 305.2L1396 307.1L1397.5 308.9L1399 310.8L1400.5 312.6L1402 314.3L1403.5 316L1405 317.7L1406.5 319.4L1408 321.1L1409.5 322.7L1411 324.3L1412.5 325.8L1414 327.4L1415.5 328.9L1417 330.4L1418.5 331.9L1420 333.3L1421.5 334.8L1423 336.2L1424.5 337.5L1425.9 338.9L1427.4 340.2L1428.9 341.5L1430.4 342.8L1431.9 344L1433.4 345.2L1434.9 346.4L1436.4 347.5L1437.9 348.6L1439.4 349.7L1440.9 350.7L1442.4 351.7L1443.9 352.7L1445.4 353.6L1446.9 354.5L1448.4 355.4L1449.9 356.3L1451.4 357.1L1452.9 357.8L1454.4 358.6L1455.9 359.3L1457.4 359.9L1458.9 360.5L1460.4 361.1L1461.9 361.7" stroke="#1b5fd5" stroke-width="2.2" fill="none" stroke-linejoin="round"/>
<path d="M1163.8 312.4L1165.3 311.4L1166.8 310.4L1168.3 309.3L1169.8 308.3L1171.3 307.2L1172.8 306.2L1174.3 305.1L1175.8 304L1177.3 302.9L1178.8 301.8L1180.3 300.6L1181.8 299.5L1183.3 298.4L1184.8 297.2L1186.3 296.1L1187.8 294.9L1189.3 293.7L1190.8 292.5L1192.3 291.3L1193.8 290.1L1195.3 288.9L1196.8 287.6L1198.3 286.4L1199.8 285.1L1201.2 283.9L1202.7 282.6L1204.2 281.3L1205.7 279.9L1207.2 278.6L1208.7 277.2L1210.2 275.9L1211.7 274.5L1213.2 273.1L1214.7 271.7L1216.2 270.3L1217.7 268.8L1219.2 267.4L1220.7 265.9L1222.2 264.4L1223.7 263L1225.2 261.5L1226.7 260L1228.2 258.5L1229.7 257L1231.2 255.5L1232.7 253.9L1234.2 252.4L1235.7 250.9L1237.2 249.3L1238.7 247.7L1240.2 246.2L1241.7 244.6L1243.2 242.9L1244.7 241.3L1246.2 239.7L1247.7 238L1249.2 236.3L1250.7 234.6L1252.2 232.9L1253.7 231.2L1255.2 229.5L1256.7 227.8L1258.2 226L1259.7 224.3L1261.2 222.6L1262.7 220.9L1264.2 219.2L1265.7 217.5L1267.2 215.9L1268.7 214.3L1270.2 212.7L1271.7 211.1L1273.2 209.6L1274.7 208.1L1276.1 206.7L1277.6 205.2L1279.1 203.9L1280.6 202.5L1282.1 201.3L1283.6 200.1L1285.1 198.9L1286.6 197.8L1288.1 196.7L1289.6 195.8L1291.1 194.9L1292.6 194.1L1294.1 193.4L1295.6 192.7L1297.1 192.2L1298.6 191.8L1300.1 191.4L1301.6 191.2L1303.1 191.1L1304.6 191.1L1306.1 191.1L1307.6 191.3L1309.1 191.6L1310.6 191.9L1312.1 192.4L1313.6 192.9L1315.1 193.6L1316.6 194.3L1318.1 195.1L1319.6 196.1L1321.1 197.1L1322.6 198.1L1324.1 199.3L1325.6 200.6L1327.1 201.9L1328.6 203.4L1330.1 204.9L1331.6 206.5L1333.1 208.2L1334.6 210L1336.1 211.9L1337.6 213.9L1339.1 215.9L1340.6 218L1342.1 220.2L1343.6 222.4L1345.1 224.7L1346.6 227.1L1348.1 229.5L1349.6 232L1351 234.6L1352.5 237.2L1354 239.8L1355.5 242.4L1357 245.1L1358.5 247.9L1360 250.6L1361.5 253.4L1363 256.2L1364.5 258.9L1366 261.7L1367.5 264.5L1369 267.2L1370.5 270L1372 272.7L1373.5 275.3L1375 277.9L1376.5 280.5L1378 283.1L1379.5 285.6L1381 288L1382.5 290.4L1384 292.8L1385.5 295L1387 297.3L1388.5 299.5L1390 301.6L1391.5 303.7L1393 305.7L1394.5 307.7L1396 309.7L1397.5 311.6L1399 313.5L1400.5 315.3L1402 317.1L1403.5 318.8L1405 320.5L1406.5 322.2L1408 323.8L1409.5 325.5L1411 327L1412.5 328.6L1414 330.1L1415.5 331.6L1417 333.1L1418.5 334.5L1420 335.9L1421.5 337.3L1423 338.6L1424.5 339.9L1425.9 341.2L1427.4 342.5L1428.9 343.7L1430.4 344.9L1431.9 346L1433.4 347.1L1434.9 348.2L1436.4 349.3L1437.9 350.3L1439.4 351.3L1440.9 352.2L1442.4 353.1L1443.9 354L1445.4 354.8L1446.9 355.6L1448.4 356.4L1449.9 357.1L1451.4 357.7L1452.9 358.4L1454.4 359L1455.9 359.5L1457.4 360.1L1458.9 360.6L1460.4 361L1461.9 361.5" stroke="#27a35b" stroke-width="2.2" fill="none" stroke-linejoin="round"/>
<rect x="1163.8" y="172.7" width="298.1" height="196.7" fill="none" stroke="#000" stroke-width="2"/>
<path d="M1206.4 369.4L1206.4 375.4M1291.6 369.4L1291.6 375.4M1376.7 369.4L1376.7 375.4M1461.9 369.4L1461.9 375.4M1163.8 369.4L1163.8 372.9M1249 369.4L1249 372.9M1334.1 369.4L1334.1 372.9M1419.3 369.4L1419.3 372.9" stroke="#000" stroke-width="2" fill="none"/>
<text x="1206.4" y="393" font-size="20.5" text-anchor="middle">560</text>
<text x="1291.6" y="393" font-size="20.5" text-anchor="middle">580</text>
<text x="1376.7" y="393" font-size="20.5" text-anchor="middle">600</text>
<text x="1461.9" y="393" font-size="20.5" text-anchor="middle">620</text>
<text x="1156" y="245.6" font-size="20.5" text-anchor="end">1</text>
<text x="1156" y="376.7" font-size="20.5" text-anchor="end">0</text>
<path d="M1163.8 238.3L1157.8 238.3M1163.8 369.4L1157.8 369.4M1163.8 303.8L1160.3 303.8" stroke="#000" stroke-width="2" fill="none"/>
<path d="M1314.2 223.6L1302 188.5L1279.5 364" stroke="#000" stroke-width="2" fill="none" stroke-dasharray="11 6"/>
<path d="M1277.8 373L1273.5 357L1278.6 360.5L1283.2 358Z" fill="#000"/>
<text x="1137.3" y="272" font-size="20.5" text-anchor="middle" transform="rotate(-90 1137.3 272)">ΔmOD</text>
<path d="M154.2 537.7h10.6v10.6h-10.6ZM162.1 549.9h10.6v10.6h-10.6ZM186.7 542.5h10.6v10.6h-10.6ZM202.5 543.8h10.6v10.6h-10.6ZM220.8 550.5h10.6v10.6h-10.6ZM239.3 547.2h10.6v10.6h-10.6ZM253.3 550.9h10.6v10.6h-10.6ZM275.3 548h10.6v10.6h-10.6ZM291.9 556.9h10.6v10.6h-10.6ZM319.2 556.6h10.6v10.6h-10.6ZM330.4 553.5h10.6v10.6h-10.6ZM347.1 554.3h10.6v10.6h-10.6ZM365.3 565.5h10.6v10.6h-10.6ZM382.4 563.5h10.6v10.6h-10.6ZM399.6 562.8h10.6v10.6h-10.6ZM419.1 572.8h10.6v10.6h-10.6ZM439 562.5h10.6v10.6h-10.6ZM455.5 585.1h10.6v10.6h-10.6ZM476.1 573.7h10.6v10.6h-10.6ZM491.6 594.4h10.6v10.6h-10.6ZM509.6 584.7h10.6v10.6h-10.6ZM513.5 595.8h10.6v10.6h-10.6ZM529.3 598.2h10.6v10.6h-10.6ZM543.6 620.3h10.6v10.6h-10.6ZM545.7 598.6h10.6v10.6h-10.6ZM565.3 614.2h10.6v10.6h-10.6ZM577.3 620.4h10.6v10.6h-10.6ZM581.5 620.1h10.6v10.6h-10.6ZM596.2 633.8h10.6v10.6h-10.6ZM602.4 644.1h10.6v10.6h-10.6ZM615.3 653.3h10.6v10.6h-10.6ZM617.5 654.8h10.6v10.6h-10.6ZM637.2 654.3h10.6v10.6h-10.6ZM637.5 673.5h10.6v10.6h-10.6ZM651.4 679.2h10.6v10.6h-10.6ZM655.7 681.3h10.6v10.6h-10.6ZM659.4 681.3h10.6v10.6h-10.6ZM674.5 695.1h10.6v10.6h-10.6ZM676.7 709.8h10.6v10.6h-10.6ZM686.5 724.6h10.6v10.6h-10.6ZM691.5 719h10.6v10.6h-10.6ZM703.6 725.5h10.6v10.6h-10.6ZM707.2 732.9h10.6v10.6h-10.6ZM710.1 740h10.6v10.6h-10.6ZM722.2 758.6h10.6v10.6h-10.6ZM726.1 752.9h10.6v10.6h-10.6ZM734.4 774.2h10.6v10.6h-10.6ZM741.5 777.3h10.6v10.6h-10.6ZM744.7 792.9h10.6v10.6h-10.6ZM750.4 795.7h10.6v10.6h-10.6ZM755.2 805.4h10.6v10.6h-10.6ZM760.2 803.3h10.6v10.6h-10.6ZM764.3 812.8h10.6v10.6h-10.6ZM771.2 817.4h10.6v10.6h-10.6ZM776.1 834.1h10.6v10.6h-10.6ZM778.6 839.2h10.6v10.6h-10.6Z" fill="none" stroke="#0a960a" stroke-width="2"/>
<path d="M119.4 820.8L126.6 833H112.2ZM135.6 821.5L142.8 833.7H128.4ZM154.2 815.6L161.4 827.8H147ZM173 818.1L180.2 830.3H165.8ZM190.8 821.6L198 833.8H183.6ZM208 815.7L215.2 827.9H200.8ZM223.3 814.4L230.5 826.6H216.1ZM243.8 812.2L251 824.4H236.6ZM256.9 815.8L264.1 828H249.7ZM274.5 808.1L281.7 820.3H267.3ZM293.8 805.7L301 817.9H286.6ZM308.1 810.4L315.3 822.6H300.9ZM331.4 794.4L338.6 806.6H324.2ZM346.1 802.3L353.3 814.5H338.9ZM365.9 801.3L373.1 813.5H358.7ZM378.3 791.9L385.5 804.1H371.1ZM394.8 794.6L402 806.8H387.6ZM413.3 802.5L420.5 814.7H406.1ZM431.8 785.4L439 797.6H424.6ZM446.2 787L453.4 799.2H439ZM465.6 747.7L472.8 759.9H458.4ZM482 780.4L489.2 792.6H474.8ZM502.8 771.9L510 784.1H495.6ZM515.1 764.2L522.3 776.4H507.9ZM521.7 755.8L528.9 768H514.5ZM532.4 740.3L539.6 752.5H525.2ZM548.9 761.6L556.1 773.8H541.7ZM553.7 746.7L560.9 758.9H546.5ZM565.7 746.9L572.9 759.1H558.5ZM584.4 720.9L591.6 733.1H577.2ZM587.9 748.7L595.1 760.9H580.7ZM603.2 710.2L610.4 722.4H596ZM609.5 712.9L616.7 725.1H602.3ZM623.8 711.1L631 723.3H616.6ZM629.4 715.5L636.6 727.7H622.2ZM637.8 705.7L645 717.9H630.6ZM646.4 684.9L653.6 697.1H639.2ZM651.1 676.6L658.3 688.8H643.9ZM664.9 656L672.1 668.2H657.7ZM668 660.6L675.2 672.8H660.8ZM679.2 656.8L686.4 669H672ZM689.2 655.7L696.4 667.9H682ZM693.5 644.2L700.7 656.4H686.3ZM703 638.8L710.2 651H695.8ZM704.6 644.4L711.8 656.6H697.4ZM715.2 627.2L722.4 639.4H708ZM722.5 615.4L729.7 627.6H715.3ZM724.5 624.3L731.7 636.5H717.3ZM734.7 609.8L741.9 622H727.5ZM740.7 605.3L747.9 617.5H733.5ZM743.4 591.1L750.6 603.3H736.2ZM750.6 605.4L757.8 617.6H743.4ZM757.9 596.8L765.1 609H750.7ZM755.8 599.4L763 611.6H748.6ZM767.9 572.5L775.1 584.7H760.7ZM772.9 596.9L780.1 609.1H765.7ZM778.1 556.3L785.3 568.5H770.9ZM785.4 538L792.6 550.2H778.2ZM784.9 570.4L792.1 582.6H777.7ZM792.8 536.1L800 548.3H785.6Z" fill="none" stroke="#5a6efa" stroke-width="2" stroke-linejoin="miter"/>
<path d="M155 548.1L160.3 548.3L165.6 548.5L170.9 548.7L176.2 548.9L181.5 549.1L186.8 549.4L192.1 549.6L197.4 549.9L202.7 550.1L208 550.4L213.3 550.7L218.6 551L223.9 551.3L229.2 551.7L234.5 552L239.8 552.3L245.1 552.7L250.4 553L255.7 553.4L261 553.8L266.3 554.2L271.6 554.6L276.9 555L282.2 555.5L287.5 555.9L292.8 556.4L298.1 556.9L303.4 557.4L308.7 557.9L314 558.4L319.3 558.9L324.6 559.5L329.9 560.1L335.2 560.7L340.5 561.3L345.8 561.9L351.1 562.5L356.4 563.2L361.7 563.9L367 564.5L372.3 565.3L377.6 566L382.9 566.7L388.2 567.5L393.5 568.3L398.8 569.2L404.1 570.1L409.4 571.1L414.7 572.1L420 573.1L425.3 574.2L430.6 575.3L435.9 576.5L441.2 577.7L446.5 578.9L451.8 580.2L457.1 581.5L462.4 582.9L467.7 584.3L473 585.7L478.3 587.2L483.6 588.6L488.9 590.2L494.2 591.8L499.4 593.5L504.7 595.4L510 597.4L515.3 599.5L520.6 601.7L525.9 604L531.2 606.3L536.5 608.6L541.8 611L547.1 613.3L552.4 615.8L557.7 618.2L563 620.8L568.3 623.4L573.6 626L578.9 628.8L584.2 631.6L589.5 634.5L594.8 637.5L600.1 640.6L605.4 643.8L610.7 647L616 650.3L621.3 653.7L626.6 657.3L631.9 661L637.2 664.8L642.5 668.8L647.8 673L653.1 677.4L658.4 682.1L663.7 687.1L669 692.5L674.3 698.2L679.6 704.1L684.9 710.2L690.2 716.4L695.5 722.7L700.8 729.1L706.1 735.5L711.4 741.9L716.7 748.3L722 754.8L727.3 761.5L732.6 768.3L737.9 775.4L743.2 782.9L748.5 790.6L753.8 798.8L759.1 807.6L764.4 816.9L769.7 826.6L775 836.8L780.3 847.3L785.6 858.1" stroke="#138c68" stroke-width="2.2" fill="none" stroke-linejoin="round"/>
<path d="M112.5 825.2L118.2 825.1L123.9 825L129.7 824.9L135.4 824.7L141.1 824.6L146.8 824.4L152.5 824.2L158.2 823.9L164 823.7L169.7 823.5L175.4 823.2L181.1 822.9L186.8 822.6L192.5 822.3L198.3 822L204 821.7L209.7 821.4L215.4 821L221.1 820.7L226.8 820.4L232.6 820L238.3 819.7L244 819.3L249.7 818.9L255.4 818.5L261.1 818L266.9 817.5L272.6 817L278.3 816.5L284 815.9L289.7 815.3L295.4 814.7L301.2 814.1L306.9 813.5L312.6 812.8L318.3 812.1L324 811.5L329.7 810.8L335.5 810.1L341.2 809.4L346.9 808.6L352.6 807.9L358.3 807.2L364 806.4L369.8 805.6L375.5 804.9L381.2 804L386.9 803.2L392.6 802.4L398.3 801.5L404.1 800.6L409.8 799.7L415.5 798.7L421.2 797.7L426.9 796.7L432.6 795.7L438.4 794.6L444.1 793.5L449.8 792.4L455.5 791.2L461.2 790L467 788.8L472.7 787.5L478.4 786.2L484.1 784.8L489.8 783.4L495.5 782L501.3 780.4L507 778.7L512.7 776.9L518.4 775L524.1 772.9L529.8 770.8L535.6 768.6L541.3 766.3L547 763.8L552.7 761.3L558.4 758.7L564.1 756L569.9 753.1L575.6 750.2L581.3 747.2L587 744.1L592.7 740.9L598.4 737.6L604.2 734L609.9 729.8L615.6 725.2L621.3 720.3L627 715.1L632.7 709.8L638.5 704.5L644.2 699.3L649.9 694.2L655.6 689.4L661.3 684.8L667 680.2L672.8 675.7L678.5 671.2L684.2 666.7L689.9 662.1L695.6 657.5L701.3 652.9L707.1 648.1L712.8 643.2L718.5 638.4L724.2 633.6L729.9 628.7L735.6 623.8L741.4 618.7L747.1 613.4L752.8 607.8L758.5 601.9L764.2 595.7L769.9 588.9L775.7 581.6L781.4 573.9L787.1 565.9L792.8 557.8" stroke="#5a6efa" stroke-width="2.2" fill="none" stroke-linejoin="round"/>
<rect x="105.3" y="506.3" width="740.2" height="367.3" fill="none" stroke="#000" stroke-width="2.2"/>
<path d="M343.1 873.6L343.1 882.1M683.2 873.6L683.2 882.1M105.3 873.6L105.3 878.1M165.2 873.6L165.2 878.1M207.7 873.6L207.7 878.1M240.7 873.6L240.7 878.1M267.6 873.6L267.6 878.1M290.4 873.6L290.4 878.1M310.1 873.6L310.1 878.1M327.5 873.6L327.5 878.1M445.5 873.6L445.5 878.1M505.3 873.6L505.3 878.1M547.8 873.6L547.8 878.1M580.8 873.6L580.8 878.1M607.7 873.6L607.7 878.1M630.5 873.6L630.5 878.1M650.2 873.6L650.2 878.1M667.6 873.6L667.6 878.1M785.6 873.6L785.6 878.1M845.5 873.6L845.5 878.1" stroke="#000" stroke-width="2" fill="none"/>
<text x="343.1" y="919.5" font-size="26.8" text-anchor="middle">100</text>
<text x="683.2" y="919.5" font-size="26.8" text-anchor="middle">1000</text>
<path d="M105.3 873.6L96.8 873.6M105.3 806.8L96.8 806.8M105.3 740L96.8 740M105.3 673.3L96.8 673.3M105.3 606.5L96.8 606.5M105.3 539.7L96.8 539.7M105.3 840.2L100.8 840.2M105.3 773.4L100.8 773.4M105.3 706.6L100.8 706.6M105.3 639.9L100.8 639.9M105.3 573.1L100.8 573.1" stroke="#000" stroke-width="2" fill="none"/>
<text x="89.8" y="883.2" font-size="26.8" text-anchor="end">0.0</text>
<text x="89.8" y="816.4" font-size="26.8" text-anchor="end">0.2</text>
<text x="89.8" y="749.6" font-size="26.8" text-anchor="end">0.4</text>
<text x="89.8" y="682.9" font-size="26.8" text-anchor="end">0.6</text>
<text x="89.8" y="616.1" font-size="26.8" text-anchor="end">0.8</text>
<text x="89.8" y="549.3" font-size="26.8" text-anchor="end">1.0</text>
<text x="476.6" y="962.4" font-size="37.5" text-anchor="middle">Time (ps)</text>
<text x="475.8" y="1008" font-size="36.4" text-anchor="middle">Wavelength (nm)</text>
<text x="39.9" y="687.4" font-size="35.5" text-anchor="middle" transform="rotate(-90 39.9 687.4)">Normalized ΔOD</text>
<path d="M618.9 532.9h10.8v10.8h-10.8Z" fill="none" stroke="#0a960a" stroke-width="2"/>
<path d="M624.3 582.2L632.1 595.5H616.5Z" fill="none" stroke="#5a6efa" stroke-width="2"/>
<text x="659" y="545.8" font-size="35.5">S<tspan font-size="21" dy="8.3">1</tspan></text>
<text x="663" y="597.5" font-size="35.5">T<tspan font-size="21" dy="8.3">1</tspan></text>
<text x="133" y="659.8" font-size="36"><tspan font-family="Liberation Serif" font-style="italic" font-size="36">τ</tspan><tspan x="148.5" font-size="24.5" dy="9.2">S</tspan><tspan font-size="16">1</tspan><tspan font-size="24.5">, decay</tspan><tspan x="265.8" dy="-9.2">= 0.96 ns</tspan></text>
<text x="133" y="703.6" font-size="36"><tspan font-family="Liberation Serif" font-style="italic" font-size="36">τ</tspan><tspan x="148.5" font-size="24.5" dy="9.2">T</tspan><tspan font-size="16">1</tspan><tspan font-size="24.5">, rise</tspan><tspan x="237" dy="-9.2">= 2.18 ns</tspan></text>
<path d="M976.3 538h10.6v10.6h-10.6ZM986 539h10.6v10.6h-10.6ZM995.7 534.4h10.6v10.6h-10.6ZM1005.4 537.8h10.6v10.6h-10.6ZM1015 539.5h10.6v10.6h-10.6ZM1024.7 538.4h10.6v10.6h-10.6ZM1034.2 540.1h10.6v10.6h-10.6ZM1043.8 532.6h10.6v10.6h-10.6ZM1053.3 540.8h10.6v10.6h-10.6ZM1062.8 539.3h10.6v10.6h-10.6ZM1072.3 544.2h10.6v10.6h-10.6ZM1081.7 538.9h10.6v10.6h-10.6ZM1091.1 547.3h10.6v10.6h-10.6ZM1100.5 551.3h10.6v10.6h-10.6ZM1109.8 543.7h10.6v10.6h-10.6ZM1119.1 545.1h10.6v10.6h-10.6ZM1128.4 546.4h10.6v10.6h-10.6ZM1137.6 537.9h10.6v10.6h-10.6ZM1146.9 553.3h10.6v10.6h-10.6ZM1156 552.4h10.6v10.6h-10.6ZM1165.2 551.7h10.6v10.6h-10.6ZM1174.3 548.5h10.6v10.6h-10.6ZM1183.4 554.4h10.6v10.6h-10.6ZM1192.5 552.5h10.6v10.6h-10.6ZM1201.6 550.6h10.6v10.6h-10.6ZM1210.6 553.3h10.6v10.6h-10.6ZM1219.5 565.2h10.6v10.6h-10.6ZM1228.5 558.7h10.6v10.6h-10.6ZM1237.4 558.4h10.6v10.6h-10.6ZM1246.3 563.2h10.6v10.6h-10.6ZM1255.2 564.1h10.6v10.6h-10.6ZM1264 563.1h10.6v10.6h-10.6ZM1272.8 565.4h10.6v10.6h-10.6ZM1281.6 566.4h10.6v10.6h-10.6ZM1290.3 563.7h10.6v10.6h-10.6ZM1299 569.2h10.6v10.6h-10.6ZM1307.7 569h10.6v10.6h-10.6ZM1316.4 568.7h10.6v10.6h-10.6ZM1325 573.5h10.6v10.6h-10.6ZM1333.6 574.3h10.6v10.6h-10.6ZM1342.2 575.7h10.6v10.6h-10.6ZM1350.7 577.9h10.6v10.6h-10.6ZM1359.2 583h10.6v10.6h-10.6ZM1367.7 582.7h10.6v10.6h-10.6ZM1376.1 582.6h10.6v10.6h-10.6ZM1384.5 591.7h10.6v10.6h-10.6ZM1392.9 589.6h10.6v10.6h-10.6ZM1401.3 594.3h10.6v10.6h-10.6ZM1409.6 599.2h10.6v10.6h-10.6ZM1417.9 597h10.6v10.6h-10.6ZM1426.1 603.3h10.6v10.6h-10.6ZM1434.4 611.6h10.6v10.6h-10.6ZM1442.6 613.4h10.6v10.6h-10.6ZM1450.7 617.1h10.6v10.6h-10.6ZM1458.9 623.7h10.6v10.6h-10.6ZM1467 626.9h10.6v10.6h-10.6ZM1475.1 633.5h10.6v10.6h-10.6ZM1483.1 637.1h10.6v10.6h-10.6ZM1491.2 640.7h10.6v10.6h-10.6ZM1499.2 650.7h10.6v10.6h-10.6ZM1507.1 654.3h10.6v10.6h-10.6ZM1515.1 661.3h10.6v10.6h-10.6ZM1523 665.6h10.6v10.6h-10.6ZM1530.8 674h10.6v10.6h-10.6ZM1538.7 678.1h10.6v10.6h-10.6ZM1546.5 682.7h10.6v10.6h-10.6ZM1554.3 685.7h10.6v10.6h-10.6ZM1562 690.7h10.6v10.6h-10.6ZM1569.8 701.6h10.6v10.6h-10.6ZM1577.5 706.4h10.6v10.6h-10.6ZM1585.1 709.6h10.6v10.6h-10.6ZM1592.8 721.7h10.6v10.6h-10.6ZM1600.4 725.3h10.6v10.6h-10.6ZM1608 731.6h10.6v10.6h-10.6ZM1615.5 736.1h10.6v10.6h-10.6ZM1623 745h10.6v10.6h-10.6ZM1630.5 755.2h10.6v10.6h-10.6ZM1638 763.6h10.6v10.6h-10.6ZM1645.4 772.5h10.6v10.6h-10.6ZM1652.8 778.7h10.6v10.6h-10.6ZM1660.1 793.2h10.6v10.6h-10.6ZM1667.5 803.2h10.6v10.6h-10.6ZM1674.8 811.6h10.6v10.6h-10.6ZM1682.1 822.2h10.6v10.6h-10.6ZM1689.3 831.9h10.6v10.6h-10.6ZM1696.5 843.3h10.6v10.6h-10.6Z" fill="none" stroke="#0a960a" stroke-width="2"/>
<path d="M977.9 829.5L985.1 841.7H970.7ZM986.1 828L993.3 840.2H978.9ZM994.2 829L1001.4 841.2H987ZM1002.4 828.4L1009.6 840.6H995.2ZM1010.5 822.8L1017.7 835H1003.3ZM1018.6 825.3L1025.8 837.5H1011.4ZM1026.6 822.9L1033.8 835.1H1019.4ZM1034.7 822.5L1041.9 834.7H1027.5ZM1042.7 822.2L1049.9 834.4H1035.5ZM1050.7 821.2L1057.9 833.4H1043.5ZM1058.7 818L1065.9 830.2H1051.5ZM1066.6 818.6L1073.8 830.8H1059.4ZM1074.5 817.2L1081.7 829.4H1067.3ZM1082.4 815.6L1089.6 827.8H1075.2ZM1090.3 812.3L1097.5 824.5H1083.1ZM1098.2 812L1105.4 824.2H1091ZM1106 811.3L1113.2 823.5H1098.8ZM1113.8 811.7L1121 823.9H1106.6ZM1121.6 811.8L1128.8 824H1114.4ZM1129.4 806.2L1136.6 818.4H1122.2ZM1137.2 804.7L1144.4 816.9H1130ZM1144.9 805.3L1152.1 817.5H1137.7ZM1152.6 802.5L1159.8 814.7H1145.4ZM1160.3 800.4L1167.5 812.6H1153.1ZM1167.9 798.7L1175.1 810.9H1160.7ZM1175.6 796.9L1182.8 809.1H1168.4ZM1183.2 797.7L1190.4 809.9H1176ZM1190.8 792.3L1198 804.5H1183.6ZM1198.3 795.5L1205.5 807.7H1191.1ZM1205.9 789.7L1213.1 801.9H1198.7ZM1213.4 788.5L1220.6 800.7H1206.2ZM1220.9 785.8L1228.1 798H1213.7ZM1228.4 781.8L1235.6 794H1221.2ZM1235.9 780.4L1243.1 792.6H1228.7ZM1243.3 783L1250.5 795.2H1236.1ZM1250.7 781.6L1257.9 793.8H1243.5ZM1258.1 774.6L1265.3 786.8H1250.9ZM1265.5 775.4L1272.7 787.6H1258.3ZM1272.8 770.9L1280 783.1H1265.6ZM1280.1 766.6L1287.3 778.8H1272.9ZM1287.4 768.3L1294.6 780.5H1280.2ZM1294.7 766.3L1301.9 778.5H1287.5ZM1302 758.9L1309.2 771.1H1294.8ZM1309.2 756.1L1316.4 768.3H1302ZM1316.4 753.4L1323.6 765.6H1309.2ZM1323.6 749.5L1330.8 761.7H1316.4ZM1330.7 747.7L1337.9 759.9H1323.5ZM1337.9 745.3L1345.1 757.5H1330.7ZM1345 739.2L1352.2 751.4H1337.8ZM1352.1 736.7L1359.3 748.9H1344.9ZM1359.2 733.7L1366.4 745.9H1352ZM1366.2 725.2L1373.4 737.4H1359ZM1373.3 721.4L1380.5 733.6H1366.1ZM1380.3 715.4L1387.5 727.6H1373.1ZM1387.2 712.4L1394.4 724.6H1380ZM1394.2 706L1401.4 718.2H1387ZM1401.1 700.3L1408.3 712.5H1393.9ZM1408.1 692.7L1415.3 704.9H1400.9ZM1415 682.5L1422.2 694.7H1407.8ZM1421.8 675.5L1429 687.7H1414.6ZM1428.7 664.3L1435.9 676.5H1421.5ZM1435.5 655.2L1442.7 667.4H1428.3ZM1442.3 643.2L1449.5 655.4H1435.1ZM1449.1 641L1456.3 653.2H1441.9ZM1455.9 628.9L1463.1 641.1H1448.7ZM1462.6 622.6L1469.8 634.8H1455.4ZM1469.3 614.4L1476.5 626.6H1462.1ZM1476 609.2L1483.2 621.4H1468.8ZM1482.7 599.7L1489.9 611.9H1475.5ZM1489.3 590.2L1496.5 602.4H1482.1ZM1495.9 584.8L1503.1 597H1488.7ZM1502.5 578.3L1509.7 590.5H1495.3ZM1509.1 573.2L1516.3 585.4H1501.9ZM1515.7 565L1522.9 577.2H1508.5ZM1522.2 561.8L1529.4 574H1515ZM1528.7 560.7L1535.9 572.9H1521.5ZM1535.2 553.2L1542.4 565.4H1528ZM1541.7 551.1L1548.9 563.3H1534.5ZM1548.1 549.5L1555.3 561.7H1540.9ZM1554.6 541.1L1561.8 553.3H1547.4ZM1561 534.7L1568.2 546.9H1553.8ZM1567.3 534L1574.5 546.2H1560.1ZM1573.7 533.4L1580.9 545.6H1566.5ZM1580 530.8L1587.2 543H1572.8ZM1586.3 525.8L1593.5 538H1579.1ZM1592.6 527.5L1599.8 539.7H1585.4ZM1598.9 528.3L1606.1 540.5H1591.7ZM1605.1 529.5L1612.3 541.7H1597.9ZM1611.3 530.7L1618.5 542.9H1604.1ZM1617.5 530.8L1624.7 543H1610.3ZM1623.7 532.8L1630.9 545H1616.5ZM1629.9 535.2L1637.1 547.4H1622.7ZM1636 539.7L1643.2 551.9H1628.8ZM1642.1 539.4L1649.3 551.6H1634.9ZM1648.2 544.5L1655.4 556.7H1641ZM1654.3 544.3L1661.5 556.5H1647.1Z" fill="none" stroke="#5a6efa" stroke-width="2"/>
<path d="M981.6 543.3L987.7 543.3L993.7 543.3L999.8 543.4L1005.8 543.5L1011.9 543.6L1017.9 543.7L1024 543.9L1030 544L1036.1 544.2L1042.1 544.4L1048.2 544.6L1054.2 544.8L1060.3 545.1L1066.3 545.3L1072.4 545.6L1078.4 545.8L1084.5 546.1L1090.5 546.4L1096.6 546.6L1102.7 546.9L1108.7 547.3L1114.8 547.8L1120.8 548.2L1126.9 548.8L1132.9 549.4L1139 550L1145 550.7L1151.1 551.4L1157.1 552.1L1163.2 552.9L1169.2 553.7L1175.3 554.5L1181.3 555.3L1187.4 556.1L1193.4 557L1199.5 557.8L1205.5 558.7L1211.6 559.5L1217.6 560.3L1223.7 561.2L1229.8 562L1235.8 562.8L1241.9 563.6L1247.9 564.4L1254 565.2L1260 566L1266.1 566.9L1272.1 567.7L1278.2 568.6L1284.2 569.5L1290.3 570.5L1296.3 571.4L1302.4 572.4L1308.4 573.5L1314.5 574.5L1320.5 575.6L1326.6 576.8L1332.6 578L1338.7 579.3L1344.7 580.6L1350.8 582L1356.9 583.6L1362.9 585.2L1369 586.9L1375 588.8L1381.1 590.7L1387.1 592.7L1393.2 594.9L1399.2 597.1L1405.3 599.4L1411.3 601.7L1417.4 604.2L1423.4 606.7L1429.5 609.3L1435.5 612.2L1441.6 615.3L1447.6 618.7L1453.7 622.2L1459.7 625.8L1465.8 629.6L1471.8 633.3L1477.9 637.1L1484 640.9L1490 644.8L1496.1 648.8L1502.1 652.9L1508.2 657.1L1514.2 661.3L1520.3 665.5L1526.3 669.8L1532.4 674.1L1538.4 678.3L1544.5 682.5L1550.5 686.7L1556.6 690.8L1562.6 695.1L1568.7 699.4L1574.7 703.8L1580.8 708.4L1586.8 713.3L1592.9 718.3L1598.9 723.6L1605 729L1611 734.6L1617.1 740.4L1623.2 746.4L1629.2 752.7L1635.3 759.2L1641.3 765.9L1647.4 773L1653.4 780.9L1659.5 789.2L1665.5 797.7L1671.6 806.2L1677.6 814.4L1683.7 822.4L1689.7 830.4L1695.8 838.3L1701.8 846.2" stroke="#0a960a" stroke-width="2.2" fill="none" stroke-linejoin="round"/>
<path d="M977.9 835.2L983.1 834.7L988.2 834.3L993.3 833.8L998.5 833.3L1003.6 832.7L1008.7 832.2L1013.9 831.6L1019 831L1024.1 830.4L1029.3 829.8L1034.4 829.1L1039.5 828.5L1044.7 827.8L1049.8 827.1L1054.9 826.4L1060.1 825.7L1065.2 824.9L1070.4 824.2L1075.5 823.4L1080.6 822.7L1085.8 821.9L1090.9 821.1L1096 820.3L1101.2 819.5L1106.3 818.6L1111.4 817.8L1116.6 816.9L1121.7 816L1126.8 815.1L1132 814.2L1137.1 813.2L1142.2 812.2L1147.4 811.2L1152.5 810.2L1157.7 809.1L1162.8 808.1L1167.9 807L1173.1 805.8L1178.2 804.7L1183.3 803.5L1188.5 802.3L1193.6 801.1L1198.7 799.8L1203.9 798.5L1209 797.2L1214.1 795.9L1219.3 794.5L1224.4 793.1L1229.5 791.7L1234.7 790.2L1239.8 788.6L1245 787.1L1250.1 785.4L1255.2 783.7L1260.4 782L1265.5 780.2L1270.6 778.4L1275.8 776.5L1280.9 774.6L1286 772.6L1291.2 770.5L1296.3 768.4L1301.4 766.3L1306.6 764L1311.7 761.8L1316.8 759.4L1322 757L1327.1 754.6L1332.3 752.1L1337.4 749.5L1342.5 746.9L1347.7 744.1L1352.8 741.2L1357.9 738.2L1363.1 735L1368.2 731.5L1373.3 728L1378.5 724.2L1383.6 720.2L1388.7 716.1L1393.9 711.8L1399 707.2L1404.2 702.1L1409.3 696.4L1414.4 690.2L1419.6 683.7L1424.7 677L1429.8 670.1L1435 663.2L1440.1 656.5L1445.2 649.9L1450.4 643.7L1455.5 637.6L1460.6 631.5L1465.8 625.3L1470.9 619.2L1476 613.2L1481.2 607.2L1486.3 601.5L1491.5 596L1496.6 590.7L1501.7 585.9L1506.9 581.3L1512 576.9L1517.1 572.6L1522.3 568.4L1527.4 564.4L1532.5 560.6L1537.7 556.9L1542.8 553.5L1547.9 550.4L1553.1 547.6L1558.2 545.1L1563.3 542.7L1568.5 540.2L1573.6 538L1578.8 536.1L1583.9 534.9L1589 534.4" stroke="#5a6efa" stroke-width="2.2" fill="none" stroke-linejoin="round"/>
<rect x="966.3" y="506.9" width="739.6" height="366.8" fill="none" stroke="#000" stroke-width="2.2"/>
<path d="M1224.8 873.7L1224.8 882.2M1594.6 873.7L1594.6 882.2M966.3 873.7L966.3 878.2M1031.4 873.7L1031.4 878.2M1077.6 873.7L1077.6 878.2M1113.5 873.7L1113.5 878.2M1142.7 873.7L1142.7 878.2M1167.5 873.7L1167.5 878.2M1188.9 873.7L1188.9 878.2M1207.9 873.7L1207.9 878.2M1336.1 873.7L1336.1 878.2M1401.2 873.7L1401.2 878.2M1447.4 873.7L1447.4 878.2M1483.3 873.7L1483.3 878.2M1512.5 873.7L1512.5 878.2M1537.3 873.7L1537.3 878.2M1558.7 873.7L1558.7 878.2M1577.7 873.7L1577.7 878.2M1705.9 873.7L1705.9 878.2" stroke="#000" stroke-width="2" fill="none"/>
<text x="1224.8" y="910.2" font-size="26.8" text-anchor="middle">100</text>
<text x="1594.6" y="910.2" font-size="26.8" text-anchor="middle">1000</text>
<path d="M966.3 843.1L957.8 843.1M966.3 782L957.8 782M966.3 720.9L957.8 720.9M966.3 659.7L957.8 659.7M966.3 598.6L957.8 598.6M966.3 537.5L957.8 537.5M966.3 873.7L961.8 873.7M966.3 812.6L961.8 812.6M966.3 751.4L961.8 751.4M966.3 690.3L961.8 690.3M966.3 629.2L961.8 629.2M966.3 568L961.8 568" stroke="#000" stroke-width="2" fill="none"/>
<text x="950.5" y="852.7" font-size="26.8" text-anchor="end">0.0</text>
<text x="950.5" y="791.6" font-size="26.8" text-anchor="end">0.2</text>
<text x="950.5" y="730.5" font-size="26.8" text-anchor="end">0.4</text>
<text x="950.5" y="669.3" font-size="26.8" text-anchor="end">0.6</text>
<text x="950.5" y="608.2" font-size="26.8" text-anchor="end">0.8</text>
<text x="950.5" y="547.1" font-size="26.8" text-anchor="end">1.0</text>
<text x="1335.8" y="962.6" font-size="37.5" text-anchor="middle">Time (ps)</text>
<text x="1329" y="1007.4" font-size="36.4" text-anchor="middle">Wavelength (nm)</text>
<text x="899.9" y="690" font-size="35.5" text-anchor="middle" transform="rotate(-90 899.9 690)">Normalized ΔOD</text>
<path d="M1402.6 525.6h10.8v10.8h-10.8Z" fill="none" stroke="#0a960a" stroke-width="2"/>
<path d="M1408 575.7L1415.8 589H1400.2Z" fill="none" stroke="#5a6efa" stroke-width="2"/>
<text x="1443.5" y="537.9" font-size="35.5">S<tspan font-size="21" dy="8.3">1</tspan></text>
<text x="1447.5" y="591.2" font-size="35.5">T<tspan font-size="21" dy="8.3">1</tspan></text>
<text x="982.7" y="645.8" font-size="36"><tspan font-family="Liberation Serif" font-style="italic" font-size="36">τ</tspan><tspan x="998.2" font-size="24.5" dy="9.2">S</tspan><tspan font-size="16">1</tspan><tspan font-size="24.5">, decay</tspan><tspan x="1115.4" dy="-9.2">= 0.91 ns</tspan></text>
<text x="982.7" y="690.2" font-size="36"><tspan font-family="Liberation Serif" font-style="italic" font-size="36">τ</tspan><tspan x="998.2" font-size="24.5" dy="9.2">T</tspan><tspan font-size="16">1</tspan><tspan font-size="24.5">, rise</tspan><tspan x="1086.8" dy="-9.2">= 1.26 ns</tspan></text>
<rect x="105" y="1068.7" width="741" height="351" fill="#bbff00"/>
<path d="M350.5 1419.5l249 0-7.5-207-4-144-213 0-1 15.5-1.5 10-2 20-6 114.5-9.5 133-4.5 58z" fill="#cfff00" fill-rule="evenodd"/>
<path d="M367 1419.5l230.5 0-9.5-202-4.5-149-198 0-0.5 15.5-1.5 15-3 38-6 101-7.5 181.5z" fill="#e4ff00" fill-rule="evenodd"/>
<path d="M374.5 1419.5l220 0-11.5-203-4-46.5-5.5-44.5-5.5-31-1.5-6.5-2-3-2 1.5-5.5 13-5.5 9.5-4 5-1.5 2-2 0.5-2-5.5-1-9.5-2.5-33-145 0 0 15.5-3 44.5-6 117-10 174z" fill="#f8ff00" fill-rule="evenodd"/>
<path d="M384.5 1419.5l206.5 0-10-123.5-3.5-34.5-5.5-36.5-4-16.5-1.5-6-2-3-2 0-2 2.5-5.5 14.5-7.5 15.5-1.5 2.5-2 1-2-3-3.5-20-6.5-50.5-10.5-93.5-106 0-3.5 15.5-5 17.5-3 12.5-2.5 14.5-2 18-3.5 53.5-7.5 156.5-4 63z" fill="#fff200" fill-rule="evenodd"/>
<path d="M392.5 1419.5l193.5 0-2-15-5-50-3-25.5-4-23.5-5.5-20.5-2-3.5-2-0.5-2 2-7 20.5-6 12.5-1.5 3-2 1-2-2-3.5-12-5.5-26.5-4-22-18-138.5-8-50.5-65 0-1.5 5-2 10.5-10 32.5-8.5 33-5 22.5-3.5 25.5-4.5 40.5-3 40.5-3.5 58-4 83z" fill="#ffdd00" fill-rule="evenodd"/>
<path d="M398 1419.5l182 0-6-40-2-12.5-4-14-3.5-9-2-1-2 1.5-5.5 16.5-7.5 19-1.5 3.5-2 1.5-2-1.5-1.5-3.5-7.5-22.5-5.5-27-4-24.5-5.5-44.5-8-74-5-34.5-9-48-5.5-17.5-2-3.5-2-1.5-1.5 1.5-2 3-5.5 14.5-4 7-5.5 7.5-7.5 8-3.5 2.5-2 0-1.5-0.5-6-4.5-3.5-0.5-3.5 2-2 1.5-2 3.5-2 6-8 30.5-10 45.5-4 24.5-2.5 18.5-7 81-5 85.5z" fill="#ffc900" fill-rule="evenodd"/>
<path d="M402.5 1419.5l130.5 0-2-5-2.5-10-5-32-5.5-44.5-10-95-4.5-37-6-28.5-3.5-14.5-3.5-8.5-2-3-2-1.5-1.5 1-2 3-5.5 11.5-4 6-5.5 7-3.5 4-5.5 3.5-4 0.5-1.5-1-6-5.5-3.5-1-2 0.5-3.5 3-2 3.5-2 6-7 27.5-4 16.5-6 32-4 28-5 48-6 85.5zM552.5 1419.5l19.5 0-5.5-16.5-2-4.5-2-1.5-2 2-5.5 15.5-2.5 5z" fill="#ffb400" fill-rule="evenodd"/>
<path d="M406 1419.5l117 0-3-18-10.5-105.5-6-53.5-6-29-3.5-15-3.5-8.5-2-2.5-2-1.5-1.5 1-2 3-5.5 11-5.5 8.5-6 7-3.5 3-3.5 2-4 0.5-1.5-1-6-5.5-3.5-1-2 0-1.5 1-2 2-4 9-9 33.5-9.5 52.5-5.5 46-4.5 61z" fill="#ffa000" fill-rule="evenodd"/>
<path d="M409.5 1419.5l108 0-2-15-7-81-5-41-6-29.5-3.5-14-3.5-8-2-3-2-1-1.5 1-2 2.5-5.5 10.5-5.5 8-6 7-3.5 3.5-3.5 2-4 0.5-1.5-0.5-6-4.5-1.5-1-4-0.5-1.5 1-2 2-2 3-3.5 10.5-5.5 19-4 16.5-3 19-7 45-4 48z" fill="#ff8c00" fill-rule="evenodd"/>
<path d="M412.5 1419.5l101.5 0-7.5-75.5-4-33-5-23-3.5-13.5-3.5-8-2-3-2-1-1.5 1-2 2.5-5.5 10-5.5 8.5-6 7-3.5 3.5-3.5 2-4 1-1.5 0-7.5-4.5-4-0.5-1.5 0.5-2 2-4 7-7 22-4 16.5-6 36-5 42.5z" fill="#ff7700" fill-rule="evenodd"/>
<path d="M416 1419.5l95 0-6-58.5-3.5-25-4-17.5-3.5-13-2-4.5-3.5-5.5-2-1-1.5 1-13 19.5-7.5 9-4 3-3.5 2-3.5 0.5-7.5-3.5-4 0-1.5 0.5-2 1.5-2 3-5.5 12.5-5.5 18.5-3 17.5-6.5 40z" fill="#ff6300" fill-rule="evenodd"/>
<path d="M420.5 1419.5l87.5 0-4.5-45-4-20.5-5.5-21-2-4.5-3.5-5.5-2-1-1.5 1-15 22-5.5 7-4 3.5-3.5 2.5-3.5 1-7.5-2.5-4-0.5-1.5 0.5-4 4-3.5 6.5-2 4.5-3.5 11.5-7 36.5z" fill="#ff4e00" fill-rule="evenodd"/>
<path d="M424.5 1419.5l81 0-5-35-3-13.5-3.5-13-2-4-3.5-5.5-2-1-1.5 1-19 27-3.5 4.5-5.5 5-3.5 2-11.5-2-1.5 0.5-2 1.5-5.5 10-5.5 14.5-3 8z" fill="#ff3a00" fill-rule="evenodd"/>
<path d="M432.5 1419.5l70 0-8.5-38-2-4-3.5-5.5-2-1-1.5 1-2 2.5-14.5 25-6 8-5.5 4-3.5 2-11.5-1-1.5 0.5-4 2.5-4 4z" fill="#ff2600" fill-rule="evenodd"/>
<path d="M467 1419.5l31.5 0-6.5-17-3.5-6-2-1-1.5 1-7 10.5-11 12.5z" fill="#ff1100" fill-rule="evenodd"/>
<path d="M480.5 1419.5l12 0-4-4-2-0.5-1.5 0.5-4.5 4z" fill="#ff0000" fill-rule="evenodd"/>
<path d="M601 1419.5l245 0 0-351-254 0 2 101 5.5 181 1.5 69z" fill="#a6ff00" fill-rule="evenodd"/>
<path d="M602.5 1419.5l221 0-2-116-3-81-1.5-25-2.5-22.5-2.5-18-3-13.5-2-14-4-61-207.5 0 4.5 197 2.5 154z" fill="#92ff00" fill-rule="evenodd"/>
<path d="M603.5 1419.5l196 0-5.5-90.5-14.5-189-4-71.5-176.5 0 3 172 1.5 179z" fill="#7eff00" fill-rule="evenodd"/>
<path d="M605 1419.5l183.5 0-14.5-153-15-198-156 0 2 351z" fill="#69ff00" fill-rule="evenodd"/>
<path d="M606.5 1419.5l170.5 0-2.5-17.5-15.5-151.5-13-109-3.5-38-2.5-35-133 0-0.5 351z" fill="#55ff00" fill-rule="evenodd"/>
<path d="M608 1419.5l158 0-2-15-3.5-33-12.5-97.5-6-48.5-9-92-5-65-117 0-3 351z" fill="#40ff00" fill-rule="evenodd"/>
<path d="M609.5 1419.5l147 0-2.5-15-13.5-106-9-78.5-7.5-75.5-5.5-76-103.5 0-5.5 351z" fill="#2cff00" fill-rule="evenodd"/>
<path d="M611 1419.5l137 0-2.5-15-16.5-123.5-5.5-53-15-159.5-88 0-4.5 119-5 232z" fill="#18ff00" fill-rule="evenodd"/>
<path d="M613 1419.5l127.5 0-3-17.5-12-88.5-14.5-138.5-12.5-106.5-69.5 0-5.5 59.5-3.5 62-3.5 105.5-3.5 124z" fill="#03ff00" fill-rule="evenodd"/>
<path d="M615 1419.5l118 0-3-17.5-6.5-50.5-17-156.5-7.5-60.5-5-32.5-7-33.5-49 0-8.5 63.5-5.5 63-4.5 96-4.5 128.5z" fill="#00ff11" fill-rule="evenodd"/>
<path d="M617 1419.5l109.5 0-2.5-17.5-23.5-209.5-4.5-35-5.5-29-11-35.5-5.5-24.5-26 0-7 30.5-3 15-3.5 25.5-4 32.5-5 63.5-4.5 80.5-4 103.5z" fill="#00ff26" fill-rule="evenodd"/>
<path d="M618.5 1419.5l103 0-2-15-21.5-193.5-4-28.5-3.5-16.5-11-39.5-7.5-30-2-3.5-3.5-4-4-2.5-1.5 0-2 0.5-2 1.5-3.5 4-2 3-3.5 10-4 13.5-3.5 15-4.5 28-5 50.5-4.5 55.5-4 68.5-4 83z" fill="#00ff3a" fill-rule="evenodd"/>
<path d="M620.5 1419.5l97 0-2.5-17.5-17.5-159-5.5-35-20-83-2-4-3.5-4-4-2.5-1.5-0.5-2 0.5-4 3.5-3.5 5.5-2 4-3.5 12-3 12.5-5 25.5-5.5 53-4 50.5-4.5 63-3.5 75.5z" fill="#00ff4e" fill-rule="evenodd"/>
<path d="M622 1419.5l91.5 0-2.5-17.5-14.5-136.5-4.5-27-20-87.5-2-4.5-3.5-5-4-3-1.5 0-2 0.5-4 3.5-3.5 5.5-2 4.5-6 22.5-5 28-5 47.5-4.5 58-4 58-3 53z" fill="#00ff63" fill-rule="evenodd"/>
<path d="M624 1419.5l86 0-2.5-17.5-10.5-101-5-35-7-32-9.5-45-3.5-15-2-5-2-3-3.5-4-2-1.5-1.5 0-2 0.5-4 3.5-3.5 6-2 4.5-5.5 20.5-4.5 27-3.5 30.5-5.5 63-6.5 103.5z" fill="#00ff77" fill-rule="evenodd"/>
<path d="M625.5 1419.5l81.5 0-2.5-17.5-7.5-78.5-5-32-20-96-2-5-2-3.5-3.5-4.5-2-1.5-1.5-0.5-2 0.5-4 4.5-3.5 6-2 5-5.5 21.5-3.5 20.5-3.5 27-5 55.5-6.5 98.5z" fill="#00ff8c" fill-rule="evenodd"/>
<path d="M627 1419.5l77.5 0-2-15-6-60.5-4.5-30-7-33-7.5-39.5-5.5-25-2-5.5-3.5-6-4-4.5-1.5-0.5-2 1-4 4-3.5 7-2 5-5.5 21.5-3.5 21.5-3 23.5-4 43-6.5 93z" fill="#00ffa0" fill-rule="evenodd"/>
<path d="M628.5 1419.5l73.5 0-4.5-45.5-3.5-28.5-3-16.5-6-27.5-9.5-50-3.5-16-2-6-2-3.5-3.5-5-2-2-1.5-0.5-2 1-2 1.5-5.5 9.5-5.5 19-4 18.5-3.5 26-2 19.5-8 106z" fill="#00ffb4" fill-rule="evenodd"/>
<path d="M630 1419.5l70 0-6-54.5-3-16-6-28.5-11-57.5-2-10-2-5.5-2-4-3.5-5.5-2-1.5-1.5-0.5-2 0.5-2 2-5.5 9.5-5.5 19.5-4 19-3.5 26-2 18.5-6.5 88.5z" fill="#00ffc9" fill-rule="evenodd"/>
<path d="M631 1419.5l67.5 0-4.5-35.5-2-11.5-7-34.5-7-39.5-4.5-20-3.5-14.5-2-4-3.5-5.5-2-2-1.5-0.5-2 0.5-2 2-5.5 10-5.5 20-4 18.5-4.5 36-6.5 80.5z" fill="#00ffdd" fill-rule="evenodd"/>
<path d="M632.5 1419.5l64 0-5.5-35-6-29.5-7.5-43-4-18-3.5-14-2-4-3.5-6-2-2-1.5-0.5-2 1-2 2-5.5 10-3.5 12-4 16-3.5 20.5-2 17-6 73.5z" fill="#00fff2" fill-rule="evenodd"/>
<path d="M633.5 1419.5l61 0-9.5-48.5-7.5-44-5.5-26-2-6-3.5-7.5-4-4.5-1.5-0.5-2 0.5-2 2-5.5 10.5-3.5 11.5-4 16.5-3.5 20.5-2 17.5-5 58z" fill="#00f8ff" fill-rule="evenodd"/>
<path d="M635 1419.5l57 0-5-20-9.5-58.5-5.5-26-4-10.5-3.5-6-2-2-1.5-0.5-2 1-2 2-5.5 10-3.5 12-3 13-3 14-3 26-4 45.5z" fill="#00e4ff" fill-rule="evenodd"/>
<path d="M636 1419.5l53 0-4-15.5-7.5-47.5-5.5-28-2-6.5-2.5-6-3-4.5-2-2-1.5-0.5-2 0.5-2 2.5-5.5 10-5.5 20-5.5 32.5-4.5 45z" fill="#00cfff" fill-rule="evenodd"/>
<path d="M637 1419.5l49 0-3-13-5.5-39-5.5-26.5-4-11-3.5-6-2-2-1.5-1-2 1-2 2-3.5 6.5-4 9.5-2 9-5.5 26-5 44.5z" fill="#00bbff" fill-rule="evenodd"/>
<path d="M638 1419.5l45.5 0-2.5-12.5-4-27.5-5-26-2-6.5-2.5-5.5-3-5.5-2-2-1.5-1-2 1-2 2-3.5 6.5-2 4-3.5 12.5-4.5 20.5-5.5 40z" fill="#00a6ff" fill-rule="evenodd"/>
<path d="M639.5 1419.5l42 0-6-37.5-5.5-23.5-2-4.5-3.5-6.5-2-2.5-1.5-0.5-2 1-4 5-3.5 8-2 5.5-4 18-6 37.5z" fill="#0092ff" fill-rule="evenodd"/>
<path d="M641 1419.5l39 0-7-37.5-3-12.5-2-4.5-3.5-6.5-2-2-1.5-1-2 1-4 5-3.5 8-2 5.5-2.5 12-6 32.5z" fill="#007eff" fill-rule="evenodd"/>
<path d="M642.5 1419.5l36 0-8.5-39-2-5-3.5-6.5-2-2-1.5-1-2 1-2 2-3.5 7-2 4.5-9 39z" fill="#0069ff" fill-rule="evenodd"/>
<path d="M644.5 1419.5l32 0-8.5-32.5-3.5-7.5-2-2.5-1.5-0.5-2 0.5-2 2.5-3.5 7.5-9 32.5z" fill="#0055ff" fill-rule="evenodd"/>
<path d="M646.5 1419.5l28 0-6.5-20-3.5-8.5-2-2.5-1.5-1.5-2 1.5-4 7-3.5 9-5 15z" fill="#0040ff" fill-rule="evenodd"/>
<path d="M648.5 1419.5l24 0-4.5-10.5-5.5-9-1.5-1-2 1-2 2.5-5.5 10-3 7z" fill="#002cff" fill-rule="evenodd"/>
<path d="M651.5 1419.5l18.5 0-5.5-8.5-2-2-1.5-0.5-2 0.5-2 2-5.5 8.5z" fill="#0018ff" fill-rule="evenodd"/>
<rect x="105" y="1068.7" width="741" height="351" fill="none" stroke="#000" stroke-width="2"/>
<path d="M105 1068.7L105 1060.2M290.2 1068.7L290.2 1060.2M475.5 1068.7L475.5 1060.2M660.8 1068.7L660.8 1060.2M846 1068.7L846 1060.2M197.6 1068.7L197.6 1064.2M382.9 1068.7L382.9 1064.2M568.1 1068.7L568.1 1064.2M753.4 1068.7L753.4 1064.2" stroke="#000" stroke-width="2" fill="none"/>
<text x="105" y="1049.5" font-size="26.8" text-anchor="middle">400</text>
<text x="290.2" y="1049.5" font-size="26.8" text-anchor="middle">500</text>
<text x="475.5" y="1049.5" font-size="26.8" text-anchor="middle">600</text>
<text x="660.8" y="1049.5" font-size="26.8" text-anchor="middle">700</text>
<text x="846" y="1049.5" font-size="26.8" text-anchor="middle">800</text>
<path d="M105 1152L96.5 1152M105 1269.6L96.5 1269.6M105 1352.1L96.5 1352.1M105 1417.1L96.5 1417.1" stroke="#000" stroke-width="2" fill="none"/>
<text x="91.8" y="1161.6" font-size="26.8" text-anchor="end">10</text>
<text x="91.8" y="1279.2" font-size="26.8" text-anchor="end">1</text>
<text x="91.8" y="1361.7" font-size="26.8" text-anchor="end">0.1</text>
<text x="91.8" y="1426.7" font-size="26.8" text-anchor="end">0.01</text>
<text x="36.6" y="1238.2" font-size="35.5" text-anchor="middle" transform="rotate(-90 36.6 1238.2)">Time (μs)</text>
<text x="32" y="1048" font-size="45" font-weight="bold">c</text>
<rect x="128.3" y="1123.2" width="33.4" height="126.4" fill="#fff" stroke="#000" stroke-width="2"/>
<rect x="129.3" y="1245.96" width="31.4" height="2.74" fill="#0018ff"/>
<rect x="129.3" y="1243.51" width="31.4" height="2.74" fill="#002cff"/>
<rect x="129.3" y="1241.07" width="31.4" height="2.74" fill="#0040ff"/>
<rect x="129.3" y="1238.62" width="31.4" height="2.74" fill="#0055ff"/>
<rect x="129.3" y="1236.18" width="31.4" height="2.74" fill="#0069ff"/>
<rect x="129.3" y="1233.74" width="31.4" height="2.74" fill="#007eff"/>
<rect x="129.3" y="1231.29" width="31.4" height="2.74" fill="#0092ff"/>
<rect x="129.3" y="1228.85" width="31.4" height="2.74" fill="#00a6ff"/>
<rect x="129.3" y="1226.40" width="31.4" height="2.74" fill="#00bbff"/>
<rect x="129.3" y="1223.96" width="31.4" height="2.74" fill="#00cfff"/>
<rect x="129.3" y="1221.52" width="31.4" height="2.74" fill="#00e4ff"/>
<rect x="129.3" y="1219.07" width="31.4" height="2.74" fill="#00f8ff"/>
<rect x="129.3" y="1216.63" width="31.4" height="2.74" fill="#00fff2"/>
<rect x="129.3" y="1214.18" width="31.4" height="2.74" fill="#00ffdd"/>
<rect x="129.3" y="1211.74" width="31.4" height="2.74" fill="#00ffc9"/>
<rect x="129.3" y="1209.30" width="31.4" height="2.74" fill="#00ffb4"/>
<rect x="129.3" y="1206.85" width="31.4" height="2.74" fill="#00ffa0"/>
<rect x="129.3" y="1204.41" width="31.4" height="2.74" fill="#00ff8c"/>
<rect x="129.3" y="1201.96" width="31.4" height="2.74" fill="#00ff77"/>
<rect x="129.3" y="1199.52" width="31.4" height="2.74" fill="#00ff63"/>
<rect x="129.3" y="1197.08" width="31.4" height="2.74" fill="#00ff4e"/>
<rect x="129.3" y="1194.63" width="31.4" height="2.74" fill="#00ff3a"/>
<rect x="129.3" y="1192.19" width="31.4" height="2.74" fill="#00ff26"/>
<rect x="129.3" y="1189.74" width="31.4" height="2.74" fill="#00ff11"/>
<rect x="129.3" y="1187.30" width="31.4" height="2.74" fill="#03ff00"/>
<rect x="129.3" y="1184.86" width="31.4" height="2.74" fill="#18ff00"/>
<rect x="129.3" y="1182.41" width="31.4" height="2.74" fill="#2cff00"/>
<rect x="129.3" y="1179.97" width="31.4" height="2.74" fill="#40ff00"/>
<rect x="129.3" y="1177.52" width="31.4" height="2.74" fill="#55ff00"/>
<rect x="129.3" y="1175.08" width="31.4" height="2.74" fill="#69ff00"/>
<rect x="129.3" y="1172.64" width="31.4" height="2.74" fill="#7eff00"/>
<rect x="129.3" y="1170.19" width="31.4" height="2.74" fill="#92ff00"/>
<rect x="129.3" y="1167.75" width="31.4" height="2.74" fill="#a6ff00"/>
<rect x="129.3" y="1165.30" width="31.4" height="2.74" fill="#bbff00"/>
<rect x="129.3" y="1162.86" width="31.4" height="2.74" fill="#cfff00"/>
<rect x="129.3" y="1160.42" width="31.4" height="2.74" fill="#e4ff00"/>
<rect x="129.3" y="1157.97" width="31.4" height="2.74" fill="#f8ff00"/>
<rect x="129.3" y="1155.53" width="31.4" height="2.74" fill="#fff200"/>
<rect x="129.3" y="1153.08" width="31.4" height="2.74" fill="#ffdd00"/>
<rect x="129.3" y="1150.64" width="31.4" height="2.74" fill="#ffc900"/>
<rect x="129.3" y="1148.20" width="31.4" height="2.74" fill="#ffb400"/>
<rect x="129.3" y="1145.75" width="31.4" height="2.74" fill="#ffa000"/>
<rect x="129.3" y="1143.31" width="31.4" height="2.74" fill="#ff8c00"/>
<rect x="129.3" y="1140.86" width="31.4" height="2.74" fill="#ff7700"/>
<rect x="129.3" y="1138.42" width="31.4" height="2.74" fill="#ff6300"/>
<rect x="129.3" y="1135.98" width="31.4" height="2.74" fill="#ff4e00"/>
<rect x="129.3" y="1133.53" width="31.4" height="2.74" fill="#ff3a00"/>
<rect x="129.3" y="1131.09" width="31.4" height="2.74" fill="#ff2600"/>
<rect x="129.3" y="1128.64" width="31.4" height="2.74" fill="#ff1100"/>
<rect x="129.3" y="1126.20" width="31.4" height="2.74" fill="#ff0000"/>
<rect x="128.3" y="1123.2" width="33.4" height="126.4" fill="none" stroke="#000" stroke-width="2.2"/>
<text x="147" y="1090.5" font-size="21" text-anchor="middle"><tspan font-weight="bold">Δ</tspan>A</text>
<text x="146" y="1110.5" font-size="17.5" text-anchor="middle">0.4</text>
<text x="146" y="1275" font-size="18" text-anchor="middle">-0.9</text>
<rect x="957.6" y="1068.9" width="742.4" height="350.6" fill="#77ff00"/>
<path d="M1190.5 1419.5l264.5 0-2.5-209.5-3.5-141-227 0-4.5 83-4 49.5-3.5 32-6.5 39.5-5.5 48-4 43-3.5 55.5z" fill="#8bff00" fill-rule="evenodd"/>
<path d="M1207 1419.5l246.5 0-2-143.5-2-58.5-3.5-85.5-3.5-63-201 0-8 65.5-3.5 35.5-4.5 55.5-4.5 76-3.5 45.5-4 30.5-6.5 42z" fill="#9fff00" fill-rule="evenodd"/>
<path d="M1220.5 1419.5l232 0-1-63.5-2-54.5-5.5-108.5-2-24-3.5-32-7.5-49-2.5-19-36 0-8 56.5-2 9-1.5 3.5-2-4-2-10-6.5-55-110 0-17 96-5 32.5-4 33-3.5 32.5-4 53-6.5 103.5z" fill="#b4ff00" fill-rule="evenodd"/>
<path d="M1225 1419.5l226.5 0-4-96.5-3.5-58-4-40.5-3.5-32-11-72.5-4-22-6-29-9 0-3.5 17.5-9 45-9.5 56-2 8-1.5 3.5-2-3-2-8-19.5-119-51.5 0-3 2.5-2 0.5-2-1-2.5-2-7 0-1.5 3-5.5 19-13 30-5.5 16.5-6 24.5-10 50.5-8.5 50-7 58.5-7.5 98.5z" fill="#c8ff00" fill-rule="evenodd"/>
<path d="M1229 1419.5l220.5 0-2.5-55.5-2.5-35.5-6-63.5-8.5-60-6.5-43-4-18.5-4.5-16.5-2.5-7-2-1.5-2 2-1.5 5.5-6 20.5-3.5 16.5-3.5 19-9.5 56.5-2 7.5-1.5 3-2-2.5-3.5-13.5-13.5-78.5-5.5-26.5-5.5-20-9-28.5-4-9-2-1.5-1.5 4-4 16.5-1.5 5.5-4 6.5-3.5 4.5-5.5 4.5-7.5 5-4 1.5-3.5 0.5-7.5-4.5-2 0-1.5 2-22.5 66.5-4.5 16-4 17.5-10.5 53-7 37.5-3.5 23-4 31-5 60z" fill="#ddff00" fill-rule="evenodd"/>
<path d="M1232.5 1419.5l215 0-4-58-3.5-35.5-3.5-30.5-14-93-3-15-5.5-18.5-1.5-4-2-1.5-2 2-7.5 23-5.5 26-11 65.5-2 7.5-1.5 3-2-2-2-5.5-3.5-16.5-5.5-28.5-7.5-45.5-7-30.5-4.5-14.5-5.5-16-3.5-7.5-2-2-2-1-1.5 2-5.5 15.5-4 5.5-3.5 4-5.5 3.5-11.5 5-3.5 0-5.5-3-2-1-2 0.5-1.5 2-2 4.5-19.5 66-9.5 37.5-14.5 70.5-5 30.5-7 55.5z" fill="#f1ff00" fill-rule="evenodd"/>
<path d="M1237 1419.5l208.5 0-5.5-55.5-3.5-32-9.5-63.5-7.5-42-3.5-13.5-3.5-9.5-2-1.5-2 2-1.5 4-6 17.5-5.5 27.5-9 52.5-4 15.5-1.5 2.5-2-1.5-2-4.5-5.5-20.5-13-73.5-5.5-25-7.5-24.5-5.5-11-2-2.5-2-0.5-1.5 1.5-5.5 13.5-6 7.5-5.5 4.5-13 5-3.5 0-7.5-3-2 0.5-1.5 2.5-4 10.5-17.5 60.5-8.5 34.5-14 64-9 58z" fill="#fff900" fill-rule="evenodd"/>
<path d="M1242 1419.5l200.5 0-7-60.5-8.5-58.5-7.5-41.5-3.5-12-3.5-9-2-1.5-2 1.5-1.5 4-6 15.5-5.5 25.5-11 62-2 6.5-1.5 3-2-1.5-2-4-5.5-20.5-5.5-27-7.5-43.5-5.5-24.5-7.5-26-2-4.5-3.5-6.5-2-2-2-0.5-1.5 1.5-4 8.5-3.5 6-4 5-5.5 4.5-9 4-5.5 1.5-4 0-5.5-2-2 0.5-1.5 2.5-4 10-7.5 25-15.5 57.5-16 72.5-5 28.5z" fill="#ffe400" fill-rule="evenodd"/>
<path d="M1247 1419.5l192.5 0-7.5-58-6-40.5-6.5-32.5-3.5-12.5-3.5-9-2-1-2 1-3.5 8.5-4 10-6.5 30.5-4.5 28-5.5 28.5-2 7.5-1.5 2.5-2-1.5-2-4-5.5-19-3.5-17.5-9.5-52-5.5-25.5-7.5-25.5-2-4-3.5-6-2-2-2-1-1.5 1.5-5.5 11-4 5-3.5 4-4 2.5-9 4-5.5 2-4 0-5.5-1-2 0.5-1.5 2-4 9.5-17.5 60.5-8 33-9.5 45.5-4 15z" fill="#ffd000" fill-rule="evenodd"/>
<path d="M1253 1419.5l183.5 0-8-58-6.5-38-4-16.5-4-10-1.5-3.5-2-1-2 1-3.5 7-4 9.5-5.5 23.5-7.5 48-5 23-2 3-2-1.5-2-3.5-5.5-17-7.5-38.5-3.5-23.5-4.5-20-8.5-34-2-6-3.5-7-4-4-2-1-1.5 1.5-5.5 9.5-6 7.5-5.5 4.5-14.5 7-4 0.5-5.5-1-2 1-1.5 1.5-2 3.5-12 36.5-10.5 39.5-9.5 44-3 12.5z" fill="#ffbb00" fill-rule="evenodd"/>
<path d="M1258 1419.5l117.5 0-4-9.5-2-8-3.5-20.5-7.5-44-5.5-25-7.5-24.5-3.5-7-4-4.5-2-0.5-1.5 1.5-9.5 13.5-5.5 5.5-5.5 3.5-11 5-4 0.5-5.5 0-2 0.5-1.5 1.5-2 3.5-7.5 21-8 29.5-14.5 58zM1384 1419.5l49.5 0-8.5-55.5-5.5-28-1.5-7-4-9.5-1.5-3.5-2-1-2 1-1.5 2.5-4 7.5-2 5.5-6.5 30-6.5 42-4 16z" fill="#ffa700" fill-rule="evenodd"/>
<path d="M1263 1419.5l106 0-3-14.5-7.5-46-7-30.5-6-20-3.5-6.5-4-3.5-2-0.5-1.5 1-11.5 14.5-5.5 4.5-14.5 8-4 1-5.5 0-2 1-1.5 1.5-2 3-2 5-7 21.5-16 60.5zM1388.5 1419.5l42 0-11-62.5-5.5-16-1.5-3.5-2-1.5-2 1-3.5 6.5-4 9-1.5 6.5-5.5 29-3.5 21.5-2 10z" fill="#ff9300" fill-rule="evenodd"/>
<path d="M1268 1419.5l97.5 0-10-55.5-8-30.5-2-6.5-2-4-3.5-4-2-1.5-2-0.5-1.5 1-11.5 14-3.5 4-3.5 3-13 8-4 1.5-7.5 1-1.5 1.5-2 2.5-3.5 8-4 13-8.5 32.5-4 12.5zM1391.5 1419.5l36 0-6-33-3.5-16-4-10.5-1.5-3-2-1.5-2 1-1.5 2.5-4 7.5-2 5.5-5 22.5-4.5 25z" fill="#ff7e00" fill-rule="evenodd"/>
<path d="M1273 1419.5l89 0-5.5-30-8.5-35.5-2.5-8.5-2-3.5-3.5-5-2-1.5-2-0.5-1.5 1-11.5 14.5-5.5 5-16.5 11.5-7.5 1.5-3.5 2-2 3-7 18.5-8 27.5zM1394.5 1419.5l30 0-5-24-1.5-6.5-4-9.5-1.5-3.5-2-1.5-2 1-1.5 2.5-4 7-2 5-6.5 29.5z" fill="#ff6a00" fill-rule="evenodd"/>
<path d="M1277.5 1419.5l82 0-6-27.5-6.5-25.5-3.5-8-3.5-4.5-2-1-2-0.5-1.5 0.5-5.5 6.5-7.5 10-5.5 5.5-15 11-9.5 2.5-1.5 1-2 2-2 4.5-8.5 23.5zM1397.5 1419.5l24 0-3.5-12.5-4-10.5-1.5-3.5-2-1.5-2 1-1.5 2.5-4 7-5.5 17.5z" fill="#ff5500" fill-rule="evenodd"/>
<path d="M1283 1419.5l73.5 0-9-34.5-2-6-2-3.5-1.5-2.5-4-4-2-0.5-1.5 1-13 16.5-18.5 16-4 2.5-9 3-2 2-5 10zM1401.5 1419.5l16 0-3.5-7-1.5-3-2-1-2 0.5-1.5 2-5.5 8.5z" fill="#ff4100" fill-rule="evenodd"/>
<path d="M1296 1419.5l57 0-7.5-25.5-2-4-1.5-2-4-3-2-0.5-1.5 0.5-4 4-9 12.5-5.5 5.5-13 10-4 1.5-3 1z" fill="#ff2d00" fill-rule="evenodd"/>
<path d="M1315.5 1419.5l34 0-4-11-2-3.5-3.5-4-2-1.5-2-0.5-1.5 0.5-2 2-11 13.5-6 4.5z" fill="#ff1800" fill-rule="evenodd"/>
<path d="M1326.5 1419.5l19 0-2-2.5-3.5-3.5-4-1-3.5 1.5-6 5.5z" fill="#ff0400" fill-rule="evenodd"/>
<path d="M1456.5 1419.5l225 0-10-96-7.5-65.5-8-60.5-11.5-76-2-16.5-2-36-186.5 0 2.5 350.5z" fill="#62ff00" fill-rule="evenodd"/>
<path d="M1459 1419.5l178 0-2.5-12.5-3-28-3-32.5-2.5-35.5-4-73-7-169-156 0 0 350.5z" fill="#4eff00" fill-rule="evenodd"/>
<path d="M1461 1419.5l157.5 0-7-93.5-19-219.5-2.5-37.5-121 0-6 194-2 156.5z" fill="#39ff00" fill-rule="evenodd"/>
<path d="M1463 1419.5l144.5 0-8.5-88.5-6.5-58-5.5-56-6-66-5.5-82-101 0-4.5 171.5-5 118.5-2 60.5z" fill="#25ff00" fill-rule="evenodd"/>
<path d="M1466.5 1419.5l132 0-9.5-75.5-6-54.5-15-174.5-3-46-84 0-4 95.5-5.5 151-5 104z" fill="#11ff00" fill-rule="evenodd"/>
<path d="M1470.5 1419.5l119 0-4.5-37-4-36-22-242.5-3-35-67.5 0-9.5 141.5-8.5 209z" fill="#00ff04" fill-rule="evenodd"/>
<path d="M1473.5 1419.5l109 0-9-96-9.5-93-10-106-7-55.5-52 0-5.5 63-9 123.5-3.5 68-3.5 96z" fill="#00ff18" fill-rule="evenodd"/>
<path d="M1475.5 1419.5l102.5 0-6-60.5-13-119.5-7.5-85-5.5-35-11-50.5-31.5 0-8.5 55.5-4.5 47.5-11 156.5-4 91z" fill="#00ff2d" fill-rule="evenodd"/>
<path d="M1477 1419.5l97 0-15-131-7-81-4-35-8-40.5-11-40.5-1.5-5.5-2-3-3.5-4-2-1.5-2-0.5-1.5 1-2 1.5-4 5.5-3.5 10-3.5 16.5-3 15.5-6 43-4 45.5-10 143.5-3.5 60.5z" fill="#00ff41" fill-rule="evenodd"/>
<path d="M1479 1419.5l91.5 0-9.5-76.5-9.5-103-2.5-20-3-21.5-8-39-9-35-1.5-4.5-2-3.5-3.5-3.5-4-1.5-1.5 0.5-2 1-4 4.5-1.5 3.5-2 5.5-4.5 20.5-6.5 47-3.5 29-2 27.5-11.5 169z" fill="#00ff55" fill-rule="evenodd"/>
<path d="M1481 1419.5l85.5 0-2.5-15-5-45.5-8-93.5-6-40-8-40.5-8-31.5-3.5-9-3.5-4-2-1.5-2-0.5-1.5 0.5-2 1-4 4.5-1.5 3.5-2 6-3.5 18-5.5 38-6 53-11 156.5z" fill="#00ff6a" fill-rule="evenodd"/>
<path d="M1483.5 1419.5l79 0-3.5-30-7.5-88-6-43.5-9.5-50.5-7-28.5-3.5-9.5-3.5-4.5-2-1.5-2-0.5-1.5 0-4 3.5-2 2-1.5 4-4 14.5-3 20.5-7 50.5-3 30-8.5 131.5z" fill="#00ff7e" fill-rule="evenodd"/>
<path d="M1485 1419.5l74.5 0-8-94-3.5-27-4.5-28-8.5-44.5-6-23.5-3.5-10-3.5-5-2-1.5-2-1-1.5 0.5-4 3.5-2 2-1.5 4-4 15-1.5 11.5-7 51.5-4.5 39-7 107.5z" fill="#00ff93" fill-rule="evenodd"/>
<path d="M1487 1419.5l70 0-4.5-58-2.5-28-6-36.5-7.5-41.5-7.5-31-3.5-10.5-3.5-5.5-2-2-2-0.5-1.5 0.5-4 3-2 2.5-1.5 4-4 16.5-1.5 11-8 60-3 27.5-5.5 88.5z" fill="#00ffa7" fill-rule="evenodd"/>
<path d="M1488 1419.5l67.5 0-6-66.5-4-29.5-9.5-48-4-20-4.5-17-2-4-3.5-6-2-2-2-0.5-1.5 0.5-4 3-2 2-1.5 4.5-4 15.5-1.5 11-8 61-3.5 31-4 65z" fill="#00ffbb" fill-rule="evenodd"/>
<path d="M1489 1419.5l65 0-2.5-29-3.5-32-5-30-7-35-5-23-3.5-14-2-4-3.5-6-2-2-2-0.5-3.5 1.5-4 4-1.5 4-4 16-11 84.5-2 20-3 45.5z" fill="#00ffd0" fill-rule="evenodd"/>
<path d="M1490 1419.5l62.5 0-3-28.5-3.5-27-6.5-38-4.5-22-7.5-30-2-5-3.5-6-2-2-2-1-3.5 2-4 4-1.5 4-4 17-2.5 16.5-7.5 58-3 30-2 28z" fill="#00ffe4" fill-rule="evenodd"/>
<path d="M1491 1419.5l60 0-3-25.5-4.5-27.5-9.5-50.5-6.5-26-2-4.5-3.5-6.5-2-2-2-1-1.5 0.5-2 1-4 4-1.5 4.5-4 16-2.5 16.5-5.5 45.5-6 55.5z" fill="#00fff9" fill-rule="evenodd"/>
<path d="M1492.5 1419.5l57 0-9.5-58-8-40.5-4-15-2.5-6.5-3.5-6-2-2-2-1-3.5 2-4 3.5-1.5 4-4 15.5-2.5 15.5-10 88.5z" fill="#00f1ff" fill-rule="evenodd"/>
<path d="M1494 1419.5l53.5 0-10.5-60.5-7.5-35.5-4-10.5-3.5-6.5-2-2-2-0.5-3.5 1.5-4 3.5-1.5 4-3 10.5-2.5 18-9.5 78z" fill="#00ddff" fill-rule="evenodd"/>
<path d="M1495.5 1419.5l49.5 0-10-58-6-25-3.5-11.5-3.5-6-2-2-2-1-3.5 1.5-4 3.5-1.5 4.5-2 7.5-3.5 21-8 65.5z" fill="#00c8ff" fill-rule="evenodd"/>
<path d="M1497 1419.5l46 0-10-53-4-17-1.5-6.5-4-9-3.5-5.5-2-0.5-3.5 1.5-4 4-1.5 4.5-2 7.5-3.5 21.5-6.5 52.5z" fill="#00b4ff" fill-rule="evenodd"/>
<path d="M1498.5 1419.5l42.5 0-6-32-7-31-2.5-6.5-3.5-7-2-2-2-1-3.5 1.5-4 4-1.5 4-2 7-3.5 23-5 40z" fill="#009fff" fill-rule="evenodd"/>
<path d="M1500 1419.5l39 0-5.5-27.5-6-26.5-2-5-3.5-6.5-2-2-2-1-1.5 0.5-4 2.5-2 2-1.5 4.5-5.5 28.5-3.5 30.5z" fill="#008bff" fill-rule="evenodd"/>
<path d="M1501 1419.5l36 0-6-27.5-3.5-14.5-2-5.5-3.5-7.5-2-2-2-1-1.5 0.5-4 2.5-2 2.5-1.5 5-4 17.5-4 30z" fill="#0077ff" fill-rule="evenodd"/>
<path d="M1502 1419.5l33 0-7.5-31.5-2-5-3.5-7-2-2.5-2-1-1.5 0.5-4 3-2 2-1.5 4.5-3.5 14.5-3.5 22.5z" fill="#0062ff" fill-rule="evenodd"/>
<path d="M1503.5 1419.5l29.5 0-5.5-21.5-2-5.5-3.5-7-2-2-2-1-1.5 0.5-4 2.5-2 2-1.5 4.5-5.5 27.5z" fill="#004eff" fill-rule="evenodd"/>
<path d="M1505 1419.5l25.5 0-5-16.5-3.5-8-2-2.5-2-0.5-1.5 0-3 2.5-3 3-1.5 5-4 17z" fill="#0039ff" fill-rule="evenodd"/>
<path d="M1506.5 1419.5l22 0-3-7.5-3.5-7-2-2.5-2-1-3.5 1.5-4 4-1.5 4-2.5 8.5z" fill="#0025ff" fill-rule="evenodd"/>
<path d="M1508.5 1419.5l17 0-3.5-6.5-2-2-2-0.5-3.5 1-4 3.5-2 4.5z" fill="#0011ff" fill-rule="evenodd"/>
<rect x="957.6" y="1068.9" width="742.4" height="350.6" fill="none" stroke="#000" stroke-width="2"/>
<path d="M957.6 1068.9L957.6 1060.4M1143.2 1068.9L1143.2 1060.4M1328.8 1068.9L1328.8 1060.4M1514.4 1068.9L1514.4 1060.4M1700 1068.9L1700 1060.4M1050.4 1068.9L1050.4 1064.4M1236 1068.9L1236 1064.4M1421.6 1068.9L1421.6 1064.4M1607.2 1068.9L1607.2 1064.4" stroke="#000" stroke-width="2" fill="none"/>
<text x="957.6" y="1049.4" font-size="26.8" text-anchor="middle">400</text>
<text x="1143.2" y="1049.4" font-size="26.8" text-anchor="middle">500</text>
<text x="1328.8" y="1049.4" font-size="26.8" text-anchor="middle">600</text>
<text x="1514.4" y="1049.4" font-size="26.8" text-anchor="middle">700</text>
<text x="1700" y="1049.4" font-size="26.8" text-anchor="middle">800</text>
<path d="M957.6 1166.3L949.1 1166.3M957.6 1264.3L949.1 1264.3M957.6 1333.1L949.1 1333.1M957.6 1387.1L949.1 1387.1" stroke="#000" stroke-width="2" fill="none"/>
<text x="946.9" y="1175.9" font-size="26.8" text-anchor="end">10</text>
<text x="946.9" y="1273.9" font-size="26.8" text-anchor="end">1</text>
<text x="946.9" y="1342.7" font-size="26.8" text-anchor="end">0.1</text>
<text x="946.9" y="1396.7" font-size="26.8" text-anchor="end">0.01</text>
<text x="895.7" y="1240.5" font-size="35.5" text-anchor="middle" transform="rotate(-90 895.7 1240.5)">Time (μs)</text>
<text x="891" y="1047.2" font-size="45" font-weight="bold">d</text>
<rect x="980.9" y="1130.6" width="33.5" height="127.7" fill="#fff"/>
<rect x="981.9" y="1254.73" width="31.5" height="2.77" fill="#0011ff"/>
<rect x="981.9" y="1252.26" width="31.5" height="2.77" fill="#0025ff"/>
<rect x="981.9" y="1249.78" width="31.5" height="2.77" fill="#0039ff"/>
<rect x="981.9" y="1247.31" width="31.5" height="2.77" fill="#004eff"/>
<rect x="981.9" y="1244.84" width="31.5" height="2.77" fill="#0062ff"/>
<rect x="981.9" y="1242.37" width="31.5" height="2.77" fill="#0077ff"/>
<rect x="981.9" y="1239.90" width="31.5" height="2.77" fill="#008bff"/>
<rect x="981.9" y="1237.42" width="31.5" height="2.77" fill="#009fff"/>
<rect x="981.9" y="1234.95" width="31.5" height="2.77" fill="#00b4ff"/>
<rect x="981.9" y="1232.48" width="31.5" height="2.77" fill="#00c8ff"/>
<rect x="981.9" y="1230.01" width="31.5" height="2.77" fill="#00ddff"/>
<rect x="981.9" y="1227.54" width="31.5" height="2.77" fill="#00f1ff"/>
<rect x="981.9" y="1225.06" width="31.5" height="2.77" fill="#00fff9"/>
<rect x="981.9" y="1222.59" width="31.5" height="2.77" fill="#00ffe4"/>
<rect x="981.9" y="1220.12" width="31.5" height="2.77" fill="#00ffd0"/>
<rect x="981.9" y="1217.65" width="31.5" height="2.77" fill="#00ffbb"/>
<rect x="981.9" y="1215.18" width="31.5" height="2.77" fill="#00ffa7"/>
<rect x="981.9" y="1212.70" width="31.5" height="2.77" fill="#00ff93"/>
<rect x="981.9" y="1210.23" width="31.5" height="2.77" fill="#00ff7e"/>
<rect x="981.9" y="1207.76" width="31.5" height="2.77" fill="#00ff6a"/>
<rect x="981.9" y="1205.29" width="31.5" height="2.77" fill="#00ff55"/>
<rect x="981.9" y="1202.82" width="31.5" height="2.77" fill="#00ff41"/>
<rect x="981.9" y="1200.34" width="31.5" height="2.77" fill="#00ff2d"/>
<rect x="981.9" y="1197.87" width="31.5" height="2.77" fill="#00ff18"/>
<rect x="981.9" y="1195.40" width="31.5" height="2.77" fill="#00ff04"/>
<rect x="981.9" y="1192.93" width="31.5" height="2.77" fill="#11ff00"/>
<rect x="981.9" y="1190.46" width="31.5" height="2.77" fill="#25ff00"/>
<rect x="981.9" y="1187.98" width="31.5" height="2.77" fill="#39ff00"/>
<rect x="981.9" y="1185.51" width="31.5" height="2.77" fill="#4eff00"/>
<rect x="981.9" y="1183.04" width="31.5" height="2.77" fill="#62ff00"/>
<rect x="981.9" y="1180.57" width="31.5" height="2.77" fill="#77ff00"/>
<rect x="981.9" y="1178.10" width="31.5" height="2.77" fill="#8bff00"/>
<rect x="981.9" y="1175.62" width="31.5" height="2.77" fill="#9fff00"/>
<rect x="981.9" y="1173.15" width="31.5" height="2.77" fill="#b4ff00"/>
<rect x="981.9" y="1170.68" width="31.5" height="2.77" fill="#c8ff00"/>
<rect x="981.9" y="1168.21" width="31.5" height="2.77" fill="#ddff00"/>
<rect x="981.9" y="1165.74" width="31.5" height="2.77" fill="#f1ff00"/>
<rect x="981.9" y="1163.26" width="31.5" height="2.77" fill="#fff900"/>
<rect x="981.9" y="1160.79" width="31.5" height="2.77" fill="#ffe400"/>
<rect x="981.9" y="1158.32" width="31.5" height="2.77" fill="#ffd000"/>
<rect x="981.9" y="1155.85" width="31.5" height="2.77" fill="#ffbb00"/>
<rect x="981.9" y="1153.38" width="31.5" height="2.77" fill="#ffa700"/>
<rect x="981.9" y="1150.90" width="31.5" height="2.77" fill="#ff9300"/>
<rect x="981.9" y="1148.43" width="31.5" height="2.77" fill="#ff7e00"/>
<rect x="981.9" y="1145.96" width="31.5" height="2.77" fill="#ff6a00"/>
<rect x="981.9" y="1143.49" width="31.5" height="2.77" fill="#ff5500"/>
<rect x="981.9" y="1141.02" width="31.5" height="2.77" fill="#ff4100"/>
<rect x="981.9" y="1138.54" width="31.5" height="2.77" fill="#ff2d00"/>
<rect x="981.9" y="1136.07" width="31.5" height="2.77" fill="#ff1800"/>
<rect x="981.9" y="1133.60" width="31.5" height="2.77" fill="#ff0400"/>
<rect x="980.9" y="1130.6" width="33.5" height="127.7" fill="none" stroke="#000" stroke-width="2.2"/>
<text x="998.4" y="1097.9" font-size="21" text-anchor="middle"><tspan font-weight="bold">Δ</tspan>A</text>
<text x="997.6" y="1118.8" font-size="17.5" text-anchor="middle">0.3</text>
<text x="996.8" y="1282.4" font-size="18" text-anchor="middle">-0.5</text>
<path d="M103.9 1778.3L104.9 1775.1L105.8 1775.4L106.8 1779.7L107.8 1779.2L108.8 1779.7L109.7 1777L110.7 1778.6L111.7 1776.6L112.7 1782.9L113.6 1774.6L114.6 1778.7L115.6 1776.8L116.6 1778.7L117.5 1779.3L118.5 1777.3L119.5 1776.4L120.4 1778.9L121.4 1778.8L122.4 1776.7L123.4 1780.5L124.3 1782L125.3 1777.4L126.3 1780L127.3 1783L128.2 1780.3L129.2 1779.4L130.2 1781.2L131.1 1781.9L132.1 1778.1L133.1 1776L134.1 1778.8L135 1780L136 1777.2L137 1776.4L138 1778.8L138.9 1776.7L139.9 1775.5L140.9 1778.5L141.9 1780L142.8 1777.1L143.8 1777.3L144.8 1775.2L145.7 1781L146.7 1779.4L147.7 1779.8L148.7 1781.9L149.6 1777.3L150.6 1776.3L151.6 1779.3L152.6 1760.4L153.5 1687.7L154.5 1555.7L155.5 1529.2L156.4 1513.7L157.4 1546.1L158.4 1512L159.4 1510.1L160.3 1547.1L161.3 1510.3L162.3 1518.5L163.3 1499.7L164.2 1519.1L165.2 1511.2L166.2 1504.7L167.2 1525.4L168.1 1500.4L169.1 1512.3L170.1 1502.2L171 1519.4L172 1492.1L173 1500.3L174 1513.7L174.9 1504.4L175.9 1498.5L176.9 1494.3L177.9 1552.4L178.8 1517.5L179.8 1528.1L180.8 1540.6L181.7 1558L182.7 1528.2L183.7 1568.7L184.7 1546L185.6 1539.3L186.6 1583.4L187.6 1568.8L188.6 1585.7L189.5 1568.2L190.5 1554.9L191.5 1551.9L192.5 1603.8L193.4 1591.6L194.4 1578.8L195.4 1571.3L196.3 1588.5L197.3 1605.3L198.3 1595.9L199.3 1602.5L200.2 1607.4L201.2 1616.1L202.2 1606.4L203.2 1610L204.1 1617L205.1 1620.9L206.1 1634.6L207 1628.7L208 1613.9L209 1630.6L210 1645.4L210.9 1620.3L211.9 1630.6L212.9 1617.9L213.9 1639.7L214.8 1646.9L215.8 1658.1L216.8 1634.9L217.8 1625.9L218.7 1658.4L219.7 1658.9L220.7 1650L221.6 1664.4L222.6 1661.5L223.6 1664.1L224.6 1661.4L225.5 1655.9L226.5 1666.6L227.5 1661.2L228.5 1673.7L229.4 1669.5L230.4 1690.5L231.4 1686.7L232.3 1671.2L233.3 1683.3L234.3 1676.2L235.3 1678.1L236.2 1674L237.2 1679.4L238.2 1679.5L239.2 1689.1L240.1 1694.7L241.1 1696.3L242.1 1696L243.1 1701.8L244 1699.1L245 1697.4L246 1696.5L246.9 1701.7L247.9 1713.3L248.9 1702.5L249.9 1701.9L250.8 1697.7L251.8 1702.1L252.8 1711L253.8 1712.7L254.7 1697L255.7 1705.9L256.7 1700.5L257.6 1699.9L258.6 1718.7L259.6 1712.6L260.6 1713.3L261.5 1713.8L262.5 1714.9L263.5 1717.9L264.5 1719.1L265.4 1729.6L266.4 1722.9L267.4 1727.1L268.4 1723.2L269.3 1727.4L270.3 1722.3L271.3 1722.2L272.2 1725.8L273.2 1726.7L274.2 1728.7L275.2 1732.4L276.1 1731.7L277.1 1734.3L278.1 1730.5L279.1 1733.2L280 1731.1L281 1741.6L282 1731L282.9 1740.2L283.9 1740.7L284.9 1738.7L285.9 1741.3L286.8 1737.7L287.8 1742.7L288.8 1745.8L289.8 1745.3L290.7 1735.4L291.7 1742.2L292.7 1748.7L293.7 1743.7L294.6 1751.7L295.6 1736.4L296.6 1752.7L297.5 1743.8L298.5 1744.1L299.5 1754L300.5 1746.4L301.4 1743.7L302.4 1746.7L303.4 1748.2L304.4 1745.6L305.3 1749.7L306.3 1749.4L307.3 1752L308.2 1749.1L309.2 1756.6L310.2 1749.3L311.2 1755.6L312.1 1758.7L313.1 1752.6L314.1 1747.2L315.1 1750.9L316 1757.8L317 1752.9L318 1758.4L319 1757.4L319.9 1756.8L320.9 1767.7L321.9 1757.2L322.8 1762.8L323.8 1761.8L324.8 1765.5L325.8 1766L326.7 1763.9L327.7 1756.8L328.7 1753.5L329.7 1761.1L330.6 1756.7L331.6 1762.7L332.6 1770L333.5 1761.7L334.5 1760.7L335.5 1764.7L336.5 1762L337.4 1761.2L338.4 1767.4L339.4 1770.2L340.4 1765.3L341.3 1765.6L342.3 1766.4L343.3 1761.2L344.3 1758.5L345.2 1767.5L346.2 1763.2L347.2 1762.5L348.1 1763.7L349.1 1762.6L350.1 1768.7L351.1 1764.3L352 1759.4L353 1764.6L354 1770.5L355 1765.8L355.9 1763.4L356.9 1767.2L357.9 1771.2L358.8 1763L359.8 1774.4L360.8 1767.6L361.8 1769.9L362.7 1774.7L363.7 1765.4L364.7 1769L365.7 1775.2L366.6 1768.4L367.6 1772.7L368.6 1778.6L369.6 1774L370.5 1770.5L371.5 1769.2L372.5 1771.2L373.4 1771.8L374.4 1770.3L375.4 1773.2L376.4 1767.9L377.3 1772.1L378.3 1771.7L379.3 1770.9L380.3 1777.2L381.2 1776L382.2 1767.5L383.2 1772.3L384.1 1774.8L385.1 1772.5L386.1 1775.9L387.1 1773.1L388 1776.8L389 1773.3L390 1780.6L391 1769.5L391.9 1776.8L392.9 1781L393.9 1775.9L394.9 1776.6L395.8 1774.7L396.8 1779.8L397.8 1774L398.7 1761.7L399.7 1780.6L400.7 1774.5L401.7 1777.1L402.6 1775.3L403.6 1783.1L404.6 1780.6L405.6 1774.6L406.5 1776.6L407.5 1770.3L408.5 1779.3L409.4 1776.1L410.4 1765.8L411.4 1779.8L412.4 1780.5L413.3 1777.2L414.3 1777.4L415.3 1774.1L416.3 1776.9L417.2 1780.3L418.2 1776.7L419.2 1767.6L420.2 1772.9L421.1 1788.3L422.1 1778.4L423.1 1781.2L424 1775.7L425 1778.7L426 1770.9L427 1774.7L427.9 1774.9L428.9 1777.7L429.9 1778.6L430.9 1777.2L431.8 1773.7L432.8 1776.6L433.8 1780L434.7 1774L435.7 1778.1L436.7 1779.2L437.7 1781.9L438.6 1781.1L439.6 1781.4L440.6 1789.6L441.6 1775.3L442.5 1777.1L443.5 1780.1L444.5 1775.4L445.5 1777.7L446.4 1778L447.4 1788.8L448.4 1780.4L449.3 1777.6L450.3 1773.6L451.3 1772.8L452.3 1774.4L453.2 1784.1L454.2 1788L455.2 1777.7L456.2 1779.8L457.1 1776.4L458.1 1780.5L459.1 1779.2L460.1 1785.7L461 1778.4L462 1781.8L463 1778.9L463.9 1778.5L464.9 1780.7L465.9 1779.1L466.9 1780.4L467.8 1777.6L468.8 1778.6L469.8 1782.5L470.8 1782.7L471.7 1774L472.7 1780.9L473.7 1776.9L474.6 1779.2L475.6 1782.8L476.6 1783.5L477.6 1780.3L478.5 1779.8L479.5 1778.5L480.5 1785.5L481.5 1783.1L482.4 1781.2L483.4 1775L484.4 1789.7L485.4 1779.3L486.3 1783L487.3 1779.4L488.3 1782.9L489.2 1779.7L490.2 1775.3L491.2 1779.8L492.2 1779.5L493.1 1779.8L494.1 1784L495.1 1779.2L496.1 1782L497 1784.3L498 1781.4L499 1782.2L499.9 1778.5L500.9 1781.5L501.9 1783.3L502.9 1776L503.8 1777.7L504.8 1776.7L505.8 1779.2L506.8 1781.9L507.7 1783L508.7 1782.5L509.7 1778L510.7 1781.1L511.6 1787.1L512.6 1781.7L513.6 1786.9L514.5 1781L515.5 1786.1L516.5 1786.3L517.5 1781.2L518.4 1782L519.4 1787.9L520.4 1778.9L521.4 1773.7L522.3 1787.2L523.3 1775L524.3 1784.3L525.2 1783.6L526.2 1782.5L527.2 1787.2L528.2 1777L529.1 1780L530.1 1784.6L531.1 1782.9L532.1 1787.5L533 1783.2L534 1778.4L535 1788.3L536 1783.6L536.9 1781.4L537.9 1778.1L538.9 1777L539.8 1783.7L540.8 1784.7L541.8 1780.3L542.8 1783.4L543.7 1783.2L544.7 1778L545.7 1775.8L546.7 1781.1L547.6 1782.8L548.6 1780L549.6 1789.1L550.5 1782.2L551.5 1786L552.5 1773.3L553.5 1779.5L554.4 1781.6L555.4 1782.9L556.4 1791.5L557.4 1779.5L558.3 1776.1L559.3 1784.9L560.3 1779.7L561.3 1779.5L562.2 1787.9L563.2 1778.8L564.2 1777.2L565.1 1781.4L566.1 1782.5L567.1 1779.3L568.1 1787.9L569 1781.9L570 1778.4L571 1786.9L572 1778.6L572.9 1783.8L573.9 1790L574.9 1782.7L575.8 1785.9L576.8 1781.1L577.8 1786.6L578.8 1778.4L579.7 1785.1L580.7 1781L581.7 1784.5L582.7 1783.5L583.6 1777.9L584.6 1781.6L585.6 1783.8L586.6 1787L587.5 1778.1L588.5 1779.7L589.5 1783.6L590.4 1781.5L591.4 1786.2L592.4 1786.1L593.4 1785.5L594.3 1781.1L595.3 1781.3L596.3 1785.2L597.3 1779.7L598.2 1779.5L599.2 1781.8L600.2 1778.6L601.1 1783.5L602.1 1782.9L603.1 1780.7L604.1 1782.6L605 1779.5L606 1787.1L607 1777.2L608 1785.4L608.9 1783.1L609.9 1787.6L610.9 1780.3L611.9 1777.8L612.8 1778.5L613.8 1779.4L614.8 1788.2L615.7 1785.4L616.7 1784.2L617.7 1786L618.7 1778.4L619.6 1781.8L620.6 1782.6L621.6 1780.7L622.6 1786L623.5 1785.9L624.5 1785.8L625.5 1780.7L626.4 1781.3L627.4 1780.4L628.4 1778.5L629.4 1787.5L630.3 1784.6L631.3 1782L632.3 1787.5L633.3 1784.5L634.2 1778.8L635.2 1778.5L636.2 1778.6L637.2 1782.4L638.1 1783.3L639.1 1778.6L640.1 1783.9L641 1781.3L642 1777.7L643 1783.9L644 1784.8L644.9 1782.6L645.9 1780.4L646.9 1780.8L647.9 1782L648.8 1780.5L649.8 1788.5L650.8 1785.8L651.7 1782L652.7 1786L653.7 1787.5L654.7 1787.1L655.6 1786L656.6 1783.3L657.6 1786.4L658.6 1781.7L659.5 1776.3L660.5 1783.1L661.5 1777.9L662.5 1781.5L663.4 1786.7L664.4 1783.6L665.4 1786.2L666.3 1779.8L667.3 1786.9L668.3 1777.7L669.3 1780.5L670.2 1790.1L671.2 1779.7L672.2 1776.9L673.2 1785.5L674.1 1779L675.1 1789.3L676.1 1781.7L677 1788.8L678 1780.8L679 1789.2L680 1792.3L680.9 1781.2L681.9 1774.2L682.9 1784.8L683.9 1779.6L684.8 1782.2L685.8 1783.8L686.8 1780.4L687.8 1776.6L688.7 1787.2L689.7 1780.6L690.7 1781.4L691.6 1787.9L692.6 1776.7L693.6 1775.4L694.6 1786.2L695.5 1776.2L696.5 1782.4L697.5 1783.2L698.5 1777.1L699.4 1781.8L700.4 1781.5L701.4 1777L702.3 1777.9L703.3 1779.4L704.3 1787.8L705.3 1788.5L706.2 1778.5L707.2 1786.1L708.2 1782.1L709.2 1786.6L710.1 1783.3L711.1 1787.4L712.1 1776.6L713.1 1786.4L714 1783.1L715 1783.4L716 1778.2L716.9 1787.9L717.9 1782.8L718.9 1783.4L719.9 1780.7L720.8 1780.9L721.8 1784.4L722.8 1781.8L723.8 1784L724.7 1780.9L725.7 1783L726.7 1785.1L727.6 1782.8L728.6 1781.3L729.6 1774.3L730.6 1784.5L731.5 1781.5L732.5 1777.3L733.5 1790.3L734.5 1789.1L735.4 1787.1L736.4 1783.1L737.4 1773.7L738.4 1781.2L739.3 1778.2L740.3 1783.5L741.3 1791.8L742.2 1791.2L743.2 1778.9L744.2 1782L745.2 1787.5L746.1 1778.6L747.1 1788.4L748.1 1778.5L749.1 1777.3L750 1785.5L751 1786.8L752 1779.6L752.9 1786.7L753.9 1779.5L754.9 1787.1L755.9 1779.7L756.8 1782.3L757.8 1784.3L758.8 1786L759.8 1781.8L760.7 1789.7L761.7 1783.7L762.7 1784.1L763.7 1780.2L764.6 1787.3L765.6 1776.4L766.6 1783.8L767.5 1786.9L768.5 1777.6L769.5 1776.5L770.5 1783.4L771.4 1786L772.4 1782.6L773.4 1785.2L774.4 1783.8L775.3 1776.9L776.3 1781.2L777.3 1782.2L778.2 1781.4L779.2 1782.9L780.2 1779.6L781.2 1779.4L782.1 1784.1L783.1 1782.3L784.1 1773.8L785.1 1781.1L786 1783.4L787 1775.1L788 1782.7L789 1786.7L789.9 1780.2L790.9 1786L791.9 1784.5L792.8 1781.5L793.8 1783.2L794.8 1785.5L795.8 1784.7L796.7 1784.9L797.7 1778.4L798.7 1785.4L799.7 1784.8L800.6 1775.2L801.6 1784.7L802.6 1777.2L803.5 1777.8L804.5 1783.3L805.5 1787.9L806.5 1781L807.4 1780.2L808.4 1779.1L809.4 1782.4L810.4 1778.2L811.3 1777.6L812.3 1786.6L813.3 1777.4L814.3 1782L815.2 1784.8L816.2 1783.9L817.2 1775.8L818.1 1779.1L819.1 1789.3L820.1 1782.4L821.1 1783.2L822 1783.3L823 1784.6L824 1788.1L825 1779.5L825.9 1786.2L826.9 1784.1L827.9 1784.9L828.9 1785.4L829.8 1780L830.8 1781.3L831.8 1785.2L832.7 1786.2L833.7 1784.4L834.7 1779.1L835.7 1782.2L836.6 1781.8L837.6 1783.9L838.6 1783.6L839.6 1781.9L840.5 1789.5L841.5 1776.7L842.5 1785.6L843.4 1784.8L844.4 1777.8" stroke="#2a98b4" stroke-width="2.0" fill="none" stroke-linejoin="round"/>
<path d="M113.2 1781.2L116.4 1781.4L119.7 1782.2L122.9 1783.4L126.1 1781.3L129.4 1780L132.6 1782.6L135.9 1779.8L139.1 1782.9L142.4 1782.4L145.6 1778.3L148.8 1723.6L152.1 1540.2L155.3 1483.8L158.6 1503.8L161.8 1491L165.1 1471.8L168.3 1476.9L171.6 1493.7L174.8 1497.6L178 1512.3L181.3 1527.7L184.5 1519.4L187.8 1541.7L191 1552L194.3 1550.7L197.5 1558.9L200.7 1575.1L204 1583.4L207.2 1588.4L210.5 1587.2L213.7 1598.5L217 1606.2L220.2 1609.1L223.5 1610.2L226.7 1624.2L229.9 1625.7L233.2 1633.7L236.4 1626.2L239.7 1631.8L242.9 1638.8L246.2 1646.3L249.4 1647.4L252.6 1660L255.9 1655.7L259.1 1664.2L262.4 1667.3L265.6 1668.4L268.9 1670.2L272.1 1670.1L275.3 1672.4L278.6 1676.4L281.8 1682.6L285.1 1680L288.3 1684.7L291.6 1683L294.8 1691.5L298.1 1699.1L301.3 1694.3L304.5 1688.3L307.8 1695.2L311 1699L314.3 1697.6L317.5 1700.4L320.8 1702.1L324 1706.6L327.2 1706.4L330.5 1707.5L333.7 1711.4L337 1714.1L340.2 1711.9L343.5 1710.8L346.7 1713L350 1714.7L353.2 1715.9L356.4 1711.1L359.7 1718.9L362.9 1717.8L366.2 1716.3L369.4 1722.7L372.7 1723.1L375.9 1722L379.1 1721.1L382.4 1725.9L385.6 1726.7L388.9 1728.4L392.1 1732.9L395.4 1727.3L398.6 1731.9L401.9 1736.8L405.1 1733.3L408.3 1738.4L411.6 1737.2L414.8 1735.1L418.1 1738.4L421.3 1733.7L424.6 1741.4L427.8 1737.3L431 1737.2L434.3 1735.4L437.5 1737.6L440.8 1740.1L444 1741.1L447.3 1742.1L450.5 1739.5L453.7 1744.9L457 1742.3L460.2 1744.6L463.5 1744.2L466.7 1746.1L470 1740.3L473.2 1748.3L476.5 1746.4L479.7 1746.8L482.9 1746.4L486.2 1747.4L489.4 1747.9L492.7 1746.9L495.9 1754L499.2 1750.4L502.4 1754.2L505.6 1750.8L508.9 1754.9L512.1 1754.8L515.4 1752.8L518.6 1749.4L521.9 1752L525.1 1753.2L528.4 1750.7L531.6 1757.2L534.8 1760.6L538.1 1756.6L541.3 1756.6L544.6 1753L547.8 1751L551.1 1760.5L554.3 1750.9L557.5 1753.6L560.8 1755.9L564 1757.4L567.3 1752.4L570.5 1758.8L573.8 1760.6L577 1759.3L580.2 1763.6L583.5 1759.1L586.7 1760.9L590 1760.1L593.2 1760.3L596.5 1764.3L599.7 1758.4L603 1764.7L606.2 1760.1L609.4 1766.8L612.7 1762L615.9 1765.3L619.2 1763.3L622.4 1765.4L625.7 1769.6L628.9 1767.1L632.1 1764.3L635.4 1763.1L638.6 1768.7L641.9 1770.6L645.1 1767.7L648.4 1766.2L651.6 1767.5L654.9 1768.2L658.1 1764.2L661.3 1764.1L664.6 1764.9L667.8 1769.4L671.1 1767L674.3 1767.9L677.6 1771.3L680.8 1765.6L684 1767.8L687.3 1769.4L690.5 1764.8L693.8 1766.7L697 1766.6L700.3 1765.9L703.5 1767.3L706.8 1772.5L710 1770.5L713.2 1767.1L716.5 1771.8L719.7 1769.9L723 1769.2L726.2 1766.7L729.5 1767.2L732.7 1768.4L735.9 1771.3L739.2 1768.7L742.4 1769.8L745.7 1771.7L748.9 1768L752.2 1770.4L755.4 1773.7L758.6 1768.7L761.9 1772.7L765.1 1770.7L768.4 1776.2L771.6 1772.5L774.9 1775L778.1 1775.2L781.4 1777.7L784.6 1767.6L787.8 1773.5L791.1 1772.6L794.3 1770.6L797.6 1773.8L800.8 1772.3L804.1 1777.1L807.3 1773.3L810.5 1775L813.8 1772.8L817 1773.7L820.3 1777.8L823.5 1779L826.8 1777L830 1772.8L833.3 1773.6L836.5 1773.8L839.7 1780L843 1781.7" stroke="#8e1212" stroke-width="2.2" fill="none" stroke-linejoin="round"/>
<rect x="103.9" y="1449.5" width="741.4" height="350.9" fill="none" stroke="#000" stroke-width="2.2"/>
<path d="M150.2 1800.4L150.2 1808.9M381.9 1800.4L381.9 1808.9M613.6 1800.4L613.6 1808.9M845.3 1800.4L845.3 1808.9M266.1 1800.4L266.1 1804.9M497.8 1800.4L497.8 1804.9M729.5 1800.4L729.5 1804.9" stroke="#000" stroke-width="2" fill="none"/>
<text x="150.2" y="1828.3" font-size="26.8" text-anchor="middle">0</text>
<text x="381.9" y="1828.3" font-size="26.8" text-anchor="middle">5</text>
<text x="613.6" y="1828.3" font-size="26.8" text-anchor="middle">10</text>
<text x="845.3" y="1828.3" font-size="26.8" text-anchor="middle">15</text>
<path d="M103.9 1785.1L95.4 1785.1M103.9 1724.1L95.4 1724.1M103.9 1663.1L95.4 1663.1M103.9 1602.1L95.4 1602.1M103.9 1541L95.4 1541M103.9 1480L95.4 1480M103.9 1754.6L99.4 1754.6M103.9 1693.6L99.4 1693.6M103.9 1632.6L99.4 1632.6M103.9 1571.6L99.4 1571.6M103.9 1510.5L99.4 1510.5" stroke="#000" stroke-width="2" fill="none"/>
<text x="89.8" y="1794.7" font-size="26.8" text-anchor="end">0.0</text>
<text x="89.8" y="1733.7" font-size="26.8" text-anchor="end">0.2</text>
<text x="89.8" y="1672.7" font-size="26.8" text-anchor="end">0.4</text>
<text x="89.8" y="1611.7" font-size="26.8" text-anchor="end">0.6</text>
<text x="89.8" y="1550.6" font-size="26.8" text-anchor="end">0.8</text>
<text x="89.8" y="1489.6" font-size="26.8" text-anchor="end">1.0</text>
<text x="473.9" y="1868.4" font-size="37.5" text-anchor="middle">Time (μs)</text>
<text x="37.5" y="1625.4" font-size="35.3" text-anchor="middle" transform="rotate(-90 37.5 1625.4)">Normalized ΔA@570 nm</text>
<text x="299.5" y="1510.6" font-size="28.3" fill="#8e1212">IR806 (deaerated)</text>
<text x="299.5" y="1541.7" font-size="28.3" fill="#8e1212"><tspan font-family="Liberation Serif" font-style="italic" font-size="31">τ</tspan> = 4.57 μs</text>
<path d="M296.8 1559.6L209.7 1585.2" stroke="#8e1212" stroke-width="2.2" fill="none"/>
<text x="318.6" y="1612.5" font-size="28.3" fill="#2a98b4">IR806-BTTQD 2 (deaerated)</text>
<text x="318.6" y="1645" font-size="28.3" fill="#2a98b4"><tspan font-family="Liberation Serif" font-style="italic" font-size="31">τ</tspan> = 1.29 μs</text>
<path d="M310.5 1638.6L231.5 1663.1" stroke="#2a98b4" stroke-width="2.2" fill="none"/>
<path d="M959.1 1787.3L960.1 1788.2L961.1 1786.3L962.1 1785L963.1 1783.7L964 1785.6L965 1786.8L966 1787.2L967 1784.4L968 1782.8L969 1785.3L970 1788L971 1787.5L971.9 1782.8L972.9 1785.4L973.9 1788.9L974.9 1785.9L975.9 1787.8L976.9 1786.8L977.9 1786.6L978.9 1786.9L979.9 1784.6L980.8 1785.7L981.8 1786.6L982.8 1784.8L983.8 1784L984.8 1788.5L985.8 1785.9L986.8 1787.2L987.8 1785.7L988.8 1787.6L989.7 1785.2L990.7 1785.3L991.7 1785.7L992.7 1787L993.7 1785.7L994.7 1786.9L995.7 1781.4L996.7 1675.5L997.6 1521.6L998.6 1487.9L999.6 1485.7L1000.6 1498L1001.6 1483.1L1002.6 1490.1L1003.6 1483.5L1004.6 1484.1L1005.6 1497L1006.5 1489.1L1007.5 1492.2L1008.5 1489.3L1009.5 1506.1L1010.5 1499.7L1011.5 1512.9L1012.5 1511.8L1013.5 1517.6L1014.5 1508.3L1015.4 1515.9L1016.4 1508.9L1017.4 1521L1018.4 1522.4L1019.4 1524.9L1020.4 1534.9L1021.4 1534.7L1022.4 1530.2L1023.3 1542L1024.3 1542.1L1025.3 1546.7L1026.3 1547.6L1027.3 1556.9L1028.3 1560.6L1029.3 1563.8L1030.3 1569.5L1031.3 1579L1032.2 1575.6L1033.2 1590.1L1034.2 1593.6L1035.2 1597.7L1036.2 1591.3L1037.2 1600.6L1038.2 1606.5L1039.2 1610.4L1040.1 1607L1041.1 1616.4L1042.1 1620.5L1043.1 1615.9L1044.1 1626.7L1045.1 1626.4L1046.1 1628.5L1047.1 1633.6L1048.1 1635.4L1049 1633.2L1050 1643.7L1051 1649.6L1052 1654.8L1053 1651.5L1054 1654.9L1055 1655.3L1056 1660.6L1057 1663.2L1057.9 1666.6L1058.9 1668.4L1059.9 1668.4L1060.9 1672.7L1061.9 1673.4L1062.9 1669.6L1063.9 1676.7L1064.9 1685.9L1065.8 1676.9L1066.8 1683.6L1067.8 1689.9L1068.8 1685.7L1069.8 1690.5L1070.8 1694.3L1071.8 1696.1L1072.8 1698.9L1073.8 1697.2L1074.7 1695.5L1075.7 1701.4L1076.7 1700.6L1077.7 1697.5L1078.7 1708.5L1079.7 1705.4L1080.7 1708.4L1081.7 1712L1082.7 1713.2L1083.6 1711.5L1084.6 1711.4L1085.6 1715.5L1086.6 1715L1087.6 1714.3L1088.6 1716.7L1089.6 1716.3L1090.6 1718.7L1091.5 1719.8L1092.5 1717.2L1093.5 1721.9L1094.5 1724.5L1095.5 1724L1096.5 1729.8L1097.5 1729.3L1098.5 1727.3L1099.5 1728.8L1100.4 1727.4L1101.4 1732.7L1102.4 1737.8L1103.4 1729.4L1104.4 1732.8L1105.4 1739.5L1106.4 1733.8L1107.4 1738.3L1108.3 1744L1109.3 1741.1L1110.3 1742L1111.3 1737.2L1112.3 1744.2L1113.3 1743.5L1114.3 1744.3L1115.3 1745.2L1116.3 1747.3L1117.2 1745L1118.2 1743.4L1119.2 1745.2L1120.2 1749.8L1121.2 1750.9L1122.2 1748.3L1123.2 1751L1124.2 1751.3L1125.2 1754.5L1126.1 1745.9L1127.1 1749L1128.1 1754.3L1129.1 1750.1L1130.1 1749.5L1131.1 1759.4L1132.1 1755.3L1133.1 1755.4L1134 1753.3L1135 1755.7L1136 1756.5L1137 1756.5L1138 1752.3L1139 1752L1140 1759.1L1141 1760.5L1142 1752.2L1142.9 1761.6L1143.9 1761.1L1144.9 1760L1145.9 1759.4L1146.9 1758.5L1147.9 1760.5L1148.9 1764L1149.9 1761.1L1150.8 1762.2L1151.8 1758.7L1152.8 1763.7L1153.8 1767.2L1154.8 1766.9L1155.8 1761.4L1156.8 1766.5L1157.8 1770.6L1158.8 1767.4L1159.7 1766.4L1160.7 1764L1161.7 1769.5L1162.7 1765.9L1163.7 1766L1164.7 1769.8L1165.7 1768.9L1166.7 1764.7L1167.7 1765.1L1168.6 1767.5L1169.6 1769L1170.6 1767.4L1171.6 1770.6L1172.6 1770.8L1173.6 1772.8L1174.6 1771.1L1175.6 1771.5L1176.5 1765.2L1177.5 1772.3L1178.5 1769.2L1179.5 1769.3L1180.5 1772.9L1181.5 1770.1L1182.5 1777.9L1183.5 1773L1184.5 1771.5L1185.4 1779L1186.4 1776.4L1187.4 1771.6L1188.4 1774.8L1189.4 1776.9L1190.4 1775.4L1191.4 1776L1192.4 1773.4L1193.4 1774.1L1194.3 1776L1195.3 1777L1196.3 1775.8L1197.3 1772.9L1198.3 1775.3L1199.3 1774.8L1200.3 1776.7L1201.3 1779.4L1202.2 1778.3L1203.2 1775.4L1204.2 1776.8L1205.2 1779.2L1206.2 1780.9L1207.2 1777.3L1208.2 1778.4L1209.2 1778.6L1210.2 1778.7L1211.1 1777.5L1212.1 1777.6L1213.1 1776.3L1214.1 1776.5L1215.1 1775.8L1216.1 1777.1L1217.1 1779.7L1218.1 1779.3L1219 1778.2L1220 1780.1L1221 1778.4L1222 1777.2L1223 1781.6L1224 1783.9L1225 1777.5L1226 1780.2L1227 1778.9L1227.9 1783.4L1228.9 1776.9L1229.9 1779.2L1230.9 1781.2L1231.9 1781.8L1232.9 1780.9L1233.9 1781.6L1234.9 1782L1235.9 1783.9L1236.8 1778.9L1237.8 1781.8L1238.8 1781.6L1239.8 1781.7L1240.8 1787.1L1241.8 1780.9L1242.8 1782.9L1243.8 1782.9L1244.7 1782.2L1245.7 1784.5L1246.7 1780.6L1247.7 1784L1248.7 1784.5L1249.7 1784.5L1250.7 1782.4L1251.7 1781.2L1252.7 1784.1L1253.6 1786.1L1254.6 1780.7L1255.6 1785.3L1256.6 1780.5L1257.6 1783.2L1258.6 1784.7L1259.6 1784.6L1260.6 1782.3L1261.6 1781.4L1262.5 1783.8L1263.5 1781.4L1264.5 1779L1265.5 1784L1266.5 1786.1L1267.5 1785.9L1268.5 1786.7L1269.5 1785.1L1270.4 1785.4L1271.4 1786.7L1272.4 1782.8L1273.4 1789.6L1274.4 1786.8L1275.4 1779.8L1276.4 1781.9L1277.4 1783L1278.4 1783.2L1279.3 1780.5L1280.3 1783.2L1281.3 1784.2L1282.3 1787L1283.3 1784.6L1284.3 1786L1285.3 1786L1286.3 1786.1L1287.2 1784.7L1288.2 1785.3L1289.2 1782.8L1290.2 1787.6L1291.2 1785.1L1292.2 1780.8L1293.2 1784.8L1294.2 1782.3L1295.2 1782.5L1296.1 1782.2L1297.1 1783.4L1298.1 1788L1299.1 1785.6L1300.1 1785.9L1301.1 1788.4L1302.1 1786.2L1303.1 1787.9L1304.1 1788.8L1305 1784.8L1306 1785.4L1307 1786.8L1308 1787.4L1309 1786.6L1310 1786.3L1311 1786.4L1312 1785.6L1312.9 1786.5L1313.9 1784.8L1314.9 1784.5L1315.9 1784.9L1316.9 1787.1L1317.9 1787L1318.9 1784.8L1319.9 1786.2L1320.9 1785.9L1321.8 1791.1L1322.8 1791.6L1323.8 1785.1L1324.8 1785.2L1325.8 1782.9L1326.8 1784.4L1327.8 1785.5L1328.8 1786L1329.8 1789.1L1330.7 1784.2L1331.7 1787.4L1332.7 1785L1333.7 1785.7L1334.7 1785.6L1335.7 1784.3L1336.7 1787.2L1337.7 1787L1338.6 1788L1339.6 1787.1L1340.6 1782.7L1341.6 1787.1L1342.6 1783.8L1343.6 1784.6L1344.6 1784.8L1345.6 1784.7L1346.6 1788.6L1347.5 1785.6L1348.5 1783L1349.5 1787.9L1350.5 1786.6L1351.5 1788L1352.5 1785.8L1353.5 1788.8L1354.5 1783.1L1355.4 1787.4L1356.4 1789.9L1357.4 1782.8L1358.4 1784.5L1359.4 1785.5L1360.4 1785.5L1361.4 1787.4L1362.4 1787.2L1363.4 1785.2L1364.3 1784.8L1365.3 1784.8L1366.3 1786.3L1367.3 1787.8L1368.3 1787.2L1369.3 1784.4L1370.3 1783.8L1371.3 1787.6L1372.3 1787.9L1373.2 1784.2L1374.2 1785.4L1375.2 1785.4L1376.2 1789.7L1377.2 1787.7L1378.2 1788.1L1379.2 1786.5L1380.2 1790.6L1381.1 1784.3L1382.1 1786.4L1383.1 1786.1L1384.1 1789.6L1385.1 1787.1L1386.1 1784.2L1387.1 1790.4L1388.1 1786.5L1389.1 1785.6L1390 1788.6L1391 1785.4L1392 1787.9L1393 1784.6L1394 1786.1L1395 1786.7L1396 1783L1397 1785.5L1397.9 1784.5L1398.9 1789.8L1399.9 1788.7L1400.9 1785.5L1401.9 1785.4L1402.9 1787.5L1403.9 1785.7L1404.9 1789.6L1405.9 1786.9L1406.8 1789.8L1407.8 1786.7L1408.8 1788.4L1409.8 1788.8L1410.8 1787.3L1411.8 1783.6L1412.8 1789.6L1413.8 1788.8L1414.8 1785.2L1415.7 1788.4L1416.7 1783.8L1417.7 1787.1L1418.7 1787.4L1419.7 1786.8L1420.7 1783.9L1421.7 1786.2L1422.7 1786.5L1423.6 1787.1L1424.6 1790.9L1425.6 1789.5L1426.6 1784.5L1427.6 1785.9L1428.6 1786.6L1429.6 1786.3L1430.6 1788.8L1431.6 1787L1432.5 1789.6L1433.5 1786.9L1434.5 1789.3L1435.5 1788.2L1436.5 1786.8L1437.5 1788.5L1438.5 1786.4L1439.5 1786.8L1440.5 1787L1441.4 1785L1442.4 1791L1443.4 1791.2L1444.4 1786.5L1445.4 1785.9L1446.4 1783.6L1447.4 1786.3L1448.4 1786.1L1449.3 1789.8L1450.3 1786.3L1451.3 1786.5L1452.3 1790.2L1453.3 1789.9L1454.3 1788.2L1455.3 1787.4L1456.3 1794.2L1457.3 1787.8L1458.2 1787.5L1459.2 1788.4L1460.2 1787.4L1461.2 1787.1L1462.2 1790.2L1463.2 1787.2L1464.2 1788.6L1465.2 1790.1L1466.1 1787.6L1467.1 1784.9L1468.1 1791.2L1469.1 1791.6L1470.1 1791.6L1471.1 1783.9L1472.1 1788.7L1473.1 1788.3L1474.1 1789.8L1475 1790.2L1476 1792.5L1477 1787.8L1478 1787.6L1479 1792.4L1480 1790.4L1481 1789.8L1482 1788.3L1483 1787.7L1483.9 1785.8L1484.9 1785.3L1485.9 1786L1486.9 1785.4L1487.9 1790.8L1488.9 1789.5L1489.9 1785.8L1490.9 1787.7L1491.8 1788.3L1492.8 1792.5L1493.8 1792.3L1494.8 1786.8L1495.8 1787.6L1496.8 1789L1497.8 1789.2L1498.8 1792L1499.8 1787.6L1500.7 1786.2L1501.7 1784.9L1502.7 1788.3L1503.7 1788.8L1504.7 1790.7L1505.7 1785.8L1506.7 1784.8L1507.7 1789.7L1508.7 1787.8L1509.6 1788.2L1510.6 1789.7L1511.6 1793.8L1512.6 1789.2L1513.6 1787.2L1514.6 1791.5L1515.6 1790.3L1516.6 1795.5L1517.5 1785.8L1518.5 1787.4L1519.5 1788.4L1520.5 1789.1L1521.5 1789.9L1522.5 1788.7L1523.5 1789.2L1524.5 1789.1L1525.5 1788.6L1526.4 1788.3L1527.4 1785.3L1528.4 1791.7L1529.4 1788L1530.4 1789.9L1531.4 1791L1532.4 1793.6L1533.4 1787.3L1534.3 1790.7L1535.3 1790.2L1536.3 1787.6L1537.3 1791L1538.3 1788.6L1539.3 1788.8L1540.3 1787L1541.3 1786.5L1542.3 1790.5L1543.2 1786.7L1544.2 1788.9L1545.2 1788.4L1546.2 1789.2L1547.2 1787.1L1548.2 1791.3L1549.2 1788.2L1550.2 1786.2L1551.2 1789.3L1552.1 1784.4L1553.1 1790.3L1554.1 1788.3L1555.1 1789.8L1556.1 1790.1L1557.1 1791.2L1558.1 1789.9L1559.1 1788.9L1560 1790.5L1561 1786.9L1562 1785.6L1563 1792.1L1564 1787L1565 1788.4L1566 1788.3L1567 1783.6L1568 1786.3L1568.9 1788.1L1569.9 1788.5L1570.9 1793.5L1571.9 1787.2L1572.9 1790.5L1573.9 1788.5L1574.9 1788.7L1575.9 1786.8L1576.9 1784.6L1577.8 1786.8L1578.8 1786.2L1579.8 1789.4L1580.8 1787.9L1581.8 1787.3L1582.8 1792L1583.8 1784.6L1584.8 1790.5L1585.7 1791.7L1586.7 1785.5L1587.7 1784.4L1588.7 1790.5L1589.7 1790.3L1590.7 1782.3L1591.7 1788.7L1592.7 1793.2L1593.7 1790.3L1594.6 1784.7L1595.6 1787.6L1596.6 1787.4L1597.6 1786.4L1598.6 1787.6L1599.6 1789.7L1600.6 1792.4L1601.6 1788.1L1602.5 1791.4L1603.5 1789.2L1604.5 1785.3L1605.5 1787.9L1606.5 1788.9L1607.5 1788.9L1608.5 1787.5L1609.5 1787.1L1610.5 1791.9L1611.4 1788.7L1612.4 1785.4L1613.4 1787.5L1614.4 1790.7L1615.4 1790.6L1616.4 1793.5L1617.4 1790.8L1618.4 1785.7L1619.4 1789.3L1620.3 1791L1621.3 1790.4L1622.3 1789.4L1623.3 1789.4L1624.3 1789.9L1625.3 1790.8L1626.3 1787.8L1627.3 1785.9L1628.2 1790.4L1629.2 1790.3L1630.2 1786.7L1631.2 1792.3L1632.2 1790.5L1633.2 1790L1634.2 1788.8L1635.2 1789.8L1636.2 1791.1L1637.1 1788.6L1638.1 1791.8L1639.1 1792.9L1640.1 1793.6L1641.1 1787.6L1642.1 1792.9L1643.1 1788.3L1644.1 1787.8L1645 1787.5L1646 1789.6L1647 1790.4L1648 1789.1L1649 1790.5L1650 1792L1651 1786.6L1652 1791.2L1653 1785.5L1653.9 1788.2L1654.9 1790.3L1655.9 1788.4L1656.9 1786.7L1657.9 1792.2L1658.9 1791.3L1659.9 1791.5L1660.9 1789L1661.9 1788.5L1662.8 1789.3L1663.8 1790.9L1664.8 1790.5L1665.8 1786.8L1666.8 1787L1667.8 1789.1L1668.8 1792.1L1669.8 1788L1670.7 1788.7L1671.7 1788.8L1672.7 1785.7L1673.7 1787.6L1674.7 1791.4L1675.7 1791.4L1676.7 1786.4L1677.7 1788.9L1678.7 1787.5L1679.6 1789.6L1680.6 1791.4L1681.6 1788.7L1682.6 1785.9L1683.6 1788.5L1684.6 1791.7L1685.6 1789.9L1686.6 1790.3L1687.6 1788.9L1688.5 1787.1L1689.5 1785L1690.5 1788.7L1691.5 1790.1L1692.5 1789L1693.5 1789.2L1694.5 1790.1L1695.5 1789.2L1696.4 1789.2L1697.4 1791.7L1698.4 1788.1L1699.4 1790L1700.4 1791.3" stroke="#2a98b4" stroke-width="2.0" fill="none" stroke-linejoin="round"/>
<path d="M969.7 1782.2L972.3 1783.6L975 1780.2L977.6 1782.1L980.3 1782.7L982.9 1783.9L985.6 1783.3L988.2 1781.3L990.9 1783.5L993.5 1781.2L996.2 1582.7L998.8 1489L1001.5 1495.5L1004.1 1501.4L1006.8 1504.1L1009.4 1493.1L1012 1518.1L1014.7 1525.7L1017.3 1519.8L1020 1514.6L1022.6 1530.2L1025.3 1544.2L1027.9 1546.7L1030.6 1553.3L1033.2 1578.3L1035.9 1601.4L1038.5 1592.5L1041.2 1605L1043.8 1604.2L1046.5 1616.8L1049.1 1620.5L1051.8 1616L1054.4 1624.5L1057.1 1630.6L1059.7 1622.2L1062.4 1643.1L1065 1646.7L1067.6 1638.6L1070.3 1660.2L1072.9 1667.8L1075.6 1650.7L1078.2 1661.4L1080.9 1663.4L1083.5 1666.8L1086.2 1668.7L1088.8 1681.3L1091.5 1682.3L1094.1 1692.6L1096.8 1688.4L1099.4 1691.4L1102.1 1699L1104.7 1695.5L1107.4 1685.2L1110 1711.4L1112.7 1702.5L1115.3 1704.1L1118 1705.5L1120.6 1717.8L1123.2 1708.8L1125.9 1713.6L1128.5 1719.5L1131.2 1722.4L1133.8 1720.9L1136.5 1719.1L1139.1 1721L1141.8 1715.5L1144.4 1730.5L1147.1 1727.2L1149.7 1733.9L1152.4 1729.5L1155 1734.1L1157.7 1739L1160.3 1743.8L1163 1742.5L1165.6 1739L1168.3 1734.5L1170.9 1738.8L1173.5 1748.9L1176.2 1746.7L1178.8 1745.3L1181.5 1747L1184.1 1747L1186.8 1744.8L1189.4 1748.2L1192.1 1753L1194.7 1759.2L1197.4 1753L1200 1759.5L1202.7 1753.7L1205.3 1752.4L1208 1760.2L1210.6 1755.8L1213.3 1757.3L1215.9 1748.6L1218.6 1755.3L1221.2 1765.7L1223.8 1756.6L1226.5 1757.3L1229.1 1760.5L1231.8 1761.7L1234.4 1758.3L1237.1 1758.6L1239.7 1760L1242.4 1766.2L1245 1763.7L1247.7 1769.3L1250.3 1769.5L1253 1766.1L1255.6 1768.4L1258.3 1766.2L1260.9 1755.1L1263.6 1763.3L1266.2 1769.1L1268.9 1774.4L1271.5 1769.5L1274.2 1772.2L1276.8 1775.4L1279.4 1764.3L1282.1 1769.3L1284.7 1766L1287.4 1756L1290 1767.2L1292.7 1768L1295.3 1767.4L1298 1770L1300.6 1772.4L1303.3 1770.2L1305.9 1765.3L1308.6 1770.9L1311.2 1775.3L1313.9 1775.1L1316.5 1774.5L1319.2 1770.7L1321.8 1769.2L1324.5 1769.4L1327.1 1766.9L1329.7 1772.3L1332.4 1768.6L1335 1770.7L1337.7 1769.5L1340.3 1779.1L1343 1767.8L1345.6 1778.3L1348.3 1776.9L1350.9 1770L1353.6 1774.5L1356.2 1766.7L1358.9 1772.8L1361.5 1777.3L1364.2 1773.1L1366.8 1775.2L1369.5 1768.2L1372.1 1768L1374.8 1771.4L1377.4 1775.7L1380.1 1774.1L1382.7 1770.6L1385.3 1777.5L1388 1777.6L1390.6 1771.7L1393.3 1772.3L1395.9 1775.9L1398.6 1776.1L1401.2 1782.4L1403.9 1771.1L1406.5 1775.9L1409.2 1780.8L1411.8 1779.8L1414.5 1779L1417.1 1769.7L1419.8 1773.5L1422.4 1780.9L1425.1 1769.5L1427.7 1771.5L1430.4 1780.2L1433 1786.1L1435.6 1773.1L1438.3 1778.8L1440.9 1777.2L1443.6 1778.7L1446.2 1772.4L1448.9 1771.7L1451.5 1774.2L1454.2 1777.7L1456.8 1776.4L1459.5 1775.2L1462.1 1783.1L1464.8 1773.1L1467.4 1778.8L1470.1 1776.8L1472.7 1777.3L1475.4 1774.6L1478 1774.1L1480.7 1770.1L1483.3 1779.3L1486 1781.3L1488.6 1777.7L1491.2 1780.6L1493.9 1775.3L1496.5 1781.2L1499.2 1778L1501.8 1775.2L1504.5 1775L1507.1 1777.9L1509.8 1773.7L1512.4 1774.2L1515.1 1784.8L1517.7 1777.6L1520.4 1778.3L1523 1780L1525.7 1781.3L1528.3 1778.9L1531 1777.8L1533.6 1778.2L1536.3 1774.5L1538.9 1775.8L1541.5 1781.4L1544.2 1782.1L1546.8 1776.5L1549.5 1782L1552.1 1779L1554.8 1778L1557.4 1776.1L1560.1 1777.9L1562.7 1774.7L1565.4 1781.4L1568 1777.5L1570.7 1782.2L1573.3 1779.3L1576 1779.6L1578.6 1783.3L1581.3 1789.2L1583.9 1776.9L1586.6 1779L1589.2 1779.8L1591.9 1782.8L1594.5 1781.5L1597.1 1778.9L1599.8 1780.4L1602.4 1776.5L1605.1 1780.2L1607.7 1783.5L1610.4 1778.6L1613 1782.9L1615.7 1780L1618.3 1787.1L1621 1782.1L1623.6 1779L1626.3 1783.2L1628.9 1781.1L1631.6 1779L1634.2 1780.9L1636.9 1775L1639.5 1782.1L1642.2 1781.9L1644.8 1781.8L1647.4 1788.1L1650.1 1786.6L1652.7 1779.6L1655.4 1782.6L1658 1776.7L1660.7 1781.8L1663.3 1782.1L1666 1778L1668.6 1780.6L1671.3 1776.1L1673.9 1785.3L1676.6 1780.2L1679.2 1779.4L1681.9 1779.8L1684.5 1777.8L1687.2 1778.3L1689.8 1781.7L1692.5 1783.7L1695.1 1778.5L1697.8 1781.7L1700.4 1778.6" stroke="#8e1212" stroke-width="2.2" fill="none" stroke-linejoin="round"/>
<rect x="959.1" y="1450.2" width="741.3" height="349.9" fill="none" stroke="#000" stroke-width="2.2"/>
<path d="M994.4 1800.1L994.4 1808.6M1170.9 1800.1L1170.9 1808.6M1347.4 1800.1L1347.4 1808.6M1523.9 1800.1L1523.9 1808.6M1700.4 1800.1L1700.4 1808.6M1082.7 1800.1L1082.7 1804.6M1259.2 1800.1L1259.2 1804.6M1435.7 1800.1L1435.7 1804.6M1612.2 1800.1L1612.2 1804.6" stroke="#000" stroke-width="2" fill="none"/>
<text x="994.4" y="1828.3" font-size="26.8" text-anchor="middle">0</text>
<text x="1170.9" y="1828.3" font-size="26.8" text-anchor="middle">5</text>
<text x="1347.4" y="1828.3" font-size="26.8" text-anchor="middle">10</text>
<text x="1523.9" y="1828.3" font-size="26.8" text-anchor="middle">15</text>
<text x="1700.4" y="1828.3" font-size="26.8" text-anchor="middle">20</text>
<path d="M959.1 1784.9L950.6 1784.9M959.1 1724L950.6 1724M959.1 1663.2L950.6 1663.2M959.1 1602.3L950.6 1602.3M959.1 1541.5L950.6 1541.5M959.1 1480.6L950.6 1480.6M959.1 1754.5L954.6 1754.5M959.1 1693.6L954.6 1693.6M959.1 1632.8L954.6 1632.8M959.1 1571.9L954.6 1571.9M959.1 1511.1L954.6 1511.1" stroke="#000" stroke-width="2" fill="none"/>
<text x="944.3" y="1794.5" font-size="26.8" text-anchor="end">0.0</text>
<text x="944.3" y="1733.6" font-size="26.8" text-anchor="end">0.2</text>
<text x="944.3" y="1672.8" font-size="26.8" text-anchor="end">0.4</text>
<text x="944.3" y="1611.9" font-size="26.8" text-anchor="end">0.6</text>
<text x="944.3" y="1551.1" font-size="26.8" text-anchor="end">0.8</text>
<text x="944.3" y="1490.2" font-size="26.8" text-anchor="end">1.0</text>
<text x="1330.3" y="1866.7" font-size="37.5" text-anchor="middle">Time (μs)</text>
<text x="892.9" y="1625.4" font-size="35.3" text-anchor="middle" transform="rotate(-90 892.9 1625.4)">Normalized ΔA@570 nm</text>
<text x="1142" y="1525.5" font-size="28.3" fill="#8e1212">IR806 (aerated)</text>
<text x="1142" y="1560" font-size="28.3" fill="#8e1212"><tspan font-family="Liberation Serif" font-style="italic" font-size="31">τ</tspan> = 3.01 μs</text>
<path d="M1136.5 1561L1046.5 1596.5" stroke="#8e1212" stroke-width="2.2" fill="none"/>
<text x="1153" y="1638.5" font-size="28.3" fill="#2a98b4">IR806-BTTQD 2 (aerated)</text>
<text x="1153" y="1671.3" font-size="28.3" fill="#2a98b4"><tspan font-family="Liberation Serif" font-style="italic" font-size="31">τ</tspan> = 1.18 μs</text>
<path d="M1151.3 1664.7L1080.9 1693.1" stroke="#2a98b4" stroke-width="2.2" fill="none"/>
<text x="31.5" y="1932.5" font-size="46" font-weight="bold">e</text>
<rect x="72.8" y="2490.6" width="429.8" height="9.7" fill="#000"/>
<path d="M96.9 2491V1910" stroke="#000" stroke-width="5.4" fill="none"/>
<path d="M107.9 1928L96.9 1908L85.9 1928" stroke="#000" stroke-width="5.4" fill="none" stroke-linecap="round" stroke-linejoin="round"/>
<path d="M99 2054.8L111.5 2054.8" stroke="#000" stroke-width="6" fill="none"/>
<text x="91" y="2066.6" font-size="33.5" text-anchor="end">1.5</text>
<path d="M99 2210.7L111.5 2210.7" stroke="#000" stroke-width="6" fill="none"/>
<text x="91" y="2222.5" font-size="33.5" text-anchor="end">1</text>
<path d="M99 2349.4L111.5 2349.4" stroke="#000" stroke-width="6" fill="none"/>
<text x="91" y="2361.2" font-size="33.5" text-anchor="end">0.5</text>
<text x="30.3" y="2208.2" font-size="34.8" text-anchor="middle" transform="rotate(-90 30.3 2208.2)">Energy (eV)</text>
<text x="111.9" y="2480.3" font-size="34.8">S</text>
<text x="134.6" y="2488.2" font-size="24">0</text>
<rect x="129" y="2046" width="134.2" height="9.8" fill="#000"/>
<text x="129.2" y="2027" font-size="22">1</text>
<text x="141.5" y="2037.6" font-size="34.8">[IR806]*</text>
<path d="M195.8 2491V2060" stroke="#000" stroke-width="5.4" fill="none"/>
<path d="M206.8 2077L195.8 2057L184.8 2077" stroke="#000" stroke-width="5.4" fill="none" stroke-linecap="round" stroke-linejoin="round"/>
<path d="M263.9 2055.1L368.2 2175.8" stroke="#548235" stroke-width="4.8" fill="none" stroke-linecap="butt"/>
<path d="M346.8 2167.9L368.2 2175.8L363.4 2153.5" stroke="#548235" stroke-width="4.8" fill="none" stroke-linecap="round" stroke-linejoin="round"/>
<rect x="365.6" y="2175.7" width="135" height="10.3" fill="#2f5597"/>
<text x="366.1" y="2156.5" font-size="22">3</text>
<text x="377.1" y="2167" font-size="34.8">[IR806]*</text>
<path d="M424.9 2188.2V2484" stroke="#7010ff" stroke-width="5" fill="none"/>
<path d="M414.3 2466.5L424.9 2486.5L435.5 2466.5" stroke="#7010ff" stroke-width="5" fill="none" stroke-linecap="round" stroke-linejoin="round"/>
<rect x="529.3" y="2221.5" width="134.8" height="10.3" fill="#c00000"/>
<text x="568.6" y="2203.3" font-size="22">1</text>
<text x="581.2" y="2213.8" font-size="34.8">O</text>
<text x="609.1" y="2221.6" font-size="24">2</text>
<rect x="529.3" y="2490.6" width="134.8" height="9.7" fill="#c00000"/>
<text x="568.2" y="2476.3" font-size="22">3</text>
<text x="579.3" y="2486.8" font-size="34.8">O</text>
<text x="607.2" y="2494.6" font-size="24">2</text>
<path d="M439.8 2202.2C515 2235 535 2390 460 2487" stroke="#c00000" stroke-width="3.5" fill="none" stroke-dasharray="10 4"/>
<path d="M458.3 2471.3L458.5 2489.7L474.1 2480" stroke="#c00000" stroke-width="3.5" fill="none" stroke-linecap="round" stroke-linejoin="round"/>
<path d="M550.3 2478.3C505 2440 505 2310 560.5 2251" stroke="#c00000" stroke-width="3.5" fill="none" stroke-dasharray="10 4"/>
<path d="M561.5 2267.6L562 2249.2L546.1 2258.3" stroke="#c00000" stroke-width="3.5" fill="none" stroke-linecap="round" stroke-linejoin="round"/>
<text x="324.5" y="2044.2" font-size="34.8" font-style="italic">k</text>
<text x="341.2" y="2051.2" font-size="23.3">ISC</text>
<text x="385.8" y="2044.2" font-size="34.8">≈</text>
<text x="415.5" y="2044.2" font-size="34.8">4.59</text>
<text x="494.3" y="2044.7" font-size="41">×</text>
<text x="525.8" y="2044.2" font-size="34.8">10</text>
<text x="566.1" y="2033.9" font-size="22">8</text>
<text x="587.8" y="2044.2" font-size="34.8">s</text>
<text x="605.3" y="2033.9" font-size="22">−1</text>
<text x="322.8" y="2092.9" font-size="34.8" font-style="italic">k</text>
<text x="340" y="2101.4" font-size="23" font-style="italic">0</text>
<text x="352.4" y="2106.2" font-size="23" font-style="italic">2-IR806</text>
<text x="446.6" y="2092.9" font-size="34.8">≈</text>
<text x="476.3" y="2092.9" font-size="34.8">1.13</text>
<text x="552.2" y="2093.4" font-size="41">×</text>
<text x="587.3" y="2092.9" font-size="34.8">10</text>
<text x="627.1" y="2082.6" font-size="22">5</text>
<text x="648.1" y="2092.9" font-size="34.8">s</text>
<text x="665.7" y="2082.6" font-size="22">−1</text>
<rect x="765.7" y="2492.8" width="411.1" height="10" fill="#000"/>
<path d="M789.1 2493V1911" stroke="#000" stroke-width="5" fill="none"/>
<path d="M800.1 1929.5L789.1 1909.5L778.1 1929.5" stroke="#000" stroke-width="5" fill="none" stroke-linecap="round" stroke-linejoin="round"/>
<path d="M791 2056.6L803.5 2056.6" stroke="#000" stroke-width="5.5" fill="none"/>
<text x="786" y="2068.4" font-size="33.5" text-anchor="end">1.5</text>
<path d="M791 2211.9L803.5 2211.9" stroke="#000" stroke-width="5.5" fill="none"/>
<text x="786" y="2223.7" font-size="33.5" text-anchor="end">1</text>
<path d="M791 2351.8L803.5 2351.8" stroke="#000" stroke-width="5.5" fill="none"/>
<text x="786" y="2363.6" font-size="33.5" text-anchor="end">0.5</text>
<text x="732.9" y="2209.7" font-size="34.8" text-anchor="middle" transform="rotate(-90 732.9 2209.7)">Energy (eV)</text>
<text x="803.5" y="2487.9" font-size="34.8">S</text>
<text x="826.2" y="2495.8" font-size="24">0</text>
<rect x="820.8" y="2047.2" width="134.6" height="10" fill="#000"/>
<text x="825.1" y="2026.8" font-size="22">1</text>
<text x="837.5" y="2037.3" font-size="34.8">[IR806]*</text>
<path d="M888.1 2493V2062" stroke="#000" stroke-width="5.4" fill="none"/>
<path d="M899.1 2079L888.1 2059L877.1 2079" stroke="#000" stroke-width="5.4" fill="none" stroke-linecap="round" stroke-linejoin="round"/>
<path d="M953.7 2057.1L1026.8 2184" stroke="#548235" stroke-width="4.8" fill="none" stroke-linecap="butt"/>
<path d="M1007.3 2172.2L1026.8 2184L1026.3 2161.2" stroke="#548235" stroke-width="4.8" fill="none" stroke-linecap="round" stroke-linejoin="round"/>
<rect x="1031.7" y="2177" width="134.9" height="10" fill="#2f5597"/>
<text x="1033.3" y="2156.7" font-size="22">3</text>
<text x="1045.4" y="2167.2" font-size="34.8">[IR806]*</text>
<path d="M1093 2192V2486" stroke="#7010ff" stroke-width="5" fill="none"/>
<path d="M1082.4 2468.5L1093 2488.5L1103.6 2468.5" stroke="#7010ff" stroke-width="5" fill="none" stroke-linecap="round" stroke-linejoin="round"/>
<path d="M1189.8 2174Q1275 2100 1423 2195.5" stroke="#000" stroke-width="3.2" fill="none"/>
<path d="M1405.9 2196.4L1425.3 2196.4L1416 2180.5" stroke="#000" stroke-width="3.2" fill="none" stroke-linecap="round" stroke-linejoin="round"/>
<rect x="1241.2" y="2223.6" width="134.2" height="10" fill="#c00000"/>
<text x="1281.3" y="2204.5" font-size="22">1</text>
<text x="1292.5" y="2215" font-size="34.8">O</text>
<text x="1320.1" y="2221.3" font-size="24">2</text>
<rect x="1241.2" y="2492.8" width="134.2" height="10" fill="#c00000"/>
<text x="1280.2" y="2472.8" font-size="22">3</text>
<text x="1290.7" y="2483.3" font-size="34.8">O</text>
<text x="1318.5" y="2490.7" font-size="24">2</text>
<path d="M1383.5 2236.2C1420 2260 1425 2400 1370 2490" stroke="#c00000" stroke-width="3.5" fill="none" stroke-dasharray="10 4"/>
<path d="M1367.7 2474.3L1368.6 2492.6L1383.8 2482.3" stroke="#c00000" stroke-width="3.5" fill="none" stroke-linecap="round" stroke-linejoin="round"/>
<path d="M1461 2483.3C1415 2440 1410 2320 1485.5 2232" stroke="#c00000" stroke-width="3.5" fill="none" stroke-dasharray="10 4"/>
<path d="M1487.3 2248.3L1487.1 2229.9L1471.5 2239.6" stroke="#c00000" stroke-width="3.5" fill="none" stroke-linecap="round" stroke-linejoin="round"/>
<rect x="1443.2" y="2492.8" width="306.2" height="10" fill="#000"/>
<rect x="1445" y="2200.2" width="134.9" height="10" fill="#ffc000"/>
<text x="1475.1" y="2180.3" font-size="22">3</text>
<text x="1485.5" y="2190.8" font-size="34.8">[An]*</text>
<rect x="1615.1" y="1976.2" width="134.6" height="9.7" fill="#ffc000"/>
<text x="1648.3" y="1954.4" font-size="22">1</text>
<text x="1658.9" y="1964.9" font-size="34.8">[An]*</text>
<path d="M1514.8 2210V2488" stroke="#ffd966" stroke-width="4.6" fill="none"/>
<path d="M1504.5 2473.5L1514.8 2491.5L1525.1 2473.5" stroke="#ffd966" stroke-width="4.6" fill="none" stroke-linecap="round" stroke-linejoin="round"/>
<path d="M1553.5 2199.1L1614.6 1989" stroke="#ffd966" stroke-width="4.9" fill="none" stroke-linecap="butt"/>
<path d="M1619.1 2011.1L1614.6 1989L1598.9 2005.3" stroke="#ffd966" stroke-width="4.9" fill="none" stroke-linecap="round" stroke-linejoin="round"/>
<path d="M1682.4 1986V2488" stroke="#f4b183" stroke-width="5.2" fill="none" stroke-dasharray="15 5.5"/>
<path d="M1671.4 2476.5L1682.4 2492.5L1693.4 2476.5" stroke="#f4b183" stroke-width="5.2" fill="none" stroke-linecap="round" stroke-linejoin="round"/>
<text x="1126.8" y="1983.6" font-size="34.8" font-style="italic">k</text>
<text x="1142.1" y="1990.1" font-size="23.3">ISC</text>
<text x="1187.5" y="1983.6" font-size="34.8">≈</text>
<text x="1216.6" y="1983.6" font-size="34.8">7.94</text>
<text x="1294.6" y="1984.1" font-size="41">×</text>
<text x="1328.3" y="1983.6" font-size="34.8">10</text>
<text x="1367.9" y="1973.3" font-size="22">8</text>
<text x="1389.6" y="1983.6" font-size="34.8">s</text>
<text x="1406.8" y="1973.3" font-size="22">−1</text>
<text x="1127.9" y="2025.8" font-size="34.8" font-style="italic">k</text>
<text x="1144.2" y="2033.4" font-size="23.3">TTET</text>
<text x="1206.6" y="2025.8" font-size="34.8">≈</text>
<text x="1236.4" y="2025.8" font-size="34.8">5.56</text>
<text x="1314" y="2026.3" font-size="41">×</text>
<text x="1338.9" y="2025.8" font-size="34.8">10</text>
<text x="1377.2" y="2015.5" font-size="22">5</text>
<text x="1400" y="2025.8" font-size="34.8">s</text>
<text x="1417.2" y="2015.5" font-size="22">−1</text>
<path d="M1123.4 2037.7L1139.2 2037.7" stroke="#000" stroke-width="2.2" fill="none"/>
<text x="1126.8" y="2069.1" font-size="34.8" font-style="italic">k</text>
<text x="1144.2" y="2077.8" font-size="23.3">TTET</text>
<text x="1212" y="2069.1" font-size="34.8">≈</text>
<text x="1240.7" y="2069.1" font-size="34.8">5.15</text>
<text x="1319" y="2069.6" font-size="41">×</text>
<text x="1343.8" y="2069.1" font-size="34.8">10</text>
<text x="1382.2" y="2058.8" font-size="22">5</text>
<text x="1404.9" y="2069.1" font-size="34.8">s</text>
<text x="1422.2" y="2058.8" font-size="22">−1</text>
<text x="1124.2" y="2115.7" font-size="34.8" font-style="italic">k</text>
<text x="1140.6" y="2123.3" font-size="23">0</text>
<text x="1152.6" y="2128.7" font-size="23">2-BTTQD 2</text>
<text x="1280.2" y="2115.7" font-size="34.8">≈</text>
<text x="1310.2" y="2115.7" font-size="34.8">0.9</text>
<text x="1367.2" y="2116.2" font-size="41">×</text>
<text x="1402.9" y="2115.7" font-size="34.8">10</text>
<text x="1441.4" y="2105.4" font-size="22">3</text>
<text x="1463.3" y="2115.7" font-size="34.8">s</text>
<text x="1481.4" y="2105.4" font-size="22">−1</text>
<text x="1526.5" y="2069.4" font-size="34.8">Φ</text>
<text x="1553.9" y="2077.5" font-size="22.2">TTA</text>
<text x="1603.7" y="2069.4" font-size="34.8">≈</text>
<text x="1632.2" y="2069.4" font-size="34.8">95.3%</text>
<text x="1526.5" y="2111.6" font-size="34.8">Φ</text>
<text x="1553.9" y="2119.7" font-size="22.2">TTA</text>
<text x="1600.4" y="2111.6" font-size="34.8">≈</text>
<text x="1629.7" y="2111.6" font-size="34.8">95.9%</text>
<path d="M1530.8 2083.2L1550.3 2083.2" stroke="#000" stroke-width="2.2" fill="none"/>
</svg></body></html>
